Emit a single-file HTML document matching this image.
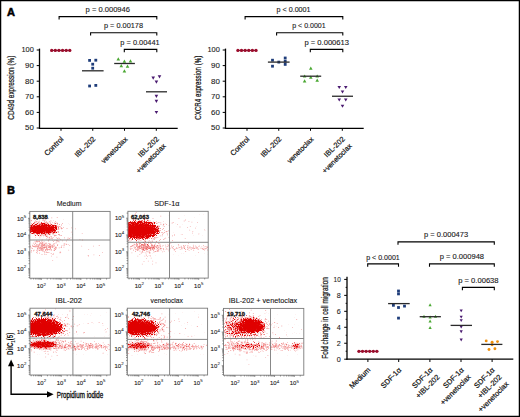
<!DOCTYPE html>
<html><head><meta charset="utf-8"><style>
html,body{margin:0;padding:0;background:#fff;}
body{width:520px;height:417px;overflow:hidden;}
svg{display:block;font-family:"Liberation Sans", sans-serif;}
</style></head><body>
<svg width="520" height="417" viewBox="0 0 520 417">
<rect width="520" height="417" fill="#fff"/>
<rect x="0.6" y="0.6" width="518.8" height="415.8" fill="none" stroke="#000" stroke-width="1.3"/>
<text x="6.90" y="15.80" font-size="11" text-anchor="start" fill="#000" stroke="#000" stroke-width="0.55" font-weight="bold" >A</text>
<text x="6.90" y="194.40" font-size="11" text-anchor="start" fill="#000" stroke="#000" stroke-width="0.55" font-weight="bold" >B</text>
<line x1="39.50" y1="48.60" x2="39.50" y2="128.80" stroke="#000" stroke-width="1.3"/>
<line x1="38.90" y1="128.30" x2="177.70" y2="128.30" stroke="#000" stroke-width="1.3"/>
<line x1="36.70" y1="50.00" x2="39.50" y2="50.00" stroke="#000" stroke-width="1.0"/>
<text x="33.80" y="52.40" font-size="7.2" text-anchor="end" fill="#1a1a1a" stroke="#1a1a1a" stroke-width="0.1" textLength="12.4" lengthAdjust="spacingAndGlyphs" >100</text>
<line x1="36.70" y1="65.60" x2="39.50" y2="65.60" stroke="#000" stroke-width="1.0"/>
<text x="33.80" y="68.00" font-size="7.2" text-anchor="end" fill="#1a1a1a" stroke="#1a1a1a" stroke-width="0.1" textLength="8.8" lengthAdjust="spacingAndGlyphs" >90</text>
<line x1="36.70" y1="81.20" x2="39.50" y2="81.20" stroke="#000" stroke-width="1.0"/>
<text x="33.80" y="83.60" font-size="7.2" text-anchor="end" fill="#1a1a1a" stroke="#1a1a1a" stroke-width="0.1" textLength="8.8" lengthAdjust="spacingAndGlyphs" >80</text>
<line x1="36.70" y1="96.80" x2="39.50" y2="96.80" stroke="#000" stroke-width="1.0"/>
<text x="33.80" y="99.20" font-size="7.2" text-anchor="end" fill="#1a1a1a" stroke="#1a1a1a" stroke-width="0.1" textLength="8.8" lengthAdjust="spacingAndGlyphs" >70</text>
<line x1="36.70" y1="112.40" x2="39.50" y2="112.40" stroke="#000" stroke-width="1.0"/>
<text x="33.80" y="114.80" font-size="7.2" text-anchor="end" fill="#1a1a1a" stroke="#1a1a1a" stroke-width="0.1" textLength="8.8" lengthAdjust="spacingAndGlyphs" >60</text>
<line x1="36.70" y1="128.00" x2="39.50" y2="128.00" stroke="#000" stroke-width="1.0"/>
<text x="33.80" y="130.40" font-size="7.2" text-anchor="end" fill="#1a1a1a" stroke="#1a1a1a" stroke-width="0.1" textLength="8.8" lengthAdjust="spacingAndGlyphs" >50</text>
<line x1="61.00" y1="128.00" x2="61.00" y2="130.80" stroke="#000" stroke-width="1.0"/>
<line x1="92.75" y1="128.00" x2="92.75" y2="130.80" stroke="#000" stroke-width="1.0"/>
<line x1="124.50" y1="128.00" x2="124.50" y2="130.80" stroke="#000" stroke-width="1.0"/>
<line x1="156.30" y1="128.00" x2="156.30" y2="130.80" stroke="#000" stroke-width="1.0"/>
<text x="0" y="0" font-size="8.8" text-anchor="middle" fill="#111" stroke="#111" stroke-width="0.22" transform="translate(14.2,87.7) rotate(-90)" textLength="64.0" lengthAdjust="spacingAndGlyphs">CD49d expression (%)</text>
<text x="0" y="0" font-size="7.4" text-anchor="end" fill="#111" stroke="#111" stroke-width="0.22" transform="translate(64.00,139.50) rotate(-45)">Control</text>
<text x="0" y="0" font-size="7.4" text-anchor="end" fill="#111" stroke="#111" stroke-width="0.22" transform="translate(95.95,139.50) rotate(-45)">IBL-202</text>
<text x="0" y="0" font-size="7.1" text-anchor="end" fill="#111" stroke="#111" stroke-width="0.22" transform="translate(127.90,139.80) rotate(-45)">venetoclax</text>
<text x="0" y="0" font-size="7.4" text-anchor="end" fill="#111" stroke="#111" stroke-width="0.22" transform="translate(159.30,139.50) rotate(-45)">IBL-202</text>
<text x="0" y="0" font-size="7.2" text-anchor="end" fill="#111" stroke="#111" stroke-width="0.22" transform="translate(166.30,146.50) rotate(-45)">+venetoclax</text>
<line x1="51.70" y1="50.40" x2="69.80" y2="50.40" stroke="#3a0a14" stroke-width="0.9"/>
<circle cx="51.70" cy="50.40" r="1.65" fill="#9c0c2c"/>
<circle cx="55.32" cy="50.40" r="1.65" fill="#9c0c2c"/>
<circle cx="58.94" cy="50.40" r="1.65" fill="#9c0c2c"/>
<circle cx="62.56" cy="50.40" r="1.65" fill="#9c0c2c"/>
<circle cx="66.18" cy="50.40" r="1.65" fill="#9c0c2c"/>
<circle cx="69.80" cy="50.40" r="1.65" fill="#9c0c2c"/>
<rect x="88.20" y="59.00" width="2.8" height="2.8" fill="#1f3d7a"/>
<rect x="94.40" y="58.80" width="2.8" height="2.8" fill="#1f3d7a"/>
<rect x="91.30" y="62.80" width="2.8" height="2.8" fill="#1f3d7a"/>
<rect x="91.30" y="66.80" width="2.8" height="2.8" fill="#1f3d7a"/>
<rect x="88.20" y="84.60" width="2.8" height="2.8" fill="#1f3d7a"/>
<rect x="94.40" y="84.00" width="2.8" height="2.8" fill="#1f3d7a"/>
<line x1="82.00" y1="70.80" x2="103.60" y2="70.80" stroke="#2a2a2a" stroke-width="1.3"/>
<path d="M116.50,60.52 L120.10,60.52 L118.30,57.28Z" fill="#4aa832"/>
<path d="M122.60,62.82 L126.20,62.82 L124.40,59.58Z" fill="#4aa832"/>
<path d="M128.70,62.42 L132.30,62.42 L130.50,59.18Z" fill="#4aa832"/>
<path d="M119.50,67.22 L123.10,67.22 L121.30,63.98Z" fill="#4aa832"/>
<path d="M125.70,67.82 L129.30,67.82 L127.50,64.58Z" fill="#4aa832"/>
<path d="M122.60,72.42 L126.20,72.42 L124.40,69.18Z" fill="#4aa832"/>
<line x1="114.20" y1="63.50" x2="134.90" y2="63.50" stroke="#2a2a2a" stroke-width="1.3"/>
<path d="M151.40,76.48 L155.00,76.48 L153.20,79.72Z" fill="#4a1a70"/>
<path d="M157.70,75.18 L161.30,75.18 L159.50,78.42Z" fill="#4a1a70"/>
<path d="M154.60,80.58 L158.20,80.58 L156.40,83.82Z" fill="#4a1a70"/>
<path d="M154.60,94.68 L158.20,94.68 L156.40,97.92Z" fill="#4a1a70"/>
<path d="M154.60,99.78 L158.20,99.78 L156.40,103.02Z" fill="#4a1a70"/>
<path d="M154.60,110.88 L158.20,110.88 L156.40,114.12Z" fill="#4a1a70"/>
<line x1="146.00" y1="91.80" x2="167.00" y2="91.80" stroke="#2a2a2a" stroke-width="1.3"/>
<path d="M59.10,19.40 L59.10,16.60 L156.80,16.60 L156.80,19.40" stroke="#000" stroke-width="1.1" fill="none"/>
<text x="85.60" y="12.00" font-size="7.2" text-anchor="start" fill="#1a1a1a" stroke="#1a1a1a" stroke-width="0.12" textLength="44.4" lengthAdjust="spacingAndGlyphs" >p = 0.000946</text>
<path d="M90.60,35.60 L90.60,32.80 L156.80,32.80 L156.80,35.60" stroke="#000" stroke-width="1.1" fill="none"/>
<text x="104.00" y="28.20" font-size="7.2" text-anchor="start" fill="#1a1a1a" stroke="#1a1a1a" stroke-width="0.12" textLength="39.0" lengthAdjust="spacingAndGlyphs" >p = 0.00178</text>
<path d="M124.30,52.20 L124.30,49.40 L156.80,49.40 L156.80,52.20" stroke="#000" stroke-width="1.1" fill="none"/>
<text x="120.30" y="44.80" font-size="7.2" text-anchor="start" fill="#1a1a1a" stroke="#1a1a1a" stroke-width="0.12" textLength="39.4" lengthAdjust="spacingAndGlyphs" >p = 0.00441</text>
<line x1="225.50" y1="48.60" x2="225.50" y2="128.80" stroke="#000" stroke-width="1.3"/>
<line x1="224.90" y1="128.30" x2="363.70" y2="128.30" stroke="#000" stroke-width="1.3"/>
<line x1="222.70" y1="50.00" x2="225.50" y2="50.00" stroke="#000" stroke-width="1.0"/>
<text x="219.80" y="52.40" font-size="7.2" text-anchor="end" fill="#1a1a1a" stroke="#1a1a1a" stroke-width="0.1" textLength="12.4" lengthAdjust="spacingAndGlyphs" >100</text>
<line x1="222.70" y1="65.60" x2="225.50" y2="65.60" stroke="#000" stroke-width="1.0"/>
<text x="219.80" y="68.00" font-size="7.2" text-anchor="end" fill="#1a1a1a" stroke="#1a1a1a" stroke-width="0.1" textLength="8.8" lengthAdjust="spacingAndGlyphs" >90</text>
<line x1="222.70" y1="81.20" x2="225.50" y2="81.20" stroke="#000" stroke-width="1.0"/>
<text x="219.80" y="83.60" font-size="7.2" text-anchor="end" fill="#1a1a1a" stroke="#1a1a1a" stroke-width="0.1" textLength="8.8" lengthAdjust="spacingAndGlyphs" >80</text>
<line x1="222.70" y1="96.80" x2="225.50" y2="96.80" stroke="#000" stroke-width="1.0"/>
<text x="219.80" y="99.20" font-size="7.2" text-anchor="end" fill="#1a1a1a" stroke="#1a1a1a" stroke-width="0.1" textLength="8.8" lengthAdjust="spacingAndGlyphs" >70</text>
<line x1="222.70" y1="112.40" x2="225.50" y2="112.40" stroke="#000" stroke-width="1.0"/>
<text x="219.80" y="114.80" font-size="7.2" text-anchor="end" fill="#1a1a1a" stroke="#1a1a1a" stroke-width="0.1" textLength="8.8" lengthAdjust="spacingAndGlyphs" >60</text>
<line x1="222.70" y1="128.00" x2="225.50" y2="128.00" stroke="#000" stroke-width="1.0"/>
<text x="219.80" y="130.40" font-size="7.2" text-anchor="end" fill="#1a1a1a" stroke="#1a1a1a" stroke-width="0.1" textLength="8.8" lengthAdjust="spacingAndGlyphs" >50</text>
<line x1="247.00" y1="128.00" x2="247.00" y2="130.80" stroke="#000" stroke-width="1.0"/>
<line x1="278.75" y1="128.00" x2="278.75" y2="130.80" stroke="#000" stroke-width="1.0"/>
<line x1="310.50" y1="128.00" x2="310.50" y2="130.80" stroke="#000" stroke-width="1.0"/>
<line x1="342.30" y1="128.00" x2="342.30" y2="130.80" stroke="#000" stroke-width="1.0"/>
<text x="0" y="0" font-size="8.8" text-anchor="middle" fill="#111" stroke="#111" stroke-width="0.22" transform="translate(200.79999999999998,87.7) rotate(-90)" textLength="64.0" lengthAdjust="spacingAndGlyphs">CXCR4 expression (%)</text>
<text x="0" y="0" font-size="7.4" text-anchor="end" fill="#111" stroke="#111" stroke-width="0.22" transform="translate(250.00,139.50) rotate(-45)">Control</text>
<text x="0" y="0" font-size="7.4" text-anchor="end" fill="#111" stroke="#111" stroke-width="0.22" transform="translate(281.95,139.50) rotate(-45)">IBL-202</text>
<text x="0" y="0" font-size="7.1" text-anchor="end" fill="#111" stroke="#111" stroke-width="0.22" transform="translate(313.90,139.80) rotate(-45)">venetoclax</text>
<text x="0" y="0" font-size="7.4" text-anchor="end" fill="#111" stroke="#111" stroke-width="0.22" transform="translate(345.30,139.50) rotate(-45)">IBL-202</text>
<text x="0" y="0" font-size="7.2" text-anchor="end" fill="#111" stroke="#111" stroke-width="0.22" transform="translate(352.30,146.50) rotate(-45)">+venetoclax</text>
<line x1="237.90" y1="50.40" x2="256.00" y2="50.40" stroke="#3a0a14" stroke-width="0.9"/>
<circle cx="237.90" cy="50.40" r="1.65" fill="#9c0c2c"/>
<circle cx="241.52" cy="50.40" r="1.65" fill="#9c0c2c"/>
<circle cx="245.14" cy="50.40" r="1.65" fill="#9c0c2c"/>
<circle cx="248.76" cy="50.40" r="1.65" fill="#9c0c2c"/>
<circle cx="252.38" cy="50.40" r="1.65" fill="#9c0c2c"/>
<circle cx="256.00" cy="50.40" r="1.65" fill="#9c0c2c"/>
<rect x="271.10" y="58.80" width="2.8" height="2.8" fill="#1f3d7a"/>
<rect x="271.10" y="64.80" width="2.8" height="2.8" fill="#1f3d7a"/>
<rect x="277.40" y="60.70" width="2.8" height="2.8" fill="#1f3d7a"/>
<rect x="283.80" y="56.60" width="2.8" height="2.8" fill="#1f3d7a"/>
<rect x="283.80" y="59.80" width="2.8" height="2.8" fill="#1f3d7a"/>
<rect x="283.80" y="63.00" width="2.8" height="2.8" fill="#1f3d7a"/>
<line x1="267.90" y1="62.10" x2="289.60" y2="62.10" stroke="#2a2a2a" stroke-width="1.3"/>
<path d="M309.00,69.82 L312.60,69.82 L310.80,66.58Z" fill="#4aa832"/>
<path d="M302.80,77.62 L306.40,77.62 L304.60,74.38Z" fill="#4aa832"/>
<path d="M309.00,78.72 L312.60,78.72 L310.80,75.48Z" fill="#4aa832"/>
<path d="M315.40,77.62 L319.00,77.62 L317.20,74.38Z" fill="#4aa832"/>
<path d="M302.80,82.52 L306.40,82.52 L304.60,79.28Z" fill="#4aa832"/>
<path d="M315.40,81.82 L319.00,81.82 L317.20,78.58Z" fill="#4aa832"/>
<line x1="300.20" y1="76.20" x2="321.20" y2="76.20" stroke="#2a2a2a" stroke-width="1.3"/>
<path d="M337.45,85.88 L341.05,85.88 L339.25,89.12Z" fill="#4a1a70"/>
<path d="M343.95,85.88 L347.55,85.88 L345.75,89.12Z" fill="#4a1a70"/>
<path d="M340.70,90.38 L344.30,90.38 L342.50,93.62Z" fill="#4a1a70"/>
<path d="M337.45,98.38 L341.05,98.38 L339.25,101.62Z" fill="#4a1a70"/>
<path d="M343.95,98.38 L347.55,98.38 L345.75,101.62Z" fill="#4a1a70"/>
<path d="M340.70,104.63 L344.30,104.63 L342.50,107.87Z" fill="#4a1a70"/>
<line x1="332.00" y1="96.25" x2="353.00" y2="96.25" stroke="#2a2a2a" stroke-width="1.3"/>
<path d="M245.10,19.40 L245.10,16.60 L342.80,16.60 L342.80,19.40" stroke="#000" stroke-width="1.1" fill="none"/>
<text x="276.50" y="12.00" font-size="7.2" text-anchor="start" fill="#1a1a1a" stroke="#1a1a1a" stroke-width="0.12" textLength="34.1" lengthAdjust="spacingAndGlyphs" >p &lt; 0.0001</text>
<path d="M276.60,35.60 L276.60,32.80 L342.80,32.80 L342.80,35.60" stroke="#000" stroke-width="1.1" fill="none"/>
<text x="292.25" y="28.20" font-size="7.2" text-anchor="start" fill="#1a1a1a" stroke="#1a1a1a" stroke-width="0.12" textLength="33.4" lengthAdjust="spacingAndGlyphs" >p &lt; 0.0001</text>
<path d="M310.30,52.20 L310.30,49.40 L342.80,49.40 L342.80,52.20" stroke="#000" stroke-width="1.1" fill="none"/>
<text x="304.50" y="44.80" font-size="7.2" text-anchor="start" fill="#1a1a1a" stroke="#1a1a1a" stroke-width="0.12" textLength="44.5" lengthAdjust="spacingAndGlyphs" >p = 0.000613</text>
<defs><filter id="bl" x="-50%" y="-50%" width="200%" height="200%"><feGaussianBlur stdDeviation="1.6"/></filter><filter id="bl2" x="-50%" y="-50%" width="200%" height="200%"><feGaussianBlur stdDeviation="3"/></filter><filter id="sm" x="-5%" y="-5%" width="110%" height="110%"><feGaussianBlur stdDeviation="0.45"/></filter><filter id="gr" x="-20%" y="-20%" width="140%" height="140%" color-interpolation-filters="sR0.05"><feTurbulence type="fractalNoise" baseFrequency="1.1" numOctaves="1" seed="5" result="n"/><feColorMatrix in="n" type="matrix" values="0 0 0 0 0  0 0 0 0 0  0 0 0 0 0  2.2 0 0 0 -0.6" result="na"/><feComposite in="SourceAlpha" in2="na" operator="arithmetic" k1="0" k2="3.5" k3="-3.5" k4="0.05" result="m"/><feFlood flood-color="#e00000"/><feComposite in2="m" operator="in"/></filter></defs>
<clipPath id="c1"><rect x="29.80" y="211.40" width="80.3" height="66.8"/></clipPath>
<g clip-path="url(#c1)"><g filter="url(#sm)">
<g filter="url(#gr)">
<ellipse cx="42" cy="229" rx="20.52" ry="7.28" fill="#000" fill-opacity="0.3" filter="url(#bl2)"/>
<ellipse cx="42" cy="229" rx="15.66" ry="4.93" fill="#000" fill-opacity="1.0" filter="url(#bl)"/>
</g>
<ellipse cx="42" cy="229" rx="12.32" ry="3.52" fill="#e00000" fill-opacity="1.0" filter="url(#bl)"/>
<path d="M45.0 230.3h.8v.8h-.8zM42.7 225.3h.8v.8h-.8zM41.1 224.8h.8v.8h-.8zM45.5 234.6h.8v.8h-.8zM40.8 226.4h.8v.8h-.8zM49.2 230.5h.8v.8h-.8zM45.9 225.1h.8v.8h-.8zM44.8 231.9h.8v.8h-.8zM33.6 227.1h.8v.8h-.8zM34.2 230.1h.8v.8h-.8zM46.3 228.2h.8v.8h-.8zM44.6 229.5h.8v.8h-.8zM32.0 227.0h.8v.8h-.8zM36.7 225.6h.8v.8h-.8zM54.0 225.6h.8v.8h-.8zM44.7 232.7h.8v.8h-.8zM40.0 228.5h.8v.8h-.8zM45.9 229.3h.8v.8h-.8zM34.6 229.3h.8v.8h-.8zM56.5 222.5h.8v.8h-.8zM52.3 229.5h.8v.8h-.8zM39.5 237.4h.8v.8h-.8zM51.5 224.0h.8v.8h-.8zM45.6 231.4h.8v.8h-.8zM43.4 231.9h.8v.8h-.8zM44.4 231.8h.8v.8h-.8zM57.2 226.2h.8v.8h-.8zM46.7 227.1h.8v.8h-.8zM46.1 224.0h.8v.8h-.8zM40.1 228.2h.8v.8h-.8zM52.6 233.8h.8v.8h-.8zM33.8 225.7h.8v.8h-.8zM50.5 220.6h.8v.8h-.8zM41.1 228.6h.8v.8h-.8zM55.7 231.9h.8v.8h-.8zM42.2 227.5h.8v.8h-.8zM42.9 235.4h.8v.8h-.8zM41.4 227.7h.8v.8h-.8zM48.0 228.5h.8v.8h-.8zM43.3 224.3h.8v.8h-.8zM44.9 227.1h.8v.8h-.8zM54.9 231.7h.8v.8h-.8zM44.8 231.8h.8v.8h-.8zM42.1 233.4h.8v.8h-.8zM45.0 231.5h.8v.8h-.8zM34.0 230.5h.8v.8h-.8zM30.7 220.5h.8v.8h-.8zM42.4 225.2h.8v.8h-.8zM46.4 238.4h.8v.8h-.8zM37.9 226.4h.8v.8h-.8zM46.7 231.1h.8v.8h-.8zM43.5 228.1h.8v.8h-.8zM51.0 231.2h.8v.8h-.8zM36.2 228.7h.8v.8h-.8zM45.3 224.6h.8v.8h-.8zM47.2 225.4h.8v.8h-.8zM53.3 229.8h.8v.8h-.8zM45.8 226.5h.8v.8h-.8zM44.0 220.6h.8v.8h-.8zM35.4 230.5h.8v.8h-.8zM30.2 232.2h.8v.8h-.8zM37.8 232.3h.8v.8h-.8zM46.1 222.5h.8v.8h-.8zM55.6 235.1h.8v.8h-.8zM44.4 227.8h.8v.8h-.8zM43.6 224.9h.8v.8h-.8zM54.3 226.7h.8v.8h-.8zM44.6 225.7h.8v.8h-.8zM39.7 223.6h.8v.8h-.8zM55.7 228.4h.8v.8h-.8zM53.2 229.1h.8v.8h-.8zM39.1 227.6h.8v.8h-.8zM40.2 229.0h.8v.8h-.8zM41.8 227.7h.8v.8h-.8zM33.3 225.6h.8v.8h-.8zM59.1 226.2h.8v.8h-.8zM36.0 230.4h.8v.8h-.8zM57.0 222.9h.8v.8h-.8zM43.2 226.3h.8v.8h-.8zM30.0 232.1h.8v.8h-.8zM44.8 229.3h.8v.8h-.8zM38.6 230.9h.8v.8h-.8zM40.4 228.4h.8v.8h-.8zM35.6 223.9h.8v.8h-.8zM56.4 226.9h.8v.8h-.8zM47.5 228.9h.8v.8h-.8zM41.3 226.9h.8v.8h-.8zM50.4 227.7h.8v.8h-.8zM43.7 229.1h.8v.8h-.8zM55.0 231.9h.8v.8h-.8zM48.3 226.6h.8v.8h-.8zM33.3 233.0h.8v.8h-.8zM53.2 228.4h.8v.8h-.8zM49.6 232.3h.8v.8h-.8zM52.1 232.9h.8v.8h-.8zM41.1 235.4h.8v.8h-.8zM34.4 232.6h.8v.8h-.8zM49.2 232.7h.8v.8h-.8zM61.0 235.2h.8v.8h-.8zM35.3 221.9h.8v.8h-.8zM51.9 224.7h.8v.8h-.8zM44.9 232.5h.8v.8h-.8zM31.0 220.1h.8v.8h-.8zM47.2 229.2h.8v.8h-.8zM42.9 229.2h.8v.8h-.8zM37.7 222.6h.8v.8h-.8zM43.6 224.9h.8v.8h-.8zM31.0 231.1h.8v.8h-.8zM44.5 230.7h.8v.8h-.8zM36.6 226.2h.8v.8h-.8zM36.5 225.3h.8v.8h-.8zM46.7 225.7h.8v.8h-.8zM48.0 230.4h.8v.8h-.8zM62.2 223.2h.8v.8h-.8zM52.5 228.6h.8v.8h-.8zM44.9 222.9h.8v.8h-.8zM41.1 232.1h.8v.8h-.8zM44.3 229.3h.8v.8h-.8zM42.5 233.8h.8v.8h-.8zM44.8 219.8h.8v.8h-.8zM39.1 220.7h.8v.8h-.8zM56.3 229.2h.8v.8h-.8zM35.0 225.0h.8v.8h-.8zM54.6 229.7h.8v.8h-.8zM45.4 228.8h.8v.8h-.8zM45.3 232.4h.8v.8h-.8zM49.7 229.9h.8v.8h-.8zM36.1 231.1h.8v.8h-.8zM39.2 233.6h.8v.8h-.8zM34.2 228.4h.8v.8h-.8zM44.9 223.4h.8v.8h-.8zM59.6 235.1h.8v.8h-.8zM41.1 232.2h.8v.8h-.8zM48.2 218.0h.8v.8h-.8zM47.1 228.7h.8v.8h-.8zM45.7 224.5h.8v.8h-.8zM42.7 228.3h.8v.8h-.8zM55.1 230.4h.8v.8h-.8zM45.0 235.4h.8v.8h-.8zM40.3 227.4h.8v.8h-.8zM53.2 232.9h.8v.8h-.8zM50.7 229.5h.8v.8h-.8zM46.8 227.9h.8v.8h-.8zM43.3 229.2h.8v.8h-.8zM57.9 231.3h.8v.8h-.8zM44.5 226.6h.8v.8h-.8zM39.6 235.7h.8v.8h-.8zM49.3 229.3h.8v.8h-.8zM42.1 224.3h.8v.8h-.8zM44.4 232.7h.8v.8h-.8zM41.7 228.0h.8v.8h-.8zM43.1 229.5h.8v.8h-.8zM31.5 228.0h.8v.8h-.8zM37.7 232.7h.8v.8h-.8zM38.4 231.4h.8v.8h-.8zM58.0 227.7h.8v.8h-.8zM39.9 229.8h.8v.8h-.8zM45.0 224.8h.8v.8h-.8zM48.9 237.5h.8v.8h-.8zM42.8 228.1h.8v.8h-.8zM36.1 230.3h.8v.8h-.8zM34.4 224.4h.8v.8h-.8zM55.9 225.2h.8v.8h-.8zM54.2 235.4h.8v.8h-.8zM47.2 231.3h.8v.8h-.8zM61.6 228.2h.8v.8h-.8zM40.0 223.3h.8v.8h-.8zM45.4 235.2h.8v.8h-.8zM53.2 225.0h.8v.8h-.8zM37.7 226.9h.8v.8h-.8zM47.5 228.1h.8v.8h-.8zM46.8 230.2h.8v.8h-.8zM42.5 228.8h.8v.8h-.8zM46.8 228.6h.8v.8h-.8zM49.3 236.9h.8v.8h-.8zM50.0 229.2h.8v.8h-.8zM30.7 230.6h.8v.8h-.8zM52.3 232.0h.8v.8h-.8zM43.7 221.8h.8v.8h-.8zM41.8 226.1h.8v.8h-.8zM50.4 238.5h.8v.8h-.8zM46.8 225.7h.8v.8h-.8zM35.1 228.8h.8v.8h-.8zM43.5 224.2h.8v.8h-.8zM46.0 224.2h.8v.8h-.8zM54.5 233.5h.8v.8h-.8zM54.2 227.0h.8v.8h-.8zM49.4 228.4h.8v.8h-.8zM41.7 227.6h.8v.8h-.8zM34.0 222.9h.8v.8h-.8zM51.8 228.2h.8v.8h-.8zM46.8 233.2h.8v.8h-.8zM30.3 225.7h.8v.8h-.8zM46.5 230.6h.8v.8h-.8zM41.8 233.3h.8v.8h-.8zM46.8 223.9h.8v.8h-.8zM37.1 232.4h.8v.8h-.8zM48.9 221.0h.8v.8h-.8zM56.5 231.5h.8v.8h-.8zM56.4 227.4h.8v.8h-.8zM42.5 224.3h.8v.8h-.8zM66.6 228.3h.8v.8h-.8zM58.5 226.3h.8v.8h-.8zM46.4 222.0h.8v.8h-.8zM41.7 233.1h.8v.8h-.8zM34.4 233.5h.8v.8h-.8zM47.9 224.6h.8v.8h-.8zM40.7 227.1h.8v.8h-.8zM44.6 226.7h.8v.8h-.8zM38.0 227.7h.8v.8h-.8zM36.3 223.6h.8v.8h-.8zM44.6 232.7h.8v.8h-.8zM32.0 229.0h.8v.8h-.8zM39.5 224.9h.8v.8h-.8zM52.3 226.8h.8v.8h-.8zM57.7 225.7h.8v.8h-.8zM48.3 228.0h.8v.8h-.8zM38.6 231.5h.8v.8h-.8zM43.7 231.5h.8v.8h-.8zM44.6 224.4h.8v.8h-.8zM44.1 229.2h.8v.8h-.8zM53.1 225.2h.8v.8h-.8zM44.7 221.8h.8v.8h-.8zM50.5 224.5h.8v.8h-.8zM54.4 222.6h.8v.8h-.8zM35.8 225.9h.8v.8h-.8zM35.4 230.6h.8v.8h-.8zM38.1 226.0h.8v.8h-.8zM50.0 225.8h.8v.8h-.8zM48.7 224.9h.8v.8h-.8zM34.7 221.3h.8v.8h-.8zM60.8 227.7h.8v.8h-.8zM47.1 228.9h.8v.8h-.8zM46.4 229.2h.8v.8h-.8zM61.2 224.6h.8v.8h-.8zM31.8 224.7h.8v.8h-.8zM33.7 232.1h.8v.8h-.8zM52.0 225.0h.8v.8h-.8zM33.2 227.5h.8v.8h-.8zM56.8 217.2h.8v.8h-.8zM49.5 224.5h.8v.8h-.8zM53.8 224.5h.8v.8h-.8zM42.6 222.7h.8v.8h-.8zM36.7 234.8h.8v.8h-.8zM52.0 227.3h.8v.8h-.8zM37.6 221.0h.8v.8h-.8zM41.7 228.9h.8v.8h-.8zM44.3 228.6h.8v.8h-.8zM35.5 228.7h.8v.8h-.8zM44.7 234.4h.8v.8h-.8zM60.9 228.4h.8v.8h-.8zM38.5 228.7h.8v.8h-.8zM39.8 225.9h.8v.8h-.8zM44.5 224.6h.8v.8h-.8zM50.2 228.6h.8v.8h-.8zM47.1 228.2h.8v.8h-.8zM38.8 225.0h.8v.8h-.8zM43.0 226.7h.8v.8h-.8zM47.0 229.0h.8v.8h-.8zM33.4 229.3h.8v.8h-.8zM33.6 226.4h.8v.8h-.8zM42.5 220.3h.8v.8h-.8zM45.8 229.6h.8v.8h-.8zM43.7 227.2h.8v.8h-.8zM41.8 224.9h.8v.8h-.8zM42.7 226.7h.8v.8h-.8zM45.8 223.9h.8v.8h-.8zM47.0 229.6h.8v.8h-.8zM43.8 227.2h.8v.8h-.8zM49.7 222.0h.8v.8h-.8zM48.9 230.0h.8v.8h-.8zM47.4 230.6h.8v.8h-.8zM39.4 227.9h.8v.8h-.8zM50.4 230.8h.8v.8h-.8zM46.8 222.6h.8v.8h-.8zM49.6 233.9h.8v.8h-.8zM53.6 230.0h.8v.8h-.8zM31.8 233.0h.8v.8h-.8zM43.7 218.4h.8v.8h-.8zM48.2 222.7h.8v.8h-.8zM34.0 226.3h.8v.8h-.8zM55.8 227.4h.8v.8h-.8zM47.3 236.3h.8v.8h-.8zM58.5 228.6h.8v.8h-.8zM42.9 223.7h.8v.8h-.8zM39.1 230.8h.8v.8h-.8zM48.4 229.5h.8v.8h-.8zM53.5 225.8h.8v.8h-.8zM44.5 232.1h.8v.8h-.8zM50.0 233.5h.8v.8h-.8zM48.4 227.7h.8v.8h-.8zM48.1 224.8h.8v.8h-.8zM31.1 231.4h.8v.8h-.8zM44.5 230.3h.8v.8h-.8zM30.6 227.5h.8v.8h-.8zM39.9 225.4h.8v.8h-.8zM52.6 230.6h.8v.8h-.8zM39.9 228.9h.8v.8h-.8zM51.4 217.4h.8v.8h-.8zM43.9 231.3h.8v.8h-.8zM50.8 236.1h.8v.8h-.8zM54.6 230.3h.8v.8h-.8zM47.6 232.3h.8v.8h-.8zM40.4 228.8h.8v.8h-.8zM52.7 237.2h.8v.8h-.8zM43.6 228.8h.8v.8h-.8zM46.7 234.6h.8v.8h-.8zM44.7 235.2h.8v.8h-.8zM36.8 228.2h.8v.8h-.8zM43.3 232.3h.8v.8h-.8zM53.9 222.7h.8v.8h-.8zM37.2 230.4h.8v.8h-.8zM39.4 222.6h.8v.8h-.8zM53.8 231.1h.8v.8h-.8zM49.2 227.0h.8v.8h-.8zM53.7 228.0h.8v.8h-.8zM54.3 225.2h.8v.8h-.8zM37.7 229.9h.8v.8h-.8zM39.0 231.8h.8v.8h-.8zM47.2 225.1h.8v.8h-.8zM45.6 227.5h.8v.8h-.8zM52.8 226.3h.8v.8h-.8zM41.3 234.1h.8v.8h-.8zM64.0 237.4h.8v.8h-.8zM45.5 229.9h.8v.8h-.8zM58.0 228.5h.8v.8h-.8zM36.7 229.5h.8v.8h-.8zM48.8 225.5h.8v.8h-.8zM31.0 223.0h.8v.8h-.8zM50.7 225.8h.8v.8h-.8zM43.8 229.9h.8v.8h-.8zM50.3 227.6h.8v.8h-.8zM49.2 225.3h.8v.8h-.8zM41.9 224.7h.8v.8h-.8zM54.6 228.9h.8v.8h-.8zM38.7 227.5h.8v.8h-.8zM43.1 231.9h.8v.8h-.8zM31.4 224.6h.8v.8h-.8zM41.8 239.6h.8v.8h-.8zM53.1 228.5h.8v.8h-.8zM51.1 237.6h.8v.8h-.8z" fill="#e00000" fill-opacity="0.45"/>
<path d="M40.9 246.0h.8v.8h-.8zM53.9 248.4h.8v.8h-.8zM49.0 245.6h.8v.8h-.8zM60.3 251.8h.8v.8h-.8zM48.1 248.9h.8v.8h-.8zM41.3 248.2h.8v.8h-.8zM49.1 246.0h.8v.8h-.8zM36.3 246.1h.8v.8h-.8zM37.6 246.0h.8v.8h-.8zM45.3 250.1h.8v.8h-.8zM60.8 247.1h.8v.8h-.8zM32.1 245.6h.8v.8h-.8zM43.7 241.4h.8v.8h-.8zM46.1 242.8h.8v.8h-.8zM45.7 246.7h.8v.8h-.8zM40.2 246.8h.8v.8h-.8zM38.1 245.3h.8v.8h-.8zM59.6 252.5h.8v.8h-.8zM54.9 249.0h.8v.8h-.8zM36.9 251.0h.8v.8h-.8zM42.5 246.8h.8v.8h-.8zM40.4 247.3h.8v.8h-.8zM39.1 246.8h.8v.8h-.8zM33.2 246.0h.8v.8h-.8zM63.5 246.8h.8v.8h-.8zM40.9 248.5h.8v.8h-.8zM49.4 243.9h.8v.8h-.8zM41.1 249.6h.8v.8h-.8zM45.4 247.3h.8v.8h-.8zM57.0 245.1h.8v.8h-.8zM43.7 245.5h.8v.8h-.8zM56.4 241.5h.8v.8h-.8zM37.0 245.5h.8v.8h-.8zM49.0 248.7h.8v.8h-.8zM55.6 242.6h.8v.8h-.8zM49.8 246.2h.8v.8h-.8zM37.0 248.5h.8v.8h-.8zM34.7 241.2h.8v.8h-.8zM39.7 242.8h.8v.8h-.8zM37.2 248.0h.8v.8h-.8zM45.8 251.4h.8v.8h-.8zM41.2 242.7h.8v.8h-.8zM36.2 244.4h.8v.8h-.8zM32.0 248.2h.8v.8h-.8zM37.2 241.5h.8v.8h-.8zM49.3 246.7h.8v.8h-.8zM46.2 247.3h.8v.8h-.8zM48.7 247.1h.8v.8h-.8zM54.1 248.2h.8v.8h-.8zM46.5 248.1h.8v.8h-.8zM29.9 246.5h.8v.8h-.8zM40.7 247.6h.8v.8h-.8zM30.8 251.6h.8v.8h-.8zM43.9 243.6h.8v.8h-.8zM42.2 245.0h.8v.8h-.8zM43.8 245.2h.8v.8h-.8zM48.0 245.0h.8v.8h-.8zM42.7 249.7h.8v.8h-.8zM66.1 244.2h.8v.8h-.8zM38.8 244.6h.8v.8h-.8zM50.1 243.8h.8v.8h-.8zM38.6 246.9h.8v.8h-.8zM34.2 244.3h.8v.8h-.8zM38.7 241.1h.8v.8h-.8zM30.0 245.8h.8v.8h-.8zM44.3 246.5h.8v.8h-.8zM50.2 248.6h.8v.8h-.8zM42.3 244.5h.8v.8h-.8zM48.7 245.4h.8v.8h-.8zM32.5 244.8h.8v.8h-.8zM56.0 247.6h.8v.8h-.8zM53.4 245.7h.8v.8h-.8zM51.4 245.3h.8v.8h-.8zM41.6 254.0h.8v.8h-.8zM49.9 245.6h.8v.8h-.8zM42.2 247.9h.8v.8h-.8zM53.9 245.6h.8v.8h-.8zM43.1 247.3h.8v.8h-.8zM54.9 247.9h.8v.8h-.8zM50.3 243.9h.8v.8h-.8zM50.8 252.9h.8v.8h-.8zM50.0 247.7h.8v.8h-.8zM44.4 252.0h.8v.8h-.8zM34.7 246.7h.8v.8h-.8zM47.1 249.1h.8v.8h-.8zM39.1 247.9h.8v.8h-.8zM40.5 247.3h.8v.8h-.8zM41.8 243.8h.8v.8h-.8zM42.8 249.5h.8v.8h-.8zM34.3 246.3h.8v.8h-.8zM49.0 244.0h.8v.8h-.8zM44.6 244.0h.8v.8h-.8zM53.2 253.5h.8v.8h-.8zM61.2 246.4h.8v.8h-.8zM49.7 247.3h.8v.8h-.8zM43.9 251.3h.8v.8h-.8zM31.1 250.0h.8v.8h-.8zM42.6 250.9h.8v.8h-.8zM44.7 245.1h.8v.8h-.8zM45.5 249.1h.8v.8h-.8zM43.3 248.4h.8v.8h-.8zM38.3 241.0h.8v.8h-.8zM51.1 249.0h.8v.8h-.8zM44.3 247.2h.8v.8h-.8zM52.3 245.7h.8v.8h-.8zM36.6 246.5h.8v.8h-.8zM53.7 243.1h.8v.8h-.8zM53.7 245.2h.8v.8h-.8zM33.1 250.5h.8v.8h-.8zM42.1 243.4h.8v.8h-.8zM39.8 249.6h.8v.8h-.8zM53.7 245.8h.8v.8h-.8zM46.7 249.0h.8v.8h-.8zM37.2 248.0h.8v.8h-.8zM42.7 245.5h.8v.8h-.8zM38.6 247.2h.8v.8h-.8zM43.3 245.4h.8v.8h-.8zM39.2 250.1h.8v.8h-.8zM44.9 249.5h.8v.8h-.8zM53.8 248.6h.8v.8h-.8zM63.4 244.7h.8v.8h-.8zM50.3 246.1h.8v.8h-.8zM59.7 251.8h.8v.8h-.8zM49.0 249.2h.8v.8h-.8zM49.6 246.8h.8v.8h-.8zM47.1 248.8h.8v.8h-.8zM42.3 249.9h.8v.8h-.8zM33.7 249.7h.8v.8h-.8zM40.9 244.5h.8v.8h-.8zM46.4 244.4h.8v.8h-.8zM34.8 242.6h.8v.8h-.8zM42.8 248.4h.8v.8h-.8zM52.2 246.6h.8v.8h-.8zM52.4 247.1h.8v.8h-.8zM42.2 248.6h.8v.8h-.8zM52.5 246.0h.8v.8h-.8zM40.8 246.5h.8v.8h-.8zM43.7 244.5h.8v.8h-.8zM52.3 245.9h.8v.8h-.8zM47.2 244.7h.8v.8h-.8zM46.2 248.1h.8v.8h-.8zM39.2 252.7h.8v.8h-.8zM46.3 252.0h.8v.8h-.8zM51.6 245.1h.8v.8h-.8zM39.6 248.2h.8v.8h-.8zM43.6 247.1h.8v.8h-.8zM40.4 241.9h.8v.8h-.8zM41.0 240.8h.8v.8h-.8zM46.3 245.0h.8v.8h-.8zM36.6 246.4h.8v.8h-.8zM45.5 243.0h.8v.8h-.8zM57.3 244.0h.8v.8h-.8zM48.9 243.2h.8v.8h-.8zM45.7 246.1h.8v.8h-.8zM42.5 248.6h.8v.8h-.8zM58.8 247.5h.8v.8h-.8zM44.1 244.3h.8v.8h-.8zM48.3 246.3h.8v.8h-.8zM50.5 246.9h.8v.8h-.8zM58.7 241.4h.8v.8h-.8zM40.3 249.5h.8v.8h-.8zM39.8 244.8h.8v.8h-.8zM40.6 243.1h.8v.8h-.8zM44.1 253.8h.8v.8h-.8zM53.3 243.9h.8v.8h-.8zM35.1 245.9h.8v.8h-.8zM52.0 244.7h.8v.8h-.8zM36.8 249.5h.8v.8h-.8zM50.8 246.0h.8v.8h-.8zM32.9 242.7h.8v.8h-.8zM36.7 240.8h.8v.8h-.8zM49.7 245.2h.8v.8h-.8zM47.3 252.2h.8v.8h-.8zM53.6 243.8h.8v.8h-.8zM50.8 250.2h.8v.8h-.8zM36.3 244.3h.8v.8h-.8zM42.0 242.5h.8v.8h-.8zM56.2 240.3h.8v.8h-.8zM33.0 246.2h.8v.8h-.8zM41.0 247.5h.8v.8h-.8zM45.4 246.4h.8v.8h-.8zM53.2 241.0h.8v.8h-.8zM43.0 245.0h.8v.8h-.8zM44.2 247.6h.8v.8h-.8zM34.8 245.2h.8v.8h-.8zM50.1 248.0h.8v.8h-.8zM36.9 252.7h.8v.8h-.8zM63.8 242.9h.8v.8h-.8zM45.7 254.0h.8v.8h-.8zM50.1 247.6h.8v.8h-.8zM41.1 245.5h.8v.8h-.8zM41.1 245.5h.8v.8h-.8zM49.7 245.9h.8v.8h-.8zM39.0 243.6h.8v.8h-.8zM42.6 244.5h.8v.8h-.8zM41.4 249.9h.8v.8h-.8zM46.3 248.4h.8v.8h-.8zM46.2 247.2h.8v.8h-.8zM41.9 246.1h.8v.8h-.8zM49.8 244.0h.8v.8h-.8zM55.1 247.1h.8v.8h-.8zM36.3 245.6h.8v.8h-.8zM36.9 247.4h.8v.8h-.8zM36.5 250.2h.8v.8h-.8zM36.0 240.6h.8v.8h-.8zM36.4 241.4h.8v.8h-.8zM42.6 250.0h.8v.8h-.8zM48.8 243.3h.8v.8h-.8zM36.1 252.0h.8v.8h-.8zM45.9 247.0h.8v.8h-.8zM52.5 253.9h.8v.8h-.8zM54.7 247.4h.8v.8h-.8zM46.2 248.7h.8v.8h-.8zM37.5 244.0h.8v.8h-.8zM43.5 244.3h.8v.8h-.8zM42.4 247.3h.8v.8h-.8zM64.1 244.6h.8v.8h-.8zM41.9 246.5h.8v.8h-.8zM46.9 249.9h.8v.8h-.8zM38.6 244.7h.8v.8h-.8zM47.8 247.1h.8v.8h-.8zM33.9 246.0h.8v.8h-.8zM43.3 248.4h.8v.8h-.8zM37.7 246.3h.8v.8h-.8zM57.6 240.9h.8v.8h-.8zM40.0 247.6h.8v.8h-.8zM39.6 244.7h.8v.8h-.8zM42.5 247.0h.8v.8h-.8zM42.3 241.7h.8v.8h-.8zM41.7 244.6h.8v.8h-.8zM38.1 247.6h.8v.8h-.8zM48.8 249.5h.8v.8h-.8zM38.5 249.6h.8v.8h-.8zM53.6 250.2h.8v.8h-.8zM55.5 246.6h.8v.8h-.8zM41.4 249.3h.8v.8h-.8zM30.7 247.6h.8v.8h-.8zM38.2 246.0h.8v.8h-.8zM42.8 249.5h.8v.8h-.8zM51.9 246.8h.8v.8h-.8zM41.3 244.7h.8v.8h-.8zM46.6 246.3h.8v.8h-.8zM48.5 251.9h.8v.8h-.8zM42.7 242.8h.8v.8h-.8zM35.3 242.9h.8v.8h-.8z" fill="#e00000" fill-opacity="0.45"/>
<path d="M51.1 255.8h.8v.8h-.8zM79.5 238.9h.8v.8h-.8zM88.1 255.6h.8v.8h-.8zM67.8 243.9h.8v.8h-.8zM68.3 249.7h.8v.8h-.8zM87.8 255.1h.8v.8h-.8zM99.2 255.1h.8v.8h-.8zM102.2 252.0h.8v.8h-.8zM44.4 247.2h.8v.8h-.8zM81.3 245.7h.8v.8h-.8zM93.2 245.8h.8v.8h-.8zM56.5 256.7h.8v.8h-.8zM88.3 249.3h.8v.8h-.8zM93.5 254.4h.8v.8h-.8zM81.8 233.3h.8v.8h-.8zM61.5 245.3h.8v.8h-.8zM55.3 249.2h.8v.8h-.8zM98.8 245.1h.8v.8h-.8zM52.3 260.2h.8v.8h-.8zM66.0 240.6h.8v.8h-.8z" fill="#e00000" fill-opacity="0.35"/>
<path d="M57.4 238.1h.8v.8h-.8zM47.9 240.0h.8v.8h-.8zM50.1 231.4h.8v.8h-.8zM56.8 239.9h.8v.8h-.8zM48.7 237.7h.8v.8h-.8zM54.1 250.1h.8v.8h-.8zM47.9 242.9h.8v.8h-.8zM54.5 235.4h.8v.8h-.8zM62.2 240.5h.8v.8h-.8zM67.7 237.6h.8v.8h-.8zM49.0 233.3h.8v.8h-.8zM60.1 238.9h.8v.8h-.8zM69.0 238.1h.8v.8h-.8zM65.6 243.6h.8v.8h-.8zM56.6 228.6h.8v.8h-.8zM43.2 228.8h.8v.8h-.8zM70.9 231.8h.8v.8h-.8zM67.3 238.9h.8v.8h-.8zM72.2 241.0h.8v.8h-.8zM54.0 235.0h.8v.8h-.8zM55.9 236.9h.8v.8h-.8zM49.7 235.8h.8v.8h-.8zM71.1 227.5h.8v.8h-.8zM57.6 231.5h.8v.8h-.8zM56.9 240.2h.8v.8h-.8zM54.4 239.9h.8v.8h-.8zM39.1 241.5h.8v.8h-.8zM49.0 239.1h.8v.8h-.8zM56.8 223.1h.8v.8h-.8zM47.4 237.1h.8v.8h-.8zM70.5 237.4h.8v.8h-.8zM57.6 228.9h.8v.8h-.8zM69.3 245.0h.8v.8h-.8zM55.3 234.9h.8v.8h-.8zM38.8 240.4h.8v.8h-.8zM82.0 239.6h.8v.8h-.8zM67.6 238.7h.8v.8h-.8zM45.1 242.7h.8v.8h-.8zM42.7 234.9h.8v.8h-.8zM57.8 240.4h.8v.8h-.8zM59.2 237.9h.8v.8h-.8zM47.4 229.6h.8v.8h-.8zM55.6 232.4h.8v.8h-.8zM41.9 229.7h.8v.8h-.8zM50.1 226.7h.8v.8h-.8zM41.5 227.8h.8v.8h-.8zM56.8 238.0h.8v.8h-.8zM75.1 228.5h.8v.8h-.8zM48.2 240.6h.8v.8h-.8zM52.8 234.4h.8v.8h-.8zM72.1 234.3h.8v.8h-.8zM43.4 229.4h.8v.8h-.8zM58.4 237.5h.8v.8h-.8zM41.3 231.1h.8v.8h-.8zM60.3 238.9h.8v.8h-.8zM48.6 239.1h.8v.8h-.8zM60.7 227.1h.8v.8h-.8zM51.9 238.1h.8v.8h-.8zM49.3 225.3h.8v.8h-.8zM52.2 239.8h.8v.8h-.8z" fill="#e00000" fill-opacity="0.35"/>
</g></g>
<rect x="29.80" y="211.40" width="80.3" height="66.8" fill="none" stroke="#7a7a7a" stroke-width="0.9"/>
<line x1="72.70" y1="211.40" x2="72.70" y2="278.20" stroke="#7a7a7a" stroke-width="0.9"/>
<line x1="29.80" y1="240.00" x2="110.10" y2="240.00" stroke="#7a7a7a" stroke-width="0.9"/>
<text x="69.15" y="206.20" font-size="7.6" text-anchor="middle" fill="#111" stroke="#111" stroke-width="0.1" textLength="24.7" lengthAdjust="spacingAndGlyphs" >Medium</text>
<text x="33.10" y="219.20" font-size="5.9" text-anchor="start" fill="#111" stroke="#111" stroke-width="0.3" font-weight="bold" >8,838</text>
<path d="M30.96 278.20v1.3M29.80 277.48h-1.3M33.43 278.20v1.3M29.80 275.39h-1.3M35.35 278.20v1.3M29.80 273.76h-1.3M36.91 278.20v1.3M29.80 272.43h-1.3M38.24 278.20v1.3M29.80 271.30h-1.3M39.38 278.20v1.3M29.80 270.33h-1.3M40.40 278.20v1.3M29.80 269.47h-1.3M41.30 278.20v1.8M29.80 268.70h-1.8M47.25 278.20v1.3M29.80 263.64h-1.3M50.73 278.20v1.3M29.80 260.68h-1.3M53.20 278.20v1.3M29.80 258.59h-1.3M55.12 278.20v1.3M29.80 256.96h-1.3M56.68 278.20v1.3M29.80 255.63h-1.3M58.01 278.20v1.3M29.80 254.50h-1.3M59.15 278.20v1.3M29.80 253.53h-1.3M60.17 278.20v1.3M29.80 252.67h-1.3M61.07 278.20v1.8M29.80 251.90h-1.8M67.02 278.20v1.3M29.80 246.84h-1.3M70.50 278.20v1.3M29.80 243.88h-1.3M72.97 278.20v1.3M29.80 241.79h-1.3M74.89 278.20v1.3M29.80 240.16h-1.3M76.45 278.20v1.3M29.80 238.83h-1.3M77.78 278.20v1.3M29.80 237.70h-1.3M78.92 278.20v1.3M29.80 236.73h-1.3M79.94 278.20v1.3M29.80 235.87h-1.3M80.84 278.20v1.8M29.80 235.10h-1.8M86.79 278.20v1.3M29.80 230.04h-1.3M90.27 278.20v1.3M29.80 227.08h-1.3M92.74 278.20v1.3M29.80 224.99h-1.3M94.66 278.20v1.3M29.80 223.36h-1.3M96.22 278.20v1.3M29.80 222.03h-1.3M97.55 278.20v1.3M29.80 220.90h-1.3M98.69 278.20v1.3M29.80 219.93h-1.3M99.71 278.20v1.3M29.80 219.07h-1.3M100.61 278.20v1.8M29.80 218.30h-1.8M106.56 278.20v1.3M29.80 213.24h-1.3" stroke="#666" stroke-width="0.7" fill="none"/>
<text x="23.50" y="220.50" font-size="6.2" text-anchor="end" fill="#222" stroke="#222" stroke-width="0.12" textLength="6.6" lengthAdjust="spacingAndGlyphs" >10</text>
<text x="23.70" y="217.70" font-size="4.4" text-anchor="start" fill="#222" stroke="#222" stroke-width="0.05" >5</text>
<text x="23.50" y="237.30" font-size="6.2" text-anchor="end" fill="#222" stroke="#222" stroke-width="0.12" textLength="6.6" lengthAdjust="spacingAndGlyphs" >10</text>
<text x="23.70" y="234.50" font-size="4.4" text-anchor="start" fill="#222" stroke="#222" stroke-width="0.05" >4</text>
<text x="23.50" y="254.10" font-size="6.2" text-anchor="end" fill="#222" stroke="#222" stroke-width="0.12" textLength="6.6" lengthAdjust="spacingAndGlyphs" >10</text>
<text x="23.70" y="251.30" font-size="4.4" text-anchor="start" fill="#222" stroke="#222" stroke-width="0.05" >3</text>
<text x="23.50" y="270.90" font-size="6.2" text-anchor="end" fill="#222" stroke="#222" stroke-width="0.12" textLength="6.6" lengthAdjust="spacingAndGlyphs" >10</text>
<text x="23.70" y="268.10" font-size="4.4" text-anchor="start" fill="#222" stroke="#222" stroke-width="0.05" >2</text>
<text x="43.30" y="288.30" font-size="6.2" text-anchor="end" fill="#222" stroke="#222" stroke-width="0.12" textLength="6.6" lengthAdjust="spacingAndGlyphs" >10</text>
<text x="43.50" y="285.50" font-size="4.4" text-anchor="start" fill="#222" stroke="#222" stroke-width="0.05" >2</text>
<text x="63.07" y="288.30" font-size="6.2" text-anchor="end" fill="#222" stroke="#222" stroke-width="0.12" textLength="6.6" lengthAdjust="spacingAndGlyphs" >10</text>
<text x="63.27" y="285.50" font-size="4.4" text-anchor="start" fill="#222" stroke="#222" stroke-width="0.05" >3</text>
<text x="82.84" y="288.30" font-size="6.2" text-anchor="end" fill="#222" stroke="#222" stroke-width="0.12" textLength="6.6" lengthAdjust="spacingAndGlyphs" >10</text>
<text x="83.04" y="285.50" font-size="4.4" text-anchor="start" fill="#222" stroke="#222" stroke-width="0.05" >4</text>
<text x="102.61" y="288.30" font-size="6.2" text-anchor="end" fill="#222" stroke="#222" stroke-width="0.12" textLength="6.6" lengthAdjust="spacingAndGlyphs" >10</text>
<text x="102.81" y="285.50" font-size="4.4" text-anchor="start" fill="#222" stroke="#222" stroke-width="0.05" >5</text>
<clipPath id="c2"><rect x="127.90" y="211.30" width="80.3" height="66.8"/></clipPath>
<g clip-path="url(#c2)"><g filter="url(#sm)">
<g filter="url(#gr)">
<ellipse cx="139" cy="230" rx="23.76" ry="11.76" fill="#000" fill-opacity="0.3" filter="url(#bl2)"/>
<ellipse cx="139" cy="230" rx="19.98" ry="9.18" fill="#000" fill-opacity="1.0" filter="url(#bl)"/>
<ellipse cx="145" cy="247" rx="10.80" ry="2.24" fill="#000" fill-opacity="0.4" filter="url(#bl2)"/>
<ellipse cx="180" cy="247.5" rx="32.40" ry="1.79" fill="#000" fill-opacity="0.22" filter="url(#bl2)"/>
</g>
<ellipse cx="139" cy="230" rx="15.72" ry="6.56" fill="#e00000" fill-opacity="1.0" filter="url(#bl)"/>
<path d="M160.4 215.8h.8v.8h-.8zM171.7 222.7h.8v.8h-.8zM153.5 238.0h.8v.8h-.8zM153.8 231.0h.8v.8h-.8zM130.2 234.1h.8v.8h-.8zM135.1 213.6h.8v.8h-.8zM174.1 234.6h.8v.8h-.8zM163.0 224.1h.8v.8h-.8zM159.1 240.3h.8v.8h-.8zM160.1 229.9h.8v.8h-.8zM129.8 228.8h.8v.8h-.8zM144.0 223.6h.8v.8h-.8zM141.2 229.3h.8v.8h-.8zM164.2 238.4h.8v.8h-.8zM142.5 237.9h.8v.8h-.8zM134.4 227.8h.8v.8h-.8zM153.0 221.9h.8v.8h-.8zM139.9 221.4h.8v.8h-.8zM144.3 240.6h.8v.8h-.8zM134.7 231.5h.8v.8h-.8zM133.1 222.5h.8v.8h-.8zM129.4 239.5h.8v.8h-.8zM169.0 233.1h.8v.8h-.8zM135.1 234.6h.8v.8h-.8zM139.3 235.2h.8v.8h-.8zM146.2 231.8h.8v.8h-.8zM149.7 226.2h.8v.8h-.8zM138.6 218.8h.8v.8h-.8zM138.1 220.8h.8v.8h-.8zM141.4 223.8h.8v.8h-.8zM144.1 232.9h.8v.8h-.8zM132.6 234.9h.8v.8h-.8zM161.8 235.5h.8v.8h-.8zM139.2 239.5h.8v.8h-.8zM135.8 211.9h.8v.8h-.8zM172.2 240.3h.8v.8h-.8zM131.6 231.1h.8v.8h-.8zM140.6 230.7h.8v.8h-.8zM148.1 231.4h.8v.8h-.8zM156.2 230.5h.8v.8h-.8zM168.8 225.3h.8v.8h-.8zM145.9 217.5h.8v.8h-.8zM129.2 238.6h.8v.8h-.8zM132.6 233.4h.8v.8h-.8zM142.3 223.2h.8v.8h-.8zM139.2 226.7h.8v.8h-.8zM137.6 234.9h.8v.8h-.8zM150.2 226.2h.8v.8h-.8zM133.0 231.8h.8v.8h-.8zM141.9 236.7h.8v.8h-.8zM172.2 235.5h.8v.8h-.8zM142.6 228.9h.8v.8h-.8zM133.6 224.1h.8v.8h-.8zM132.0 227.4h.8v.8h-.8zM138.3 234.8h.8v.8h-.8zM138.6 228.7h.8v.8h-.8zM129.6 240.7h.8v.8h-.8zM148.6 241.6h.8v.8h-.8zM151.8 239.7h.8v.8h-.8zM140.3 234.7h.8v.8h-.8zM172.8 222.0h.8v.8h-.8zM155.9 241.0h.8v.8h-.8zM147.6 235.0h.8v.8h-.8zM157.1 225.6h.8v.8h-.8zM147.6 224.2h.8v.8h-.8zM135.4 225.9h.8v.8h-.8zM141.4 231.0h.8v.8h-.8zM148.1 220.6h.8v.8h-.8zM165.3 237.7h.8v.8h-.8zM151.2 227.6h.8v.8h-.8zM142.0 233.6h.8v.8h-.8zM147.6 218.8h.8v.8h-.8zM151.4 249.4h.8v.8h-.8zM147.2 229.3h.8v.8h-.8zM158.5 222.1h.8v.8h-.8zM144.8 239.8h.8v.8h-.8zM140.8 227.2h.8v.8h-.8zM144.3 227.0h.8v.8h-.8zM160.5 223.9h.8v.8h-.8zM152.9 221.6h.8v.8h-.8zM150.6 229.3h.8v.8h-.8zM130.9 227.0h.8v.8h-.8zM160.4 222.5h.8v.8h-.8zM131.0 239.6h.8v.8h-.8zM144.3 240.3h.8v.8h-.8zM146.7 224.1h.8v.8h-.8zM142.3 238.2h.8v.8h-.8zM153.6 230.0h.8v.8h-.8zM143.6 229.2h.8v.8h-.8zM136.5 242.9h.8v.8h-.8zM143.1 222.4h.8v.8h-.8zM137.6 234.9h.8v.8h-.8zM150.3 229.1h.8v.8h-.8zM135.4 230.2h.8v.8h-.8zM152.0 226.8h.8v.8h-.8zM147.2 238.1h.8v.8h-.8zM150.3 230.1h.8v.8h-.8zM167.1 234.5h.8v.8h-.8zM139.0 234.9h.8v.8h-.8zM147.6 224.3h.8v.8h-.8zM143.8 228.9h.8v.8h-.8zM139.8 227.1h.8v.8h-.8zM142.6 230.7h.8v.8h-.8zM130.2 234.2h.8v.8h-.8zM129.3 228.5h.8v.8h-.8zM157.8 225.4h.8v.8h-.8zM137.2 237.2h.8v.8h-.8zM138.7 228.0h.8v.8h-.8zM145.5 237.0h.8v.8h-.8zM131.6 222.8h.8v.8h-.8zM133.3 224.4h.8v.8h-.8zM146.4 224.1h.8v.8h-.8zM144.4 232.7h.8v.8h-.8zM134.8 230.9h.8v.8h-.8zM161.5 232.1h.8v.8h-.8zM135.8 229.6h.8v.8h-.8zM132.7 231.8h.8v.8h-.8zM152.7 224.6h.8v.8h-.8zM140.6 237.4h.8v.8h-.8zM137.4 231.2h.8v.8h-.8zM131.5 224.6h.8v.8h-.8zM137.2 244.1h.8v.8h-.8zM138.5 226.6h.8v.8h-.8zM136.8 228.9h.8v.8h-.8zM150.2 231.2h.8v.8h-.8zM165.6 231.4h.8v.8h-.8zM158.9 231.8h.8v.8h-.8zM149.7 220.6h.8v.8h-.8zM141.6 229.6h.8v.8h-.8zM140.3 216.0h.8v.8h-.8zM152.7 227.5h.8v.8h-.8zM138.2 228.3h.8v.8h-.8zM140.5 232.6h.8v.8h-.8zM129.0 223.9h.8v.8h-.8zM146.2 230.9h.8v.8h-.8zM138.9 226.3h.8v.8h-.8zM133.8 229.6h.8v.8h-.8zM156.0 223.1h.8v.8h-.8zM159.8 235.5h.8v.8h-.8zM138.0 235.1h.8v.8h-.8zM128.8 227.3h.8v.8h-.8zM139.4 226.7h.8v.8h-.8zM144.1 216.1h.8v.8h-.8zM148.4 220.8h.8v.8h-.8zM135.7 227.3h.8v.8h-.8zM130.3 221.1h.8v.8h-.8zM131.9 229.9h.8v.8h-.8zM149.5 233.7h.8v.8h-.8zM132.1 224.9h.8v.8h-.8zM132.9 232.9h.8v.8h-.8zM137.7 224.9h.8v.8h-.8zM146.7 236.7h.8v.8h-.8zM146.8 236.8h.8v.8h-.8zM144.5 238.0h.8v.8h-.8zM156.7 229.4h.8v.8h-.8zM158.8 231.1h.8v.8h-.8zM144.0 224.0h.8v.8h-.8zM139.8 235.1h.8v.8h-.8zM128.6 234.2h.8v.8h-.8zM146.8 231.8h.8v.8h-.8zM150.1 225.0h.8v.8h-.8zM144.0 214.5h.8v.8h-.8zM150.4 225.7h.8v.8h-.8zM152.6 218.0h.8v.8h-.8zM150.6 228.5h.8v.8h-.8zM151.9 224.0h.8v.8h-.8zM136.2 244.6h.8v.8h-.8zM133.9 225.4h.8v.8h-.8zM140.0 223.4h.8v.8h-.8zM156.1 241.2h.8v.8h-.8zM135.3 218.8h.8v.8h-.8zM155.9 237.2h.8v.8h-.8zM152.0 237.5h.8v.8h-.8zM133.5 228.9h.8v.8h-.8zM153.8 225.6h.8v.8h-.8zM168.1 230.5h.8v.8h-.8zM136.0 235.2h.8v.8h-.8zM162.8 233.2h.8v.8h-.8zM129.6 232.4h.8v.8h-.8zM158.1 226.8h.8v.8h-.8zM134.5 236.6h.8v.8h-.8zM144.5 222.8h.8v.8h-.8zM138.8 225.1h.8v.8h-.8zM146.3 230.7h.8v.8h-.8zM155.7 234.6h.8v.8h-.8zM152.9 233.0h.8v.8h-.8zM154.3 226.4h.8v.8h-.8zM132.5 236.0h.8v.8h-.8zM131.3 216.0h.8v.8h-.8zM154.3 225.3h.8v.8h-.8zM139.6 220.9h.8v.8h-.8zM128.4 222.5h.8v.8h-.8zM139.0 232.4h.8v.8h-.8zM130.0 223.1h.8v.8h-.8zM150.5 229.5h.8v.8h-.8zM133.5 231.6h.8v.8h-.8zM145.2 239.2h.8v.8h-.8zM138.0 236.6h.8v.8h-.8zM134.8 237.3h.8v.8h-.8zM134.6 227.6h.8v.8h-.8zM163.9 232.1h.8v.8h-.8zM144.2 244.6h.8v.8h-.8zM147.0 224.7h.8v.8h-.8zM151.1 222.3h.8v.8h-.8zM155.4 237.8h.8v.8h-.8zM136.7 225.9h.8v.8h-.8zM144.9 230.1h.8v.8h-.8zM132.2 233.7h.8v.8h-.8zM138.6 228.2h.8v.8h-.8zM146.4 222.0h.8v.8h-.8zM149.5 228.8h.8v.8h-.8zM135.8 221.1h.8v.8h-.8zM130.0 232.3h.8v.8h-.8zM132.4 230.4h.8v.8h-.8zM154.7 236.7h.8v.8h-.8zM160.2 228.1h.8v.8h-.8zM131.1 236.6h.8v.8h-.8zM146.4 237.3h.8v.8h-.8zM143.1 237.8h.8v.8h-.8zM152.3 234.7h.8v.8h-.8zM148.5 232.6h.8v.8h-.8zM145.6 231.5h.8v.8h-.8zM153.9 226.7h.8v.8h-.8zM162.1 229.3h.8v.8h-.8zM153.8 229.4h.8v.8h-.8zM140.3 243.2h.8v.8h-.8zM139.6 221.7h.8v.8h-.8zM135.1 227.9h.8v.8h-.8zM166.7 231.3h.8v.8h-.8zM153.3 223.5h.8v.8h-.8zM146.9 234.4h.8v.8h-.8zM162.8 225.5h.8v.8h-.8zM149.6 232.0h.8v.8h-.8zM131.8 229.9h.8v.8h-.8zM140.1 214.9h.8v.8h-.8zM149.6 233.5h.8v.8h-.8zM138.2 221.3h.8v.8h-.8zM159.3 231.7h.8v.8h-.8zM154.2 239.2h.8v.8h-.8zM137.3 235.3h.8v.8h-.8zM140.3 229.6h.8v.8h-.8zM142.1 230.0h.8v.8h-.8zM155.3 230.8h.8v.8h-.8zM141.3 228.2h.8v.8h-.8zM146.8 224.2h.8v.8h-.8zM137.5 229.7h.8v.8h-.8zM136.8 229.2h.8v.8h-.8zM136.3 243.0h.8v.8h-.8zM157.6 232.9h.8v.8h-.8zM142.4 244.2h.8v.8h-.8zM146.6 229.4h.8v.8h-.8zM146.3 232.0h.8v.8h-.8zM158.5 229.9h.8v.8h-.8zM166.1 224.3h.8v.8h-.8zM150.6 223.5h.8v.8h-.8zM163.0 227.9h.8v.8h-.8zM142.4 236.0h.8v.8h-.8zM156.8 222.8h.8v.8h-.8zM139.2 220.9h.8v.8h-.8zM144.5 229.3h.8v.8h-.8zM139.2 225.6h.8v.8h-.8zM138.8 225.1h.8v.8h-.8zM148.8 239.9h.8v.8h-.8zM138.4 233.2h.8v.8h-.8zM132.5 229.0h.8v.8h-.8zM131.6 234.5h.8v.8h-.8zM144.1 229.0h.8v.8h-.8zM147.1 228.4h.8v.8h-.8zM146.2 229.0h.8v.8h-.8zM153.8 237.9h.8v.8h-.8zM131.0 224.9h.8v.8h-.8zM160.0 239.2h.8v.8h-.8zM134.9 222.3h.8v.8h-.8zM136.0 226.8h.8v.8h-.8zM128.9 222.1h.8v.8h-.8zM153.1 225.6h.8v.8h-.8zM142.2 234.1h.8v.8h-.8zM151.9 227.8h.8v.8h-.8zM143.5 224.6h.8v.8h-.8zM162.2 234.2h.8v.8h-.8zM130.9 230.0h.8v.8h-.8zM150.8 233.1h.8v.8h-.8zM163.1 238.9h.8v.8h-.8zM137.1 229.4h.8v.8h-.8zM128.9 231.6h.8v.8h-.8zM144.7 247.6h.8v.8h-.8zM144.1 216.4h.8v.8h-.8zM135.6 230.7h.8v.8h-.8zM129.2 224.4h.8v.8h-.8zM139.0 232.2h.8v.8h-.8zM141.2 224.2h.8v.8h-.8zM151.7 226.5h.8v.8h-.8zM137.5 221.0h.8v.8h-.8zM134.4 234.2h.8v.8h-.8zM150.9 227.5h.8v.8h-.8zM145.6 222.7h.8v.8h-.8zM157.4 237.2h.8v.8h-.8zM145.6 218.6h.8v.8h-.8zM131.5 236.3h.8v.8h-.8zM161.8 231.9h.8v.8h-.8zM156.7 226.0h.8v.8h-.8zM140.9 230.0h.8v.8h-.8zM147.7 220.1h.8v.8h-.8zM153.3 238.6h.8v.8h-.8zM130.4 221.2h.8v.8h-.8zM146.9 225.7h.8v.8h-.8zM144.7 226.9h.8v.8h-.8zM166.2 230.9h.8v.8h-.8zM134.7 230.7h.8v.8h-.8zM131.6 225.0h.8v.8h-.8zM147.2 226.4h.8v.8h-.8zM138.0 240.8h.8v.8h-.8zM152.5 235.2h.8v.8h-.8zM148.8 233.1h.8v.8h-.8zM159.0 229.9h.8v.8h-.8zM163.4 223.8h.8v.8h-.8zM140.2 221.0h.8v.8h-.8zM139.2 233.4h.8v.8h-.8zM159.0 225.7h.8v.8h-.8zM143.1 227.7h.8v.8h-.8zM134.9 222.3h.8v.8h-.8zM143.7 218.7h.8v.8h-.8zM144.2 230.1h.8v.8h-.8zM135.8 223.4h.8v.8h-.8zM128.2 240.1h.8v.8h-.8zM149.6 227.6h.8v.8h-.8z" fill="#e00000" fill-opacity="0.45"/>
<path d="M135.7 249.0h.8v.8h-.8zM158.8 245.2h.8v.8h-.8zM142.6 249.0h.8v.8h-.8zM147.7 250.8h.8v.8h-.8zM140.4 248.0h.8v.8h-.8zM135.0 251.0h.8v.8h-.8zM139.2 242.8h.8v.8h-.8zM144.0 246.7h.8v.8h-.8zM160.3 246.4h.8v.8h-.8zM144.9 248.1h.8v.8h-.8zM157.7 246.9h.8v.8h-.8zM153.3 248.0h.8v.8h-.8zM142.6 247.1h.8v.8h-.8zM145.2 245.3h.8v.8h-.8zM154.7 244.4h.8v.8h-.8zM154.4 248.8h.8v.8h-.8zM144.3 245.5h.8v.8h-.8zM143.2 247.9h.8v.8h-.8zM150.9 247.5h.8v.8h-.8zM152.9 245.9h.8v.8h-.8zM146.9 244.0h.8v.8h-.8zM151.1 247.3h.8v.8h-.8zM141.7 249.2h.8v.8h-.8zM150.5 241.6h.8v.8h-.8zM145.3 244.2h.8v.8h-.8zM153.5 251.7h.8v.8h-.8zM140.9 247.1h.8v.8h-.8zM143.0 247.7h.8v.8h-.8zM150.2 249.4h.8v.8h-.8zM137.1 250.0h.8v.8h-.8zM137.5 247.5h.8v.8h-.8zM154.3 248.4h.8v.8h-.8zM137.5 245.7h.8v.8h-.8zM141.3 246.9h.8v.8h-.8zM154.2 244.5h.8v.8h-.8zM148.7 248.2h.8v.8h-.8zM149.5 247.9h.8v.8h-.8zM157.1 247.9h.8v.8h-.8zM151.9 248.1h.8v.8h-.8zM159.3 243.4h.8v.8h-.8zM155.3 246.5h.8v.8h-.8zM142.8 245.2h.8v.8h-.8zM130.1 246.3h.8v.8h-.8zM139.5 247.9h.8v.8h-.8zM133.2 249.7h.8v.8h-.8zM147.2 246.5h.8v.8h-.8zM139.3 245.5h.8v.8h-.8zM136.0 246.0h.8v.8h-.8zM145.0 246.7h.8v.8h-.8zM133.7 246.5h.8v.8h-.8zM137.9 247.3h.8v.8h-.8zM159.9 248.2h.8v.8h-.8zM142.5 243.9h.8v.8h-.8zM133.7 243.8h.8v.8h-.8zM150.8 245.5h.8v.8h-.8zM145.5 245.8h.8v.8h-.8zM145.7 249.7h.8v.8h-.8zM139.5 246.4h.8v.8h-.8zM138.5 248.7h.8v.8h-.8zM136.8 244.8h.8v.8h-.8zM133.9 244.3h.8v.8h-.8zM148.8 251.9h.8v.8h-.8zM137.0 248.8h.8v.8h-.8zM147.0 244.9h.8v.8h-.8zM142.8 246.6h.8v.8h-.8zM139.5 250.7h.8v.8h-.8zM129.8 247.7h.8v.8h-.8zM147.7 245.9h.8v.8h-.8zM146.2 248.7h.8v.8h-.8zM146.2 247.8h.8v.8h-.8zM150.5 243.1h.8v.8h-.8zM156.8 251.3h.8v.8h-.8zM152.8 248.9h.8v.8h-.8zM133.7 246.8h.8v.8h-.8zM138.5 245.9h.8v.8h-.8zM152.7 245.5h.8v.8h-.8zM144.0 243.4h.8v.8h-.8zM143.7 247.2h.8v.8h-.8zM139.4 245.6h.8v.8h-.8zM160.1 244.7h.8v.8h-.8zM136.6 245.5h.8v.8h-.8zM154.6 251.0h.8v.8h-.8zM147.7 245.6h.8v.8h-.8zM141.6 249.0h.8v.8h-.8zM137.7 249.8h.8v.8h-.8zM156.3 247.1h.8v.8h-.8zM150.2 248.4h.8v.8h-.8zM157.4 245.0h.8v.8h-.8zM154.4 246.3h.8v.8h-.8zM138.9 247.2h.8v.8h-.8zM143.3 245.1h.8v.8h-.8zM132.2 245.2h.8v.8h-.8zM156.6 250.7h.8v.8h-.8zM150.2 249.3h.8v.8h-.8zM140.9 246.9h.8v.8h-.8zM147.3 244.9h.8v.8h-.8zM137.1 247.2h.8v.8h-.8zM142.4 245.0h.8v.8h-.8zM148.1 246.5h.8v.8h-.8zM153.2 247.0h.8v.8h-.8zM142.6 247.2h.8v.8h-.8zM143.6 245.7h.8v.8h-.8zM141.8 248.4h.8v.8h-.8zM150.2 249.4h.8v.8h-.8zM131.5 246.3h.8v.8h-.8zM141.7 247.3h.8v.8h-.8zM141.4 246.0h.8v.8h-.8zM151.3 247.3h.8v.8h-.8zM135.7 249.5h.8v.8h-.8zM153.0 245.9h.8v.8h-.8zM151.7 245.6h.8v.8h-.8zM154.0 246.6h.8v.8h-.8zM138.6 246.3h.8v.8h-.8zM138.9 247.4h.8v.8h-.8zM146.4 247.1h.8v.8h-.8zM140.5 240.0h.8v.8h-.8zM145.7 243.4h.8v.8h-.8zM147.0 249.1h.8v.8h-.8zM147.2 246.3h.8v.8h-.8zM143.6 246.7h.8v.8h-.8zM140.6 245.9h.8v.8h-.8zM137.6 249.3h.8v.8h-.8zM144.9 248.8h.8v.8h-.8zM143.0 247.1h.8v.8h-.8zM143.6 247.9h.8v.8h-.8zM151.6 247.5h.8v.8h-.8zM139.6 245.5h.8v.8h-.8zM158.3 246.5h.8v.8h-.8zM142.7 249.8h.8v.8h-.8zM153.7 248.0h.8v.8h-.8zM141.8 251.5h.8v.8h-.8zM148.1 248.0h.8v.8h-.8zM143.6 244.3h.8v.8h-.8zM134.3 247.8h.8v.8h-.8zM148.1 246.5h.8v.8h-.8zM135.6 244.3h.8v.8h-.8zM142.4 244.2h.8v.8h-.8zM152.2 249.2h.8v.8h-.8zM167.6 248.7h.8v.8h-.8zM140.3 245.3h.8v.8h-.8zM143.6 248.8h.8v.8h-.8zM149.9 248.1h.8v.8h-.8zM146.7 248.3h.8v.8h-.8zM156.6 245.0h.8v.8h-.8zM141.3 244.4h.8v.8h-.8zM157.9 249.5h.8v.8h-.8zM151.0 244.7h.8v.8h-.8zM146.4 246.6h.8v.8h-.8zM145.6 246.6h.8v.8h-.8zM149.2 246.2h.8v.8h-.8zM151.8 247.5h.8v.8h-.8zM142.7 246.8h.8v.8h-.8zM141.5 248.5h.8v.8h-.8zM142.8 247.6h.8v.8h-.8zM141.9 244.2h.8v.8h-.8zM152.2 245.0h.8v.8h-.8zM150.4 247.8h.8v.8h-.8zM131.8 245.2h.8v.8h-.8zM140.9 245.4h.8v.8h-.8zM135.5 248.4h.8v.8h-.8zM143.1 247.7h.8v.8h-.8zM141.6 247.6h.8v.8h-.8zM139.0 246.9h.8v.8h-.8zM149.7 247.1h.8v.8h-.8zM141.3 244.9h.8v.8h-.8zM146.3 247.7h.8v.8h-.8zM142.9 245.5h.8v.8h-.8zM149.3 251.7h.8v.8h-.8zM142.6 247.6h.8v.8h-.8zM148.0 242.1h.8v.8h-.8zM146.0 245.7h.8v.8h-.8zM156.1 246.5h.8v.8h-.8zM138.8 246.6h.8v.8h-.8zM146.3 245.9h.8v.8h-.8zM144.6 244.4h.8v.8h-.8zM143.2 248.5h.8v.8h-.8zM160.8 248.3h.8v.8h-.8zM147.2 249.2h.8v.8h-.8zM153.2 250.2h.8v.8h-.8zM153.7 246.8h.8v.8h-.8zM147.1 247.3h.8v.8h-.8zM147.4 247.4h.8v.8h-.8zM138.7 243.0h.8v.8h-.8zM139.6 243.2h.8v.8h-.8zM145.5 247.0h.8v.8h-.8zM131.6 248.3h.8v.8h-.8zM151.9 247.2h.8v.8h-.8zM158.3 250.6h.8v.8h-.8zM135.4 249.0h.8v.8h-.8zM148.5 247.8h.8v.8h-.8zM152.5 245.6h.8v.8h-.8zM140.3 245.4h.8v.8h-.8zM139.0 246.8h.8v.8h-.8zM133.4 245.0h.8v.8h-.8zM149.6 246.9h.8v.8h-.8zM148.1 243.4h.8v.8h-.8zM138.7 245.9h.8v.8h-.8zM145.3 245.9h.8v.8h-.8zM152.5 246.9h.8v.8h-.8z" fill="#e00000" fill-opacity="0.5"/>
<path d="M178.4 247.5h.8v.8h-.8zM195.7 246.8h.8v.8h-.8zM206.1 248.2h.8v.8h-.8zM181.9 247.6h.8v.8h-.8zM191.0 249.0h.8v.8h-.8zM201.6 248.1h.8v.8h-.8zM199.9 247.7h.8v.8h-.8zM180.7 245.7h.8v.8h-.8zM173.0 246.2h.8v.8h-.8zM138.8 248.3h.8v.8h-.8zM168.0 250.4h.8v.8h-.8zM151.7 244.1h.8v.8h-.8zM179.6 247.0h.8v.8h-.8zM167.6 244.3h.8v.8h-.8zM188.7 250.0h.8v.8h-.8zM130.3 249.3h.8v.8h-.8zM163.8 251.0h.8v.8h-.8zM188.9 247.2h.8v.8h-.8zM205.6 248.3h.8v.8h-.8zM163.2 248.6h.8v.8h-.8zM165.2 244.8h.8v.8h-.8zM162.8 248.0h.8v.8h-.8zM139.0 245.5h.8v.8h-.8zM165.5 246.7h.8v.8h-.8zM179.8 249.2h.8v.8h-.8zM166.1 248.2h.8v.8h-.8zM193.0 245.9h.8v.8h-.8zM183.7 246.1h.8v.8h-.8zM204.6 248.2h.8v.8h-.8zM178.4 245.5h.8v.8h-.8zM180.9 246.3h.8v.8h-.8zM195.6 247.3h.8v.8h-.8zM157.7 248.9h.8v.8h-.8zM196.0 246.6h.8v.8h-.8zM207.1 247.1h.8v.8h-.8zM170.3 247.7h.8v.8h-.8zM159.2 246.8h.8v.8h-.8zM174.0 249.8h.8v.8h-.8zM187.5 248.8h.8v.8h-.8zM185.3 251.1h.8v.8h-.8zM184.1 245.7h.8v.8h-.8zM170.4 243.0h.8v.8h-.8zM203.0 248.7h.8v.8h-.8zM198.0 249.0h.8v.8h-.8zM201.4 246.4h.8v.8h-.8zM169.2 249.1h.8v.8h-.8zM187.8 245.5h.8v.8h-.8zM187.0 247.2h.8v.8h-.8zM157.5 248.2h.8v.8h-.8zM167.9 245.1h.8v.8h-.8zM150.2 250.2h.8v.8h-.8zM140.1 247.8h.8v.8h-.8zM193.3 248.5h.8v.8h-.8zM147.4 247.0h.8v.8h-.8zM181.5 248.7h.8v.8h-.8zM161.9 245.8h.8v.8h-.8zM203.1 249.2h.8v.8h-.8zM187.3 246.6h.8v.8h-.8zM188.2 247.7h.8v.8h-.8zM198.9 245.6h.8v.8h-.8zM180.9 247.3h.8v.8h-.8zM150.3 247.8h.8v.8h-.8zM178.9 246.9h.8v.8h-.8zM187.9 245.4h.8v.8h-.8zM176.7 248.1h.8v.8h-.8zM185.1 249.1h.8v.8h-.8zM148.0 245.2h.8v.8h-.8zM184.0 248.2h.8v.8h-.8zM156.2 248.7h.8v.8h-.8zM156.9 245.3h.8v.8h-.8zM195.9 248.3h.8v.8h-.8zM143.2 249.6h.8v.8h-.8zM183.7 247.7h.8v.8h-.8zM160.8 249.8h.8v.8h-.8zM194.5 248.3h.8v.8h-.8zM187.4 249.1h.8v.8h-.8zM190.6 248.6h.8v.8h-.8zM148.8 248.3h.8v.8h-.8zM174.8 248.8h.8v.8h-.8zM201.9 248.4h.8v.8h-.8zM137.6 248.3h.8v.8h-.8zM148.4 246.3h.8v.8h-.8zM191.7 247.1h.8v.8h-.8zM198.2 252.2h.8v.8h-.8zM197.4 248.6h.8v.8h-.8zM155.6 246.5h.8v.8h-.8zM151.4 246.7h.8v.8h-.8zM150.7 246.5h.8v.8h-.8zM172.8 246.0h.8v.8h-.8zM142.5 245.5h.8v.8h-.8zM189.3 247.6h.8v.8h-.8zM203.6 249.1h.8v.8h-.8zM169.5 248.5h.8v.8h-.8zM142.0 250.9h.8v.8h-.8zM207.9 247.2h.8v.8h-.8zM148.9 248.1h.8v.8h-.8zM131.2 246.3h.8v.8h-.8zM196.7 247.6h.8v.8h-.8zM165.7 248.9h.8v.8h-.8zM152.0 247.9h.8v.8h-.8zM165.6 246.2h.8v.8h-.8zM189.6 246.0h.8v.8h-.8zM193.1 245.7h.8v.8h-.8zM144.5 247.7h.8v.8h-.8zM194.9 245.6h.8v.8h-.8zM207.6 246.3h.8v.8h-.8zM181.3 248.1h.8v.8h-.8zM192.9 244.8h.8v.8h-.8zM167.4 246.0h.8v.8h-.8zM135.6 245.5h.8v.8h-.8zM191.6 247.0h.8v.8h-.8zM149.7 246.7h.8v.8h-.8zM163.4 249.5h.8v.8h-.8zM189.5 247.6h.8v.8h-.8zM162.8 245.2h.8v.8h-.8zM148.7 246.8h.8v.8h-.8zM172.5 248.0h.8v.8h-.8zM191.8 247.8h.8v.8h-.8zM183.5 246.0h.8v.8h-.8zM154.1 246.5h.8v.8h-.8zM171.1 245.6h.8v.8h-.8zM150.2 247.3h.8v.8h-.8zM180.9 246.5h.8v.8h-.8zM190.5 247.2h.8v.8h-.8zM152.5 247.6h.8v.8h-.8zM207.2 249.6h.8v.8h-.8zM171.7 247.2h.8v.8h-.8zM193.0 247.6h.8v.8h-.8zM173.6 249.4h.8v.8h-.8zM159.9 245.9h.8v.8h-.8zM197.8 248.6h.8v.8h-.8zM205.3 245.9h.8v.8h-.8zM205.0 248.2h.8v.8h-.8zM183.5 247.1h.8v.8h-.8zM138.3 246.4h.8v.8h-.8zM206.2 246.8h.8v.8h-.8zM159.9 248.8h.8v.8h-.8zM202.7 249.0h.8v.8h-.8zM158.3 247.4h.8v.8h-.8zM203.8 246.5h.8v.8h-.8zM159.3 248.7h.8v.8h-.8zM152.7 247.3h.8v.8h-.8zM193.4 247.3h.8v.8h-.8zM160.5 247.7h.8v.8h-.8zM154.0 247.4h.8v.8h-.8zM162.0 251.5h.8v.8h-.8zM198.4 246.2h.8v.8h-.8zM153.1 246.8h.8v.8h-.8zM136.9 246.4h.8v.8h-.8zM159.5 248.8h.8v.8h-.8zM167.3 246.3h.8v.8h-.8zM144.5 245.7h.8v.8h-.8zM176.3 247.2h.8v.8h-.8zM206.4 246.6h.8v.8h-.8zM204.5 247.9h.8v.8h-.8zM177.9 244.5h.8v.8h-.8zM145.7 248.6h.8v.8h-.8zM197.1 246.9h.8v.8h-.8zM168.7 246.5h.8v.8h-.8zM202.4 248.0h.8v.8h-.8zM172.1 247.0h.8v.8h-.8zM191.9 248.0h.8v.8h-.8zM157.2 250.1h.8v.8h-.8zM184.4 247.5h.8v.8h-.8zM175.8 248.3h.8v.8h-.8zM151.3 246.5h.8v.8h-.8zM130.5 248.5h.8v.8h-.8zM157.2 246.0h.8v.8h-.8zM173.1 247.9h.8v.8h-.8zM193.3 250.2h.8v.8h-.8zM187.0 248.8h.8v.8h-.8zM163.0 248.6h.8v.8h-.8z" fill="#e00000" fill-opacity="0.35"/>
<path d="M145.8 253.7h.8v.8h-.8zM144.5 255.7h.8v.8h-.8zM146.0 258.0h.8v.8h-.8zM142.5 252.3h.8v.8h-.8zM148.7 247.5h.8v.8h-.8zM141.9 263.8h.8v.8h-.8zM131.5 252.5h.8v.8h-.8zM148.4 247.7h.8v.8h-.8zM158.0 243.1h.8v.8h-.8zM152.2 263.8h.8v.8h-.8zM149.6 254.9h.8v.8h-.8zM146.8 251.5h.8v.8h-.8zM149.0 250.4h.8v.8h-.8zM143.6 261.0h.8v.8h-.8zM139.4 254.2h.8v.8h-.8zM145.8 249.3h.8v.8h-.8zM150.8 257.7h.8v.8h-.8zM137.4 255.8h.8v.8h-.8zM141.1 252.7h.8v.8h-.8zM145.4 252.5h.8v.8h-.8zM149.8 252.5h.8v.8h-.8zM149.9 255.8h.8v.8h-.8zM149.3 253.3h.8v.8h-.8zM142.5 250.2h.8v.8h-.8zM147.9 260.7h.8v.8h-.8zM155.6 262.5h.8v.8h-.8zM146.2 254.9h.8v.8h-.8zM146.9 255.9h.8v.8h-.8zM152.3 260.7h.8v.8h-.8zM140.8 252.6h.8v.8h-.8z" fill="#e00000" fill-opacity="0.35"/>
<path d="M204.1 229.5h.8v.8h-.8zM181.8 233.9h.8v.8h-.8zM179.6 226.6h.8v.8h-.8zM178.5 218.2h.8v.8h-.8zM197.1 222.0h.8v.8h-.8zM177.0 224.3h.8v.8h-.8zM195.2 227.7h.8v.8h-.8zM185.2 219.6h.8v.8h-.8zM183.8 220.6h.8v.8h-.8zM189.3 229.8h.8v.8h-.8zM184.8 238.2h.8v.8h-.8zM192.4 231.0h.8v.8h-.8zM187.0 227.0h.8v.8h-.8zM198.5 233.5h.8v.8h-.8zM166.8 233.3h.8v.8h-.8zM192.2 232.8h.8v.8h-.8zM191.5 221.8h.8v.8h-.8zM168.6 237.1h.8v.8h-.8zM188.5 220.9h.8v.8h-.8zM189.9 226.2h.8v.8h-.8z" fill="#e00000" fill-opacity="0.35"/>
</g></g>
<rect x="127.90" y="211.30" width="80.3" height="66.8" fill="none" stroke="#7a7a7a" stroke-width="0.9"/>
<line x1="169.50" y1="211.30" x2="169.50" y2="278.10" stroke="#7a7a7a" stroke-width="0.9"/>
<line x1="127.90" y1="242.30" x2="208.20" y2="242.30" stroke="#7a7a7a" stroke-width="0.9"/>
<text x="166.80" y="206.10" font-size="7.6" text-anchor="middle" fill="#111" stroke="#111" stroke-width="0.1" textLength="25.2" lengthAdjust="spacingAndGlyphs" >SDF-1α</text>
<text x="130.90" y="219.10" font-size="5.9" text-anchor="start" fill="#111" stroke="#111" stroke-width="0.3" font-weight="bold" >62,063</text>
<path d="M129.06 278.10v1.3M127.90 277.38h-1.3M131.53 278.10v1.3M127.90 275.29h-1.3M133.45 278.10v1.3M127.90 273.66h-1.3M135.01 278.10v1.3M127.90 272.33h-1.3M136.34 278.10v1.3M127.90 271.20h-1.3M137.48 278.10v1.3M127.90 270.23h-1.3M138.50 278.10v1.3M127.90 269.37h-1.3M139.40 278.10v1.8M127.90 268.60h-1.8M145.35 278.10v1.3M127.90 263.54h-1.3M148.83 278.10v1.3M127.90 260.58h-1.3M151.30 278.10v1.3M127.90 258.49h-1.3M153.22 278.10v1.3M127.90 256.86h-1.3M154.78 278.10v1.3M127.90 255.53h-1.3M156.11 278.10v1.3M127.90 254.40h-1.3M157.25 278.10v1.3M127.90 253.43h-1.3M158.27 278.10v1.3M127.90 252.57h-1.3M159.17 278.10v1.8M127.90 251.80h-1.8M165.12 278.10v1.3M127.90 246.74h-1.3M168.60 278.10v1.3M127.90 243.78h-1.3M171.07 278.10v1.3M127.90 241.69h-1.3M172.99 278.10v1.3M127.90 240.06h-1.3M174.55 278.10v1.3M127.90 238.73h-1.3M175.88 278.10v1.3M127.90 237.60h-1.3M177.02 278.10v1.3M127.90 236.63h-1.3M178.04 278.10v1.3M127.90 235.77h-1.3M178.94 278.10v1.8M127.90 235.00h-1.8M184.89 278.10v1.3M127.90 229.94h-1.3M188.37 278.10v1.3M127.90 226.98h-1.3M190.84 278.10v1.3M127.90 224.89h-1.3M192.76 278.10v1.3M127.90 223.26h-1.3M194.32 278.10v1.3M127.90 221.93h-1.3M195.65 278.10v1.3M127.90 220.80h-1.3M196.79 278.10v1.3M127.90 219.83h-1.3M197.81 278.10v1.3M127.90 218.97h-1.3M198.71 278.10v1.8M127.90 218.20h-1.8M204.66 278.10v1.3M127.90 213.14h-1.3" stroke="#666" stroke-width="0.7" fill="none"/>
<text x="121.60" y="220.40" font-size="6.2" text-anchor="end" fill="#222" stroke="#222" stroke-width="0.12" textLength="6.6" lengthAdjust="spacingAndGlyphs" >10</text>
<text x="121.80" y="217.60" font-size="4.4" text-anchor="start" fill="#222" stroke="#222" stroke-width="0.05" >5</text>
<text x="121.60" y="237.20" font-size="6.2" text-anchor="end" fill="#222" stroke="#222" stroke-width="0.12" textLength="6.6" lengthAdjust="spacingAndGlyphs" >10</text>
<text x="121.80" y="234.40" font-size="4.4" text-anchor="start" fill="#222" stroke="#222" stroke-width="0.05" >4</text>
<text x="121.60" y="254.00" font-size="6.2" text-anchor="end" fill="#222" stroke="#222" stroke-width="0.12" textLength="6.6" lengthAdjust="spacingAndGlyphs" >10</text>
<text x="121.80" y="251.20" font-size="4.4" text-anchor="start" fill="#222" stroke="#222" stroke-width="0.05" >3</text>
<text x="121.60" y="270.80" font-size="6.2" text-anchor="end" fill="#222" stroke="#222" stroke-width="0.12" textLength="6.6" lengthAdjust="spacingAndGlyphs" >10</text>
<text x="121.80" y="268.00" font-size="4.4" text-anchor="start" fill="#222" stroke="#222" stroke-width="0.05" >2</text>
<text x="141.40" y="288.20" font-size="6.2" text-anchor="end" fill="#222" stroke="#222" stroke-width="0.12" textLength="6.6" lengthAdjust="spacingAndGlyphs" >10</text>
<text x="141.60" y="285.40" font-size="4.4" text-anchor="start" fill="#222" stroke="#222" stroke-width="0.05" >2</text>
<text x="161.17" y="288.20" font-size="6.2" text-anchor="end" fill="#222" stroke="#222" stroke-width="0.12" textLength="6.6" lengthAdjust="spacingAndGlyphs" >10</text>
<text x="161.37" y="285.40" font-size="4.4" text-anchor="start" fill="#222" stroke="#222" stroke-width="0.05" >3</text>
<text x="180.94" y="288.20" font-size="6.2" text-anchor="end" fill="#222" stroke="#222" stroke-width="0.12" textLength="6.6" lengthAdjust="spacingAndGlyphs" >10</text>
<text x="181.14" y="285.40" font-size="4.4" text-anchor="start" fill="#222" stroke="#222" stroke-width="0.05" >4</text>
<text x="200.71" y="288.20" font-size="6.2" text-anchor="end" fill="#222" stroke="#222" stroke-width="0.12" textLength="6.6" lengthAdjust="spacingAndGlyphs" >10</text>
<text x="200.91" y="285.40" font-size="4.4" text-anchor="start" fill="#222" stroke="#222" stroke-width="0.05" >5</text>
<clipPath id="c3"><rect x="30.00" y="308.20" width="80.3" height="66.8"/></clipPath>
<g clip-path="url(#c3)"><g filter="url(#sm)">
<g filter="url(#gr)">
<ellipse cx="42" cy="327.5" rx="24.84" ry="11.20" fill="#000" fill-opacity="0.3" filter="url(#bl2)"/>
<ellipse cx="42" cy="327.5" rx="21.06" ry="8.96" fill="#000" fill-opacity="1.0" filter="url(#bl)"/>
<ellipse cx="42" cy="344.5" rx="15.12" ry="3.36" fill="#000" fill-opacity="1.0" filter="url(#bl)"/>
<ellipse cx="85" cy="346.3" rx="28.08" ry="2.24" fill="#000" fill-opacity="0.3" filter="url(#bl2)"/>
</g>
<ellipse cx="42" cy="327.5" rx="16.57" ry="6.40" fill="#e00000" fill-opacity="1.0" filter="url(#bl)"/>
<ellipse cx="42" cy="344.5" rx="11.90" ry="2.40" fill="#e00000" fill-opacity="1.0" filter="url(#bl)"/>
<path d="M30.4 327.8h.8v.8h-.8zM47.5 324.4h.8v.8h-.8zM51.1 329.9h.8v.8h-.8zM38.9 318.0h.8v.8h-.8zM42.0 325.2h.8v.8h-.8zM45.1 316.5h.8v.8h-.8zM42.7 339.1h.8v.8h-.8zM36.4 315.0h.8v.8h-.8zM51.0 329.9h.8v.8h-.8zM53.1 318.7h.8v.8h-.8zM59.0 320.9h.8v.8h-.8zM35.5 322.0h.8v.8h-.8zM46.8 330.6h.8v.8h-.8zM54.9 325.9h.8v.8h-.8zM58.3 326.5h.8v.8h-.8zM57.9 316.9h.8v.8h-.8zM30.7 331.0h.8v.8h-.8zM32.7 324.0h.8v.8h-.8zM46.9 322.8h.8v.8h-.8zM43.0 335.1h.8v.8h-.8zM73.2 326.2h.8v.8h-.8zM47.8 330.7h.8v.8h-.8zM68.1 318.3h.8v.8h-.8zM49.0 324.8h.8v.8h-.8zM54.2 327.0h.8v.8h-.8zM55.3 323.3h.8v.8h-.8zM48.5 321.6h.8v.8h-.8zM40.7 325.1h.8v.8h-.8zM46.4 318.4h.8v.8h-.8zM65.3 325.1h.8v.8h-.8zM32.8 333.2h.8v.8h-.8zM39.8 329.3h.8v.8h-.8zM47.8 327.6h.8v.8h-.8zM49.9 322.3h.8v.8h-.8zM48.5 339.2h.8v.8h-.8zM52.8 319.2h.8v.8h-.8zM32.9 340.0h.8v.8h-.8zM43.9 339.5h.8v.8h-.8zM53.9 326.5h.8v.8h-.8zM53.2 330.1h.8v.8h-.8zM61.0 328.8h.8v.8h-.8zM49.6 327.1h.8v.8h-.8zM62.9 331.3h.8v.8h-.8zM37.0 321.9h.8v.8h-.8zM51.6 322.0h.8v.8h-.8zM43.9 319.8h.8v.8h-.8zM45.1 328.8h.8v.8h-.8zM58.9 326.1h.8v.8h-.8zM70.8 325.5h.8v.8h-.8zM83.1 332.5h.8v.8h-.8zM53.5 322.8h.8v.8h-.8zM50.0 338.5h.8v.8h-.8zM32.8 338.4h.8v.8h-.8zM45.2 330.7h.8v.8h-.8zM44.2 330.4h.8v.8h-.8zM49.0 318.6h.8v.8h-.8zM58.4 330.5h.8v.8h-.8zM54.6 332.6h.8v.8h-.8zM60.1 325.9h.8v.8h-.8zM33.1 317.0h.8v.8h-.8zM62.8 330.6h.8v.8h-.8zM49.1 323.2h.8v.8h-.8zM48.3 326.2h.8v.8h-.8zM44.3 321.5h.8v.8h-.8zM71.8 327.5h.8v.8h-.8zM41.3 317.5h.8v.8h-.8zM40.0 330.7h.8v.8h-.8zM56.3 324.6h.8v.8h-.8zM48.6 324.0h.8v.8h-.8zM35.8 334.5h.8v.8h-.8zM52.1 342.1h.8v.8h-.8zM39.7 325.1h.8v.8h-.8zM57.7 324.4h.8v.8h-.8zM32.7 319.8h.8v.8h-.8zM49.1 328.2h.8v.8h-.8zM47.0 332.5h.8v.8h-.8zM58.9 328.1h.8v.8h-.8zM48.3 324.4h.8v.8h-.8zM54.1 332.0h.8v.8h-.8zM48.7 328.9h.8v.8h-.8zM44.4 316.8h.8v.8h-.8zM37.0 331.0h.8v.8h-.8zM52.9 336.3h.8v.8h-.8zM48.6 331.6h.8v.8h-.8zM62.6 332.5h.8v.8h-.8zM41.3 324.8h.8v.8h-.8zM49.4 319.6h.8v.8h-.8zM53.2 332.7h.8v.8h-.8zM42.7 338.8h.8v.8h-.8zM44.8 324.7h.8v.8h-.8zM45.4 321.4h.8v.8h-.8zM52.6 326.1h.8v.8h-.8zM66.3 329.9h.8v.8h-.8zM53.9 324.6h.8v.8h-.8zM32.4 325.4h.8v.8h-.8zM38.6 332.2h.8v.8h-.8zM47.7 336.8h.8v.8h-.8zM56.1 331.4h.8v.8h-.8zM50.5 327.4h.8v.8h-.8zM55.2 332.0h.8v.8h-.8zM40.2 329.2h.8v.8h-.8zM76.8 325.4h.8v.8h-.8zM45.2 321.5h.8v.8h-.8zM32.1 333.7h.8v.8h-.8zM48.7 327.9h.8v.8h-.8zM68.3 342.3h.8v.8h-.8zM38.2 332.9h.8v.8h-.8zM54.9 328.6h.8v.8h-.8zM53.3 325.9h.8v.8h-.8zM65.5 330.0h.8v.8h-.8zM51.8 334.1h.8v.8h-.8zM57.9 329.0h.8v.8h-.8zM51.6 337.4h.8v.8h-.8zM53.6 325.4h.8v.8h-.8zM38.6 323.8h.8v.8h-.8zM36.5 326.7h.8v.8h-.8zM50.9 312.7h.8v.8h-.8zM48.2 330.2h.8v.8h-.8zM49.9 319.8h.8v.8h-.8zM62.0 321.5h.8v.8h-.8zM34.5 319.0h.8v.8h-.8zM47.9 332.4h.8v.8h-.8zM60.8 327.4h.8v.8h-.8zM34.9 321.7h.8v.8h-.8zM38.1 324.9h.8v.8h-.8zM55.1 325.0h.8v.8h-.8zM53.1 319.9h.8v.8h-.8zM32.0 321.9h.8v.8h-.8zM60.7 332.7h.8v.8h-.8zM43.0 333.8h.8v.8h-.8zM44.4 335.8h.8v.8h-.8zM53.3 323.1h.8v.8h-.8zM56.8 321.0h.8v.8h-.8zM37.7 316.6h.8v.8h-.8zM50.8 325.7h.8v.8h-.8zM47.2 323.3h.8v.8h-.8zM63.8 323.2h.8v.8h-.8zM40.0 334.1h.8v.8h-.8zM63.6 328.2h.8v.8h-.8zM54.7 326.1h.8v.8h-.8zM65.1 317.1h.8v.8h-.8zM55.5 321.9h.8v.8h-.8zM62.6 325.5h.8v.8h-.8zM59.3 321.8h.8v.8h-.8zM32.5 318.8h.8v.8h-.8zM41.3 319.3h.8v.8h-.8zM61.2 334.7h.8v.8h-.8zM51.0 319.3h.8v.8h-.8zM46.7 321.5h.8v.8h-.8zM64.0 328.1h.8v.8h-.8zM53.4 323.4h.8v.8h-.8zM35.7 328.4h.8v.8h-.8zM49.1 320.8h.8v.8h-.8zM43.7 336.2h.8v.8h-.8zM37.4 320.0h.8v.8h-.8zM45.5 321.5h.8v.8h-.8zM43.3 329.5h.8v.8h-.8zM67.1 314.4h.8v.8h-.8zM47.8 326.3h.8v.8h-.8zM47.1 324.8h.8v.8h-.8zM44.3 332.5h.8v.8h-.8zM42.9 325.2h.8v.8h-.8zM48.0 326.7h.8v.8h-.8zM46.1 332.5h.8v.8h-.8zM47.9 327.1h.8v.8h-.8zM47.4 319.5h.8v.8h-.8zM38.9 319.2h.8v.8h-.8zM50.1 321.4h.8v.8h-.8zM36.3 327.5h.8v.8h-.8zM53.8 314.6h.8v.8h-.8zM66.6 326.2h.8v.8h-.8zM46.8 332.9h.8v.8h-.8zM48.8 322.1h.8v.8h-.8zM72.1 319.0h.8v.8h-.8zM46.9 331.5h.8v.8h-.8zM36.2 325.3h.8v.8h-.8zM52.3 341.6h.8v.8h-.8zM38.2 325.7h.8v.8h-.8zM55.2 326.5h.8v.8h-.8zM34.8 328.7h.8v.8h-.8zM49.2 328.9h.8v.8h-.8zM60.4 332.6h.8v.8h-.8zM52.5 328.0h.8v.8h-.8zM35.9 325.1h.8v.8h-.8zM50.4 323.4h.8v.8h-.8zM49.1 320.6h.8v.8h-.8zM64.9 340.0h.8v.8h-.8zM43.7 328.6h.8v.8h-.8zM45.4 334.2h.8v.8h-.8zM52.8 326.5h.8v.8h-.8zM45.5 326.8h.8v.8h-.8zM37.0 330.4h.8v.8h-.8zM40.1 329.5h.8v.8h-.8zM49.4 333.1h.8v.8h-.8zM47.8 332.6h.8v.8h-.8zM37.9 330.0h.8v.8h-.8zM45.5 327.3h.8v.8h-.8zM48.8 332.1h.8v.8h-.8zM31.6 333.8h.8v.8h-.8zM33.8 326.7h.8v.8h-.8zM42.1 314.3h.8v.8h-.8zM44.3 330.3h.8v.8h-.8zM46.0 332.1h.8v.8h-.8zM44.0 326.0h.8v.8h-.8zM43.8 328.2h.8v.8h-.8zM68.9 328.4h.8v.8h-.8zM50.1 322.0h.8v.8h-.8zM39.7 335.5h.8v.8h-.8zM35.8 320.1h.8v.8h-.8zM46.9 323.2h.8v.8h-.8zM69.5 310.6h.8v.8h-.8zM52.0 330.6h.8v.8h-.8zM35.7 321.8h.8v.8h-.8zM52.8 336.6h.8v.8h-.8zM37.9 315.7h.8v.8h-.8zM58.7 335.9h.8v.8h-.8zM44.3 311.6h.8v.8h-.8zM64.0 324.7h.8v.8h-.8zM60.4 325.7h.8v.8h-.8zM43.9 323.1h.8v.8h-.8zM64.2 335.3h.8v.8h-.8zM67.5 323.6h.8v.8h-.8zM33.0 326.0h.8v.8h-.8zM46.8 325.4h.8v.8h-.8zM42.7 324.0h.8v.8h-.8zM43.0 328.2h.8v.8h-.8zM39.1 324.1h.8v.8h-.8zM46.4 334.5h.8v.8h-.8zM52.1 325.3h.8v.8h-.8zM53.9 328.6h.8v.8h-.8zM60.0 329.3h.8v.8h-.8zM67.7 334.7h.8v.8h-.8zM47.5 323.3h.8v.8h-.8zM57.7 329.4h.8v.8h-.8zM47.0 316.4h.8v.8h-.8zM56.5 331.2h.8v.8h-.8zM33.8 332.7h.8v.8h-.8zM42.1 328.5h.8v.8h-.8zM52.6 320.8h.8v.8h-.8zM41.5 312.5h.8v.8h-.8zM37.9 314.3h.8v.8h-.8zM52.8 326.4h.8v.8h-.8zM58.1 328.3h.8v.8h-.8zM41.0 328.3h.8v.8h-.8zM43.7 330.0h.8v.8h-.8zM51.5 319.6h.8v.8h-.8zM48.0 326.4h.8v.8h-.8zM44.6 331.8h.8v.8h-.8zM66.8 323.6h.8v.8h-.8zM44.1 311.4h.8v.8h-.8zM46.6 323.2h.8v.8h-.8zM54.5 321.2h.8v.8h-.8zM43.9 319.7h.8v.8h-.8zM56.4 316.1h.8v.8h-.8zM44.6 338.7h.8v.8h-.8zM48.6 329.0h.8v.8h-.8zM46.4 318.4h.8v.8h-.8zM47.6 328.6h.8v.8h-.8zM36.8 328.2h.8v.8h-.8zM61.7 333.0h.8v.8h-.8zM30.6 319.7h.8v.8h-.8zM30.2 333.0h.8v.8h-.8zM54.7 330.6h.8v.8h-.8zM38.3 318.4h.8v.8h-.8zM48.8 326.7h.8v.8h-.8zM38.6 326.9h.8v.8h-.8zM55.1 327.5h.8v.8h-.8zM36.6 312.3h.8v.8h-.8zM45.2 327.1h.8v.8h-.8zM45.1 323.2h.8v.8h-.8zM40.4 330.7h.8v.8h-.8zM47.4 326.8h.8v.8h-.8zM37.3 322.0h.8v.8h-.8zM49.8 319.5h.8v.8h-.8zM34.1 323.9h.8v.8h-.8zM61.2 327.2h.8v.8h-.8zM64.1 325.1h.8v.8h-.8zM44.6 317.0h.8v.8h-.8zM41.7 335.3h.8v.8h-.8zM51.6 330.8h.8v.8h-.8zM55.8 325.9h.8v.8h-.8zM45.7 326.8h.8v.8h-.8zM55.4 329.0h.8v.8h-.8zM53.4 327.0h.8v.8h-.8zM39.5 324.3h.8v.8h-.8zM37.6 332.5h.8v.8h-.8zM74.3 323.8h.8v.8h-.8zM35.5 325.9h.8v.8h-.8zM62.2 325.0h.8v.8h-.8zM54.7 326.6h.8v.8h-.8zM43.9 346.5h.8v.8h-.8zM48.8 322.5h.8v.8h-.8zM42.6 328.5h.8v.8h-.8zM52.5 331.0h.8v.8h-.8zM49.6 316.7h.8v.8h-.8zM53.9 324.0h.8v.8h-.8zM44.9 316.4h.8v.8h-.8zM41.7 321.3h.8v.8h-.8zM47.6 316.6h.8v.8h-.8zM48.6 326.8h.8v.8h-.8zM35.7 321.9h.8v.8h-.8zM38.6 331.9h.8v.8h-.8zM57.3 321.9h.8v.8h-.8zM49.5 320.5h.8v.8h-.8zM69.3 331.9h.8v.8h-.8zM60.4 317.4h.8v.8h-.8zM35.9 333.0h.8v.8h-.8zM45.9 324.3h.8v.8h-.8zM51.7 317.8h.8v.8h-.8zM56.5 326.1h.8v.8h-.8zM53.3 321.6h.8v.8h-.8zM53.6 321.4h.8v.8h-.8zM58.5 333.3h.8v.8h-.8zM58.0 329.4h.8v.8h-.8zM55.0 308.4h.8v.8h-.8zM57.2 324.2h.8v.8h-.8zM49.0 324.2h.8v.8h-.8zM32.7 322.5h.8v.8h-.8zM55.2 335.2h.8v.8h-.8zM41.1 320.1h.8v.8h-.8zM64.0 320.3h.8v.8h-.8zM70.8 326.3h.8v.8h-.8zM38.3 332.4h.8v.8h-.8zM66.6 316.7h.8v.8h-.8zM65.1 324.2h.8v.8h-.8zM64.3 323.5h.8v.8h-.8zM30.7 329.3h.8v.8h-.8zM58.2 339.6h.8v.8h-.8zM67.0 330.5h.8v.8h-.8zM45.4 322.6h.8v.8h-.8zM44.8 320.6h.8v.8h-.8zM45.0 309.5h.8v.8h-.8zM50.0 325.8h.8v.8h-.8zM76.2 330.9h.8v.8h-.8zM42.7 329.7h.8v.8h-.8zM34.5 322.1h.8v.8h-.8zM54.5 318.4h.8v.8h-.8zM47.3 332.2h.8v.8h-.8zM53.4 328.5h.8v.8h-.8zM38.6 321.9h.8v.8h-.8zM49.0 332.0h.8v.8h-.8zM38.9 318.7h.8v.8h-.8zM60.6 320.0h.8v.8h-.8zM59.8 327.6h.8v.8h-.8zM57.7 337.3h.8v.8h-.8zM55.6 331.0h.8v.8h-.8zM37.9 321.5h.8v.8h-.8zM55.1 336.0h.8v.8h-.8zM63.3 341.1h.8v.8h-.8zM51.4 327.3h.8v.8h-.8zM59.1 326.1h.8v.8h-.8zM47.3 319.2h.8v.8h-.8zM58.9 319.0h.8v.8h-.8zM53.6 316.8h.8v.8h-.8zM60.1 319.3h.8v.8h-.8zM57.3 315.7h.8v.8h-.8zM43.2 333.7h.8v.8h-.8zM39.1 326.4h.8v.8h-.8zM42.7 311.0h.8v.8h-.8zM51.4 328.8h.8v.8h-.8zM35.8 329.7h.8v.8h-.8zM39.2 319.5h.8v.8h-.8zM48.1 321.6h.8v.8h-.8zM73.2 315.9h.8v.8h-.8zM56.1 332.4h.8v.8h-.8zM54.2 322.9h.8v.8h-.8zM52.2 333.4h.8v.8h-.8zM43.9 319.1h.8v.8h-.8zM37.8 328.0h.8v.8h-.8zM50.5 317.0h.8v.8h-.8zM67.0 333.0h.8v.8h-.8zM57.3 318.3h.8v.8h-.8zM43.5 322.4h.8v.8h-.8zM43.4 318.7h.8v.8h-.8zM52.8 327.5h.8v.8h-.8zM52.0 322.7h.8v.8h-.8zM62.2 327.2h.8v.8h-.8zM47.4 332.3h.8v.8h-.8z" fill="#e00000" fill-opacity="0.45"/>
<path d="M41.7 343.8h.8v.8h-.8zM37.7 346.4h.8v.8h-.8zM40.1 342.8h.8v.8h-.8zM36.8 346.1h.8v.8h-.8zM39.1 339.8h.8v.8h-.8zM51.8 342.5h.8v.8h-.8zM48.9 345.5h.8v.8h-.8zM58.2 347.4h.8v.8h-.8zM38.7 344.0h.8v.8h-.8zM30.8 349.2h.8v.8h-.8zM49.9 348.4h.8v.8h-.8zM41.5 338.8h.8v.8h-.8zM61.8 344.8h.8v.8h-.8zM46.5 344.7h.8v.8h-.8zM52.1 346.0h.8v.8h-.8zM39.2 343.2h.8v.8h-.8zM64.0 347.1h.8v.8h-.8zM41.3 339.3h.8v.8h-.8zM46.8 346.0h.8v.8h-.8zM44.1 341.0h.8v.8h-.8zM36.3 341.0h.8v.8h-.8zM47.4 346.8h.8v.8h-.8zM56.3 342.4h.8v.8h-.8zM47.6 346.1h.8v.8h-.8zM39.4 344.1h.8v.8h-.8zM68.4 345.1h.8v.8h-.8zM54.7 343.3h.8v.8h-.8zM45.5 339.7h.8v.8h-.8zM44.7 347.8h.8v.8h-.8zM68.1 347.9h.8v.8h-.8zM52.6 344.6h.8v.8h-.8zM38.4 344.1h.8v.8h-.8zM51.7 342.3h.8v.8h-.8zM55.3 341.7h.8v.8h-.8zM57.5 343.9h.8v.8h-.8zM47.4 347.7h.8v.8h-.8zM58.9 343.1h.8v.8h-.8zM59.6 345.6h.8v.8h-.8zM45.0 345.7h.8v.8h-.8zM43.8 346.2h.8v.8h-.8zM40.9 344.1h.8v.8h-.8zM55.7 348.5h.8v.8h-.8zM53.4 348.1h.8v.8h-.8zM40.6 343.6h.8v.8h-.8zM48.5 343.7h.8v.8h-.8zM39.4 349.1h.8v.8h-.8zM42.8 341.8h.8v.8h-.8zM50.4 349.6h.8v.8h-.8zM45.9 347.9h.8v.8h-.8zM40.2 343.1h.8v.8h-.8zM37.4 344.1h.8v.8h-.8zM65.2 341.3h.8v.8h-.8zM63.0 341.7h.8v.8h-.8zM42.4 346.8h.8v.8h-.8zM51.9 345.3h.8v.8h-.8zM33.8 351.7h.8v.8h-.8zM42.7 345.0h.8v.8h-.8zM32.4 343.2h.8v.8h-.8zM30.8 347.2h.8v.8h-.8zM42.1 346.1h.8v.8h-.8zM37.5 343.1h.8v.8h-.8zM59.2 341.8h.8v.8h-.8zM32.4 343.3h.8v.8h-.8zM55.0 342.2h.8v.8h-.8zM54.7 342.6h.8v.8h-.8zM61.4 348.2h.8v.8h-.8zM39.8 343.9h.8v.8h-.8zM35.8 345.1h.8v.8h-.8zM57.6 340.4h.8v.8h-.8zM55.1 340.8h.8v.8h-.8zM35.5 339.5h.8v.8h-.8zM68.2 344.7h.8v.8h-.8zM47.7 342.6h.8v.8h-.8zM56.7 338.6h.8v.8h-.8zM45.3 350.7h.8v.8h-.8zM40.8 344.5h.8v.8h-.8zM52.4 342.2h.8v.8h-.8zM45.3 347.2h.8v.8h-.8zM47.1 345.5h.8v.8h-.8zM41.2 345.4h.8v.8h-.8zM45.6 348.6h.8v.8h-.8zM53.0 343.8h.8v.8h-.8zM53.3 341.9h.8v.8h-.8zM55.2 341.5h.8v.8h-.8zM39.9 345.1h.8v.8h-.8zM58.5 344.4h.8v.8h-.8zM43.9 343.0h.8v.8h-.8zM62.9 347.5h.8v.8h-.8zM44.0 340.6h.8v.8h-.8zM36.3 346.1h.8v.8h-.8zM37.1 347.0h.8v.8h-.8zM49.0 345.3h.8v.8h-.8zM52.2 345.9h.8v.8h-.8zM35.6 343.6h.8v.8h-.8zM70.7 341.1h.8v.8h-.8zM39.8 347.5h.8v.8h-.8zM43.2 342.2h.8v.8h-.8zM30.4 346.0h.8v.8h-.8zM56.2 348.4h.8v.8h-.8zM45.6 347.4h.8v.8h-.8zM33.6 345.0h.8v.8h-.8zM37.5 345.0h.8v.8h-.8zM53.3 347.5h.8v.8h-.8zM34.1 348.0h.8v.8h-.8zM39.8 341.6h.8v.8h-.8zM43.1 340.4h.8v.8h-.8zM45.1 345.3h.8v.8h-.8zM42.8 346.0h.8v.8h-.8zM41.5 344.5h.8v.8h-.8zM35.6 343.2h.8v.8h-.8zM44.0 345.0h.8v.8h-.8zM41.7 345.8h.8v.8h-.8zM49.0 347.0h.8v.8h-.8zM59.3 345.9h.8v.8h-.8zM44.8 341.6h.8v.8h-.8zM34.6 343.2h.8v.8h-.8zM47.9 345.1h.8v.8h-.8zM45.0 344.1h.8v.8h-.8zM51.9 345.1h.8v.8h-.8zM48.3 345.4h.8v.8h-.8zM39.0 341.6h.8v.8h-.8zM50.4 345.7h.8v.8h-.8zM42.6 343.3h.8v.8h-.8zM70.1 342.4h.8v.8h-.8zM42.6 345.2h.8v.8h-.8zM32.3 344.8h.8v.8h-.8zM64.8 347.1h.8v.8h-.8zM52.0 346.2h.8v.8h-.8zM46.2 347.2h.8v.8h-.8zM43.3 343.3h.8v.8h-.8zM46.1 347.0h.8v.8h-.8zM48.6 346.4h.8v.8h-.8zM70.7 348.2h.8v.8h-.8zM41.5 342.1h.8v.8h-.8zM48.1 341.7h.8v.8h-.8zM53.0 343.0h.8v.8h-.8zM55.6 348.3h.8v.8h-.8zM37.3 340.6h.8v.8h-.8zM38.2 343.9h.8v.8h-.8zM56.4 340.2h.8v.8h-.8zM56.6 350.2h.8v.8h-.8zM51.6 346.0h.8v.8h-.8zM44.9 341.2h.8v.8h-.8zM50.9 345.6h.8v.8h-.8zM53.0 351.7h.8v.8h-.8zM53.0 345.7h.8v.8h-.8zM62.2 340.7h.8v.8h-.8zM32.4 343.4h.8v.8h-.8zM37.8 346.4h.8v.8h-.8zM41.5 349.4h.8v.8h-.8zM61.7 346.7h.8v.8h-.8zM40.8 346.2h.8v.8h-.8zM53.9 341.5h.8v.8h-.8zM48.8 346.5h.8v.8h-.8zM47.4 348.9h.8v.8h-.8zM58.4 342.2h.8v.8h-.8zM46.4 342.2h.8v.8h-.8zM51.4 342.1h.8v.8h-.8zM55.2 345.6h.8v.8h-.8zM55.7 344.1h.8v.8h-.8zM43.1 348.4h.8v.8h-.8zM49.7 346.4h.8v.8h-.8zM65.1 345.5h.8v.8h-.8zM60.4 340.3h.8v.8h-.8zM54.6 343.8h.8v.8h-.8zM43.5 344.5h.8v.8h-.8zM48.8 349.1h.8v.8h-.8zM37.1 347.8h.8v.8h-.8zM40.3 345.8h.8v.8h-.8zM40.6 346.4h.8v.8h-.8zM56.2 343.4h.8v.8h-.8zM45.5 340.5h.8v.8h-.8zM48.4 346.9h.8v.8h-.8zM38.9 347.6h.8v.8h-.8zM45.2 344.3h.8v.8h-.8zM44.3 346.5h.8v.8h-.8zM39.8 341.0h.8v.8h-.8zM31.3 350.4h.8v.8h-.8zM61.0 345.9h.8v.8h-.8zM35.9 344.5h.8v.8h-.8zM54.5 347.9h.8v.8h-.8zM35.1 346.6h.8v.8h-.8zM47.8 347.6h.8v.8h-.8zM60.3 343.5h.8v.8h-.8zM64.5 346.4h.8v.8h-.8zM47.5 351.2h.8v.8h-.8zM33.6 347.0h.8v.8h-.8zM38.7 344.6h.8v.8h-.8zM46.0 348.7h.8v.8h-.8zM34.7 343.0h.8v.8h-.8zM40.0 345.7h.8v.8h-.8zM33.2 343.5h.8v.8h-.8zM56.4 344.0h.8v.8h-.8zM51.9 346.0h.8v.8h-.8zM41.1 340.1h.8v.8h-.8zM55.8 345.0h.8v.8h-.8zM55.8 338.9h.8v.8h-.8zM35.4 347.4h.8v.8h-.8zM51.2 344.4h.8v.8h-.8zM46.4 346.6h.8v.8h-.8z" fill="#e00000" fill-opacity="0.5"/>
<path d="M76.0 346.9h.8v.8h-.8zM84.8 342.8h.8v.8h-.8zM74.3 348.5h.8v.8h-.8zM74.1 346.1h.8v.8h-.8zM69.9 345.5h.8v.8h-.8zM104.5 345.9h.8v.8h-.8zM61.6 341.3h.8v.8h-.8zM70.5 343.2h.8v.8h-.8zM45.5 347.6h.8v.8h-.8zM96.2 343.2h.8v.8h-.8zM99.0 347.0h.8v.8h-.8zM66.3 347.5h.8v.8h-.8zM49.5 344.4h.8v.8h-.8zM53.2 344.5h.8v.8h-.8zM99.6 344.2h.8v.8h-.8zM59.0 344.8h.8v.8h-.8zM85.9 345.8h.8v.8h-.8zM99.2 345.2h.8v.8h-.8zM56.2 345.5h.8v.8h-.8zM82.7 344.8h.8v.8h-.8zM87.5 349.2h.8v.8h-.8zM70.2 346.4h.8v.8h-.8zM108.9 345.2h.8v.8h-.8zM64.8 344.5h.8v.8h-.8zM89.7 347.1h.8v.8h-.8zM78.7 346.3h.8v.8h-.8zM107.1 347.7h.8v.8h-.8zM53.6 346.3h.8v.8h-.8zM83.7 347.4h.8v.8h-.8zM77.1 345.2h.8v.8h-.8zM72.3 343.4h.8v.8h-.8zM81.0 345.3h.8v.8h-.8zM90.8 344.6h.8v.8h-.8zM72.7 344.7h.8v.8h-.8zM60.0 347.4h.8v.8h-.8zM72.0 347.0h.8v.8h-.8zM58.9 346.4h.8v.8h-.8zM47.5 345.5h.8v.8h-.8zM71.2 347.2h.8v.8h-.8zM84.8 346.0h.8v.8h-.8zM97.9 346.5h.8v.8h-.8zM91.9 347.5h.8v.8h-.8zM79.8 345.8h.8v.8h-.8zM87.7 345.6h.8v.8h-.8zM88.9 348.0h.8v.8h-.8zM98.2 345.6h.8v.8h-.8zM55.4 346.1h.8v.8h-.8zM78.6 348.0h.8v.8h-.8zM73.4 345.9h.8v.8h-.8zM95.8 345.5h.8v.8h-.8zM77.9 349.0h.8v.8h-.8zM86.4 344.7h.8v.8h-.8zM92.2 346.3h.8v.8h-.8zM85.5 345.4h.8v.8h-.8zM80.8 345.9h.8v.8h-.8zM87.4 348.5h.8v.8h-.8zM88.3 343.6h.8v.8h-.8zM61.7 343.7h.8v.8h-.8zM65.2 347.1h.8v.8h-.8zM89.1 345.3h.8v.8h-.8zM86.4 345.0h.8v.8h-.8zM52.7 344.0h.8v.8h-.8zM63.9 348.5h.8v.8h-.8zM54.3 348.2h.8v.8h-.8zM107.5 345.9h.8v.8h-.8zM80.0 345.2h.8v.8h-.8zM80.5 347.3h.8v.8h-.8zM81.2 347.8h.8v.8h-.8zM104.7 346.8h.8v.8h-.8zM87.5 346.1h.8v.8h-.8zM87.9 344.4h.8v.8h-.8zM89.1 346.5h.8v.8h-.8zM63.8 349.7h.8v.8h-.8zM61.6 344.8h.8v.8h-.8zM86.5 343.1h.8v.8h-.8zM65.2 343.8h.8v.8h-.8zM61.7 346.0h.8v.8h-.8zM87.3 348.0h.8v.8h-.8zM97.0 348.1h.8v.8h-.8zM92.7 345.5h.8v.8h-.8zM103.2 345.4h.8v.8h-.8zM68.7 348.7h.8v.8h-.8zM96.7 346.6h.8v.8h-.8zM95.9 347.6h.8v.8h-.8zM53.7 346.1h.8v.8h-.8zM57.4 346.4h.8v.8h-.8zM67.5 348.4h.8v.8h-.8zM91.3 344.9h.8v.8h-.8zM80.5 344.3h.8v.8h-.8zM81.7 347.1h.8v.8h-.8zM86.1 343.1h.8v.8h-.8zM74.2 347.0h.8v.8h-.8zM87.0 348.1h.8v.8h-.8zM55.2 347.0h.8v.8h-.8zM67.9 346.5h.8v.8h-.8zM89.0 347.3h.8v.8h-.8zM69.3 346.5h.8v.8h-.8zM57.5 344.0h.8v.8h-.8zM92.0 346.1h.8v.8h-.8zM48.5 344.8h.8v.8h-.8zM81.2 348.7h.8v.8h-.8zM101.7 347.5h.8v.8h-.8zM45.2 346.1h.8v.8h-.8zM90.4 346.8h.8v.8h-.8zM89.2 345.8h.8v.8h-.8zM79.0 344.6h.8v.8h-.8zM104.8 349.3h.8v.8h-.8zM62.0 346.7h.8v.8h-.8zM73.9 347.0h.8v.8h-.8zM87.2 349.3h.8v.8h-.8zM92.6 346.2h.8v.8h-.8zM103.3 345.8h.8v.8h-.8zM73.5 349.8h.8v.8h-.8zM64.4 345.4h.8v.8h-.8zM81.7 344.5h.8v.8h-.8zM38.7 347.9h.8v.8h-.8zM65.1 345.3h.8v.8h-.8zM73.4 344.6h.8v.8h-.8zM59.3 346.5h.8v.8h-.8zM95.8 343.8h.8v.8h-.8zM80.3 344.3h.8v.8h-.8zM96.3 345.8h.8v.8h-.8zM81.6 346.1h.8v.8h-.8zM69.2 343.8h.8v.8h-.8zM92.4 344.0h.8v.8h-.8zM57.2 345.7h.8v.8h-.8zM66.7 346.6h.8v.8h-.8zM101.0 346.6h.8v.8h-.8zM84.8 346.2h.8v.8h-.8zM98.0 343.3h.8v.8h-.8zM88.2 344.7h.8v.8h-.8zM56.2 346.2h.8v.8h-.8zM73.1 347.1h.8v.8h-.8zM102.8 342.5h.8v.8h-.8zM79.4 349.3h.8v.8h-.8zM98.2 348.5h.8v.8h-.8zM82.9 343.9h.8v.8h-.8zM58.3 347.3h.8v.8h-.8zM100.0 345.0h.8v.8h-.8zM75.5 346.6h.8v.8h-.8zM45.8 345.6h.8v.8h-.8zM78.7 349.1h.8v.8h-.8zM70.3 344.9h.8v.8h-.8zM36.1 347.7h.8v.8h-.8zM73.3 349.9h.8v.8h-.8zM87.5 346.5h.8v.8h-.8zM44.7 348.6h.8v.8h-.8zM73.6 345.9h.8v.8h-.8zM36.7 347.7h.8v.8h-.8zM100.6 345.2h.8v.8h-.8zM82.7 346.8h.8v.8h-.8zM100.1 346.4h.8v.8h-.8zM68.7 345.5h.8v.8h-.8zM30.1 344.9h.8v.8h-.8zM101.0 346.6h.8v.8h-.8zM64.5 346.8h.8v.8h-.8zM40.5 345.8h.8v.8h-.8zM91.4 347.3h.8v.8h-.8zM65.4 347.7h.8v.8h-.8zM95.7 343.7h.8v.8h-.8zM41.7 347.2h.8v.8h-.8zM81.8 346.5h.8v.8h-.8zM69.3 345.7h.8v.8h-.8zM97.2 349.0h.8v.8h-.8zM76.6 343.6h.8v.8h-.8zM106.4 347.2h.8v.8h-.8zM94.6 346.5h.8v.8h-.8zM91.3 343.3h.8v.8h-.8zM69.4 345.1h.8v.8h-.8zM80.4 346.8h.8v.8h-.8zM66.0 349.0h.8v.8h-.8zM59.7 345.5h.8v.8h-.8zM85.7 344.2h.8v.8h-.8zM92.4 347.2h.8v.8h-.8zM75.1 349.3h.8v.8h-.8zM82.6 346.7h.8v.8h-.8zM61.8 343.5h.8v.8h-.8zM68.3 345.7h.8v.8h-.8zM71.9 347.4h.8v.8h-.8zM33.2 344.4h.8v.8h-.8zM44.4 348.4h.8v.8h-.8zM69.7 345.4h.8v.8h-.8zM58.9 347.7h.8v.8h-.8zM72.7 346.6h.8v.8h-.8zM40.3 348.1h.8v.8h-.8zM88.9 347.1h.8v.8h-.8zM105.7 345.9h.8v.8h-.8zM77.7 347.4h.8v.8h-.8zM89.5 345.8h.8v.8h-.8zM81.9 345.4h.8v.8h-.8zM95.3 347.7h.8v.8h-.8zM81.1 349.2h.8v.8h-.8zM50.2 345.8h.8v.8h-.8zM49.0 348.5h.8v.8h-.8zM92.0 344.3h.8v.8h-.8zM96.6 344.6h.8v.8h-.8zM54.2 346.0h.8v.8h-.8zM71.4 344.5h.8v.8h-.8zM73.7 344.6h.8v.8h-.8zM82.2 346.2h.8v.8h-.8zM96.0 345.5h.8v.8h-.8zM54.4 344.1h.8v.8h-.8zM76.1 348.7h.8v.8h-.8zM98.1 345.2h.8v.8h-.8zM99.9 344.4h.8v.8h-.8zM101.4 345.6h.8v.8h-.8zM96.5 347.2h.8v.8h-.8zM75.5 346.8h.8v.8h-.8zM59.7 346.1h.8v.8h-.8zM102.8 352.8h.8v.8h-.8zM95.2 346.4h.8v.8h-.8zM60.8 347.9h.8v.8h-.8zM47.8 344.9h.8v.8h-.8zM88.3 344.3h.8v.8h-.8zM69.7 345.3h.8v.8h-.8zM54.6 344.0h.8v.8h-.8zM90.0 347.2h.8v.8h-.8zM88.1 346.7h.8v.8h-.8zM69.8 346.8h.8v.8h-.8zM51.5 346.2h.8v.8h-.8zM71.8 345.7h.8v.8h-.8zM108.7 349.1h.8v.8h-.8zM51.0 345.5h.8v.8h-.8zM85.8 348.2h.8v.8h-.8zM64.3 347.3h.8v.8h-.8zM75.1 350.0h.8v.8h-.8zM89.7 346.0h.8v.8h-.8zM74.4 347.9h.8v.8h-.8zM94.7 344.5h.8v.8h-.8zM85.5 344.1h.8v.8h-.8zM65.9 344.1h.8v.8h-.8zM54.5 345.1h.8v.8h-.8zM61.4 347.1h.8v.8h-.8zM97.1 345.8h.8v.8h-.8zM58.6 347.5h.8v.8h-.8zM40.5 343.1h.8v.8h-.8zM95.7 347.3h.8v.8h-.8zM100.7 345.9h.8v.8h-.8zM55.8 345.4h.8v.8h-.8zM92.5 345.0h.8v.8h-.8zM67.0 344.0h.8v.8h-.8zM57.7 347.6h.8v.8h-.8zM90.2 344.4h.8v.8h-.8zM59.4 345.3h.8v.8h-.8zM92.1 344.4h.8v.8h-.8zM77.7 342.8h.8v.8h-.8zM55.9 346.9h.8v.8h-.8zM99.1 344.4h.8v.8h-.8zM65.6 347.5h.8v.8h-.8zM73.3 345.4h.8v.8h-.8zM91.5 346.5h.8v.8h-.8zM103.4 347.5h.8v.8h-.8zM69.6 346.0h.8v.8h-.8zM79.9 344.1h.8v.8h-.8zM61.6 347.8h.8v.8h-.8zM49.3 347.8h.8v.8h-.8zM86.9 346.0h.8v.8h-.8zM91.9 347.0h.8v.8h-.8zM105.4 345.6h.8v.8h-.8zM76.6 345.8h.8v.8h-.8zM62.6 345.7h.8v.8h-.8zM67.0 346.3h.8v.8h-.8zM85.5 349.9h.8v.8h-.8zM44.5 347.9h.8v.8h-.8zM89.9 345.1h.8v.8h-.8zM78.2 345.4h.8v.8h-.8zM82.2 347.9h.8v.8h-.8zM50.7 348.3h.8v.8h-.8zM73.7 348.6h.8v.8h-.8zM89.5 348.2h.8v.8h-.8zM92.6 348.0h.8v.8h-.8zM82.4 344.9h.8v.8h-.8zM94.8 347.4h.8v.8h-.8zM77.3 347.9h.8v.8h-.8zM56.2 345.9h.8v.8h-.8zM63.7 348.5h.8v.8h-.8zM105.1 347.5h.8v.8h-.8zM89.0 346.6h.8v.8h-.8zM63.9 345.4h.8v.8h-.8zM96.1 346.5h.8v.8h-.8zM33.3 345.7h.8v.8h-.8zM87.0 346.9h.8v.8h-.8zM82.8 344.9h.8v.8h-.8zM95.7 345.8h.8v.8h-.8zM57.5 348.5h.8v.8h-.8zM31.2 344.9h.8v.8h-.8zM90.1 345.7h.8v.8h-.8zM96.5 346.1h.8v.8h-.8zM72.4 349.7h.8v.8h-.8zM77.1 346.0h.8v.8h-.8zM59.9 345.1h.8v.8h-.8zM94.5 347.2h.8v.8h-.8zM81.6 345.1h.8v.8h-.8zM95.3 343.5h.8v.8h-.8zM74.8 345.9h.8v.8h-.8zM64.7 346.5h.8v.8h-.8zM68.3 345.0h.8v.8h-.8zM105.7 346.4h.8v.8h-.8zM101.0 347.5h.8v.8h-.8zM106.0 350.1h.8v.8h-.8zM77.2 346.7h.8v.8h-.8zM80.7 340.7h.8v.8h-.8zM53.9 346.3h.8v.8h-.8z" fill="#e00000" fill-opacity="0.4"/>
<path d="M98.7 322.1h.8v.8h-.8zM105.8 331.4h.8v.8h-.8zM84.1 332.1h.8v.8h-.8zM76.2 332.3h.8v.8h-.8zM87.7 323.1h.8v.8h-.8zM91.6 322.3h.8v.8h-.8zM105.0 328.9h.8v.8h-.8zM107.1 327.9h.8v.8h-.8zM78.9 324.2h.8v.8h-.8zM102.3 323.0h.8v.8h-.8z" fill="#e00000" fill-opacity="0.35"/>
<path d="M45.3 356.6h.8v.8h-.8zM56.0 351.9h.8v.8h-.8zM48.2 353.7h.8v.8h-.8zM56.7 355.1h.8v.8h-.8zM47.6 353.7h.8v.8h-.8zM56.8 355.1h.8v.8h-.8zM43.8 351.1h.8v.8h-.8zM51.4 355.7h.8v.8h-.8zM54.9 351.5h.8v.8h-.8zM50.2 359.0h.8v.8h-.8zM45.1 353.2h.8v.8h-.8z" fill="#e00000" fill-opacity="0.3"/>
</g></g>
<rect x="30.00" y="308.20" width="80.3" height="66.8" fill="none" stroke="#7a7a7a" stroke-width="0.9"/>
<line x1="72.90" y1="308.20" x2="72.90" y2="375.00" stroke="#7a7a7a" stroke-width="0.9"/>
<line x1="30.00" y1="338.10" x2="110.30" y2="338.10" stroke="#7a7a7a" stroke-width="0.9"/>
<text x="68.80" y="303.00" font-size="7.6" text-anchor="middle" fill="#111" stroke="#111" stroke-width="0.1" textLength="26.4" lengthAdjust="spacingAndGlyphs" >IBL-202</text>
<text x="34.30" y="316.00" font-size="5.9" text-anchor="start" fill="#111" stroke="#111" stroke-width="0.3" font-weight="bold" >47,644</text>
<path d="M31.16 375.00v1.3M30.00 374.28h-1.3M33.63 375.00v1.3M30.00 372.19h-1.3M35.55 375.00v1.3M30.00 370.56h-1.3M37.11 375.00v1.3M30.00 369.23h-1.3M38.44 375.00v1.3M30.00 368.10h-1.3M39.58 375.00v1.3M30.00 367.13h-1.3M40.60 375.00v1.3M30.00 366.27h-1.3M41.50 375.00v1.8M30.00 365.50h-1.8M47.45 375.00v1.3M30.00 360.44h-1.3M50.93 375.00v1.3M30.00 357.48h-1.3M53.40 375.00v1.3M30.00 355.39h-1.3M55.32 375.00v1.3M30.00 353.76h-1.3M56.88 375.00v1.3M30.00 352.43h-1.3M58.21 375.00v1.3M30.00 351.30h-1.3M59.35 375.00v1.3M30.00 350.33h-1.3M60.37 375.00v1.3M30.00 349.47h-1.3M61.27 375.00v1.8M30.00 348.70h-1.8M67.22 375.00v1.3M30.00 343.64h-1.3M70.70 375.00v1.3M30.00 340.68h-1.3M73.17 375.00v1.3M30.00 338.59h-1.3M75.09 375.00v1.3M30.00 336.96h-1.3M76.65 375.00v1.3M30.00 335.63h-1.3M77.98 375.00v1.3M30.00 334.50h-1.3M79.12 375.00v1.3M30.00 333.53h-1.3M80.14 375.00v1.3M30.00 332.67h-1.3M81.04 375.00v1.8M30.00 331.90h-1.8M86.99 375.00v1.3M30.00 326.84h-1.3M90.47 375.00v1.3M30.00 323.88h-1.3M92.94 375.00v1.3M30.00 321.79h-1.3M94.86 375.00v1.3M30.00 320.16h-1.3M96.42 375.00v1.3M30.00 318.83h-1.3M97.75 375.00v1.3M30.00 317.70h-1.3M98.89 375.00v1.3M30.00 316.73h-1.3M99.91 375.00v1.3M30.00 315.87h-1.3M100.81 375.00v1.8M30.00 315.10h-1.8M106.76 375.00v1.3M30.00 310.04h-1.3" stroke="#666" stroke-width="0.7" fill="none"/>
<text x="23.70" y="317.30" font-size="6.2" text-anchor="end" fill="#222" stroke="#222" stroke-width="0.12" textLength="6.6" lengthAdjust="spacingAndGlyphs" >10</text>
<text x="23.90" y="314.50" font-size="4.4" text-anchor="start" fill="#222" stroke="#222" stroke-width="0.05" >5</text>
<text x="23.70" y="334.10" font-size="6.2" text-anchor="end" fill="#222" stroke="#222" stroke-width="0.12" textLength="6.6" lengthAdjust="spacingAndGlyphs" >10</text>
<text x="23.90" y="331.30" font-size="4.4" text-anchor="start" fill="#222" stroke="#222" stroke-width="0.05" >4</text>
<text x="23.70" y="350.90" font-size="6.2" text-anchor="end" fill="#222" stroke="#222" stroke-width="0.12" textLength="6.6" lengthAdjust="spacingAndGlyphs" >10</text>
<text x="23.90" y="348.10" font-size="4.4" text-anchor="start" fill="#222" stroke="#222" stroke-width="0.05" >3</text>
<text x="23.70" y="367.70" font-size="6.2" text-anchor="end" fill="#222" stroke="#222" stroke-width="0.12" textLength="6.6" lengthAdjust="spacingAndGlyphs" >10</text>
<text x="23.90" y="364.90" font-size="4.4" text-anchor="start" fill="#222" stroke="#222" stroke-width="0.05" >2</text>
<text x="43.50" y="385.10" font-size="6.2" text-anchor="end" fill="#222" stroke="#222" stroke-width="0.12" textLength="6.6" lengthAdjust="spacingAndGlyphs" >10</text>
<text x="43.70" y="382.30" font-size="4.4" text-anchor="start" fill="#222" stroke="#222" stroke-width="0.05" >2</text>
<text x="63.27" y="385.10" font-size="6.2" text-anchor="end" fill="#222" stroke="#222" stroke-width="0.12" textLength="6.6" lengthAdjust="spacingAndGlyphs" >10</text>
<text x="63.47" y="382.30" font-size="4.4" text-anchor="start" fill="#222" stroke="#222" stroke-width="0.05" >3</text>
<text x="83.04" y="385.10" font-size="6.2" text-anchor="end" fill="#222" stroke="#222" stroke-width="0.12" textLength="6.6" lengthAdjust="spacingAndGlyphs" >10</text>
<text x="83.24" y="382.30" font-size="4.4" text-anchor="start" fill="#222" stroke="#222" stroke-width="0.05" >4</text>
<text x="102.81" y="385.10" font-size="6.2" text-anchor="end" fill="#222" stroke="#222" stroke-width="0.12" textLength="6.6" lengthAdjust="spacingAndGlyphs" >10</text>
<text x="103.01" y="382.30" font-size="4.4" text-anchor="start" fill="#222" stroke="#222" stroke-width="0.05" >5</text>
<clipPath id="c4"><rect x="127.30" y="308.20" width="80.3" height="66.8"/></clipPath>
<g clip-path="url(#c4)"><g filter="url(#sm)">
<g filter="url(#gr)">
<ellipse cx="139" cy="327.4" rx="23.76" ry="10.64" fill="#000" fill-opacity="0.3" filter="url(#bl2)"/>
<ellipse cx="139" cy="327.4" rx="19.44" ry="8.18" fill="#000" fill-opacity="1.0" filter="url(#bl)"/>
<ellipse cx="138" cy="346.0" rx="12.42" ry="3.14" fill="#000" fill-opacity="0.65" filter="url(#bl)"/>
<ellipse cx="180" cy="346.5" rx="28.08" ry="2.24" fill="#000" fill-opacity="0.3" filter="url(#bl2)"/>
</g>
<ellipse cx="139" cy="327.4" rx="15.30" ry="5.84" fill="#e00000" fill-opacity="1.0" filter="url(#bl)"/>
<ellipse cx="138" cy="346.0" rx="9.78" ry="2.24" fill="#e00000" fill-opacity="0.65" filter="url(#bl)"/>
<path d="M162.2 329.5h.8v.8h-.8zM140.7 326.7h.8v.8h-.8zM156.6 330.2h.8v.8h-.8zM142.1 332.8h.8v.8h-.8zM149.8 328.0h.8v.8h-.8zM148.3 328.9h.8v.8h-.8zM141.3 324.6h.8v.8h-.8zM145.3 321.7h.8v.8h-.8zM131.2 335.2h.8v.8h-.8zM142.4 327.3h.8v.8h-.8zM143.5 327.5h.8v.8h-.8zM145.2 327.8h.8v.8h-.8zM136.1 333.0h.8v.8h-.8zM137.4 333.6h.8v.8h-.8zM155.9 326.5h.8v.8h-.8zM137.6 329.7h.8v.8h-.8zM133.5 327.9h.8v.8h-.8zM137.9 330.6h.8v.8h-.8zM154.6 322.3h.8v.8h-.8zM162.7 323.8h.8v.8h-.8zM161.9 326.9h.8v.8h-.8zM137.9 322.9h.8v.8h-.8zM133.0 335.5h.8v.8h-.8zM144.1 338.1h.8v.8h-.8zM142.8 313.3h.8v.8h-.8zM154.3 325.2h.8v.8h-.8zM142.4 336.8h.8v.8h-.8zM142.1 334.4h.8v.8h-.8zM144.9 322.9h.8v.8h-.8zM150.6 323.8h.8v.8h-.8zM158.5 333.2h.8v.8h-.8zM145.7 331.1h.8v.8h-.8zM151.2 325.7h.8v.8h-.8zM154.8 326.0h.8v.8h-.8zM151.8 321.7h.8v.8h-.8zM146.1 329.9h.8v.8h-.8zM136.3 324.9h.8v.8h-.8zM139.2 331.8h.8v.8h-.8zM137.1 330.1h.8v.8h-.8zM161.8 329.6h.8v.8h-.8zM127.3 328.2h.8v.8h-.8zM156.5 325.7h.8v.8h-.8zM157.3 331.1h.8v.8h-.8zM149.7 325.9h.8v.8h-.8zM139.4 325.9h.8v.8h-.8zM145.8 330.6h.8v.8h-.8zM149.7 325.7h.8v.8h-.8zM145.8 329.8h.8v.8h-.8zM136.3 326.2h.8v.8h-.8zM142.1 325.9h.8v.8h-.8zM135.5 331.5h.8v.8h-.8zM148.2 317.6h.8v.8h-.8zM145.3 320.7h.8v.8h-.8zM163.9 324.8h.8v.8h-.8zM140.8 328.0h.8v.8h-.8zM143.0 327.1h.8v.8h-.8zM162.2 328.9h.8v.8h-.8zM154.4 334.3h.8v.8h-.8zM134.5 337.6h.8v.8h-.8zM152.8 333.2h.8v.8h-.8zM135.7 332.4h.8v.8h-.8zM149.7 324.3h.8v.8h-.8zM170.3 330.9h.8v.8h-.8zM142.6 328.7h.8v.8h-.8zM155.2 334.3h.8v.8h-.8zM151.6 334.8h.8v.8h-.8zM161.4 320.1h.8v.8h-.8zM139.9 321.9h.8v.8h-.8zM146.3 336.2h.8v.8h-.8zM152.4 321.2h.8v.8h-.8zM142.0 333.7h.8v.8h-.8zM139.4 326.9h.8v.8h-.8zM148.6 316.6h.8v.8h-.8zM153.8 329.6h.8v.8h-.8zM151.5 321.6h.8v.8h-.8zM136.8 323.9h.8v.8h-.8zM148.0 327.9h.8v.8h-.8zM146.6 338.3h.8v.8h-.8zM159.6 323.2h.8v.8h-.8zM138.0 337.8h.8v.8h-.8zM141.7 335.8h.8v.8h-.8zM162.8 324.3h.8v.8h-.8zM142.3 328.0h.8v.8h-.8zM135.7 321.7h.8v.8h-.8zM140.8 332.6h.8v.8h-.8zM140.3 326.3h.8v.8h-.8zM140.1 319.3h.8v.8h-.8zM161.5 313.5h.8v.8h-.8zM138.0 330.9h.8v.8h-.8zM129.9 331.1h.8v.8h-.8zM159.0 322.4h.8v.8h-.8zM147.5 320.9h.8v.8h-.8zM150.8 328.0h.8v.8h-.8zM147.6 335.7h.8v.8h-.8zM150.4 335.6h.8v.8h-.8zM152.2 320.3h.8v.8h-.8zM148.1 330.5h.8v.8h-.8zM129.3 335.5h.8v.8h-.8zM146.0 329.7h.8v.8h-.8zM135.4 328.0h.8v.8h-.8zM148.5 325.6h.8v.8h-.8zM146.1 314.8h.8v.8h-.8zM160.2 320.8h.8v.8h-.8zM136.0 330.8h.8v.8h-.8zM135.2 329.2h.8v.8h-.8zM134.7 340.8h.8v.8h-.8zM151.2 339.2h.8v.8h-.8zM134.0 331.5h.8v.8h-.8zM134.7 331.0h.8v.8h-.8zM152.7 317.9h.8v.8h-.8zM132.7 320.5h.8v.8h-.8zM128.6 323.1h.8v.8h-.8zM134.6 318.8h.8v.8h-.8zM146.2 330.8h.8v.8h-.8zM130.7 324.1h.8v.8h-.8zM145.2 326.1h.8v.8h-.8zM137.4 332.3h.8v.8h-.8zM154.5 331.6h.8v.8h-.8zM142.8 339.4h.8v.8h-.8zM164.3 325.1h.8v.8h-.8zM143.8 334.6h.8v.8h-.8zM136.3 329.9h.8v.8h-.8zM145.6 323.2h.8v.8h-.8zM142.6 318.0h.8v.8h-.8zM139.1 315.5h.8v.8h-.8zM170.2 336.5h.8v.8h-.8zM158.6 329.3h.8v.8h-.8zM156.1 335.1h.8v.8h-.8zM156.3 333.0h.8v.8h-.8zM135.0 330.0h.8v.8h-.8zM139.2 320.4h.8v.8h-.8zM132.5 330.0h.8v.8h-.8zM156.6 319.2h.8v.8h-.8zM164.3 336.2h.8v.8h-.8zM140.9 324.6h.8v.8h-.8zM144.2 333.3h.8v.8h-.8zM140.8 320.8h.8v.8h-.8zM148.8 315.0h.8v.8h-.8zM146.6 334.4h.8v.8h-.8zM148.4 332.1h.8v.8h-.8zM150.4 331.8h.8v.8h-.8zM146.6 322.4h.8v.8h-.8zM142.5 327.0h.8v.8h-.8zM158.8 337.2h.8v.8h-.8zM149.6 322.9h.8v.8h-.8zM137.0 326.3h.8v.8h-.8zM160.3 329.4h.8v.8h-.8zM144.4 322.8h.8v.8h-.8zM154.7 329.1h.8v.8h-.8zM144.4 328.0h.8v.8h-.8zM163.6 326.4h.8v.8h-.8zM163.6 334.9h.8v.8h-.8zM145.6 332.7h.8v.8h-.8zM143.6 322.4h.8v.8h-.8zM142.1 322.0h.8v.8h-.8zM150.6 327.5h.8v.8h-.8zM151.2 332.4h.8v.8h-.8zM135.3 328.0h.8v.8h-.8zM160.0 317.2h.8v.8h-.8zM147.1 326.9h.8v.8h-.8zM145.4 324.3h.8v.8h-.8zM137.1 346.7h.8v.8h-.8zM140.7 316.6h.8v.8h-.8zM134.8 325.2h.8v.8h-.8zM140.8 326.9h.8v.8h-.8zM133.5 330.6h.8v.8h-.8zM139.7 319.2h.8v.8h-.8zM136.0 325.1h.8v.8h-.8zM154.3 330.3h.8v.8h-.8zM141.3 327.5h.8v.8h-.8zM147.4 339.6h.8v.8h-.8zM138.2 330.2h.8v.8h-.8zM153.0 321.7h.8v.8h-.8zM147.1 328.4h.8v.8h-.8zM139.8 330.8h.8v.8h-.8zM156.3 334.2h.8v.8h-.8zM142.9 328.5h.8v.8h-.8zM170.9 320.8h.8v.8h-.8zM147.4 332.7h.8v.8h-.8zM146.7 331.3h.8v.8h-.8zM146.9 331.9h.8v.8h-.8zM159.1 326.1h.8v.8h-.8zM147.2 327.1h.8v.8h-.8zM140.6 327.3h.8v.8h-.8zM132.6 331.9h.8v.8h-.8zM163.7 337.6h.8v.8h-.8zM159.0 321.6h.8v.8h-.8zM161.7 323.1h.8v.8h-.8zM144.4 338.5h.8v.8h-.8zM133.2 332.4h.8v.8h-.8zM148.1 326.5h.8v.8h-.8zM135.4 329.9h.8v.8h-.8zM139.9 333.7h.8v.8h-.8zM158.5 319.1h.8v.8h-.8zM139.4 325.5h.8v.8h-.8zM132.0 320.7h.8v.8h-.8zM146.0 326.2h.8v.8h-.8zM150.7 320.2h.8v.8h-.8zM134.8 336.9h.8v.8h-.8zM159.5 317.7h.8v.8h-.8zM130.1 329.7h.8v.8h-.8zM131.9 325.9h.8v.8h-.8zM140.0 330.8h.8v.8h-.8zM131.5 333.5h.8v.8h-.8zM143.3 317.2h.8v.8h-.8zM150.4 331.6h.8v.8h-.8zM142.3 325.4h.8v.8h-.8zM149.8 334.7h.8v.8h-.8zM146.7 330.6h.8v.8h-.8zM144.5 325.1h.8v.8h-.8zM134.9 328.9h.8v.8h-.8zM141.7 325.9h.8v.8h-.8zM155.2 330.3h.8v.8h-.8zM154.6 317.9h.8v.8h-.8zM151.1 323.9h.8v.8h-.8zM136.1 322.3h.8v.8h-.8zM158.3 332.4h.8v.8h-.8zM137.1 320.6h.8v.8h-.8zM145.2 324.6h.8v.8h-.8zM163.3 318.6h.8v.8h-.8zM145.1 328.2h.8v.8h-.8zM153.3 339.8h.8v.8h-.8zM141.2 324.1h.8v.8h-.8zM154.4 325.8h.8v.8h-.8zM158.0 327.6h.8v.8h-.8zM161.7 329.4h.8v.8h-.8zM133.4 323.6h.8v.8h-.8zM128.1 317.0h.8v.8h-.8zM147.9 332.6h.8v.8h-.8zM166.5 327.1h.8v.8h-.8zM142.4 320.7h.8v.8h-.8zM155.9 329.7h.8v.8h-.8zM138.5 331.5h.8v.8h-.8zM151.2 316.2h.8v.8h-.8zM153.2 328.2h.8v.8h-.8zM140.7 324.9h.8v.8h-.8zM164.2 336.6h.8v.8h-.8zM165.1 320.5h.8v.8h-.8zM137.8 332.8h.8v.8h-.8zM131.7 323.1h.8v.8h-.8zM156.7 330.2h.8v.8h-.8zM147.4 324.9h.8v.8h-.8zM140.6 331.1h.8v.8h-.8zM137.2 334.8h.8v.8h-.8zM139.6 322.2h.8v.8h-.8zM159.3 326.5h.8v.8h-.8zM151.1 324.9h.8v.8h-.8zM130.2 333.9h.8v.8h-.8zM127.9 316.2h.8v.8h-.8zM148.4 330.0h.8v.8h-.8zM146.2 320.1h.8v.8h-.8zM154.8 318.6h.8v.8h-.8zM139.9 322.7h.8v.8h-.8zM140.8 332.5h.8v.8h-.8zM138.0 330.8h.8v.8h-.8zM152.6 317.1h.8v.8h-.8zM132.2 325.1h.8v.8h-.8zM138.5 329.2h.8v.8h-.8zM153.2 326.4h.8v.8h-.8zM129.8 327.4h.8v.8h-.8zM139.1 330.8h.8v.8h-.8zM144.1 331.8h.8v.8h-.8zM140.2 336.1h.8v.8h-.8zM150.4 318.3h.8v.8h-.8zM153.1 320.1h.8v.8h-.8zM146.0 321.9h.8v.8h-.8zM140.1 328.4h.8v.8h-.8zM143.8 325.1h.8v.8h-.8zM168.7 327.5h.8v.8h-.8zM134.3 333.0h.8v.8h-.8zM154.0 334.7h.8v.8h-.8zM164.7 321.8h.8v.8h-.8zM156.7 334.2h.8v.8h-.8zM145.0 328.9h.8v.8h-.8zM164.7 316.7h.8v.8h-.8zM139.1 329.1h.8v.8h-.8zM151.3 337.2h.8v.8h-.8zM154.5 319.5h.8v.8h-.8zM144.6 338.7h.8v.8h-.8zM159.5 330.6h.8v.8h-.8zM149.3 325.5h.8v.8h-.8zM144.3 345.9h.8v.8h-.8zM142.6 321.6h.8v.8h-.8zM147.7 325.5h.8v.8h-.8zM141.6 326.9h.8v.8h-.8zM153.5 328.8h.8v.8h-.8zM131.8 326.6h.8v.8h-.8zM150.2 324.6h.8v.8h-.8zM157.6 332.1h.8v.8h-.8zM134.1 329.3h.8v.8h-.8zM166.8 336.8h.8v.8h-.8zM144.4 332.8h.8v.8h-.8zM137.6 318.7h.8v.8h-.8zM151.1 328.9h.8v.8h-.8zM150.7 327.3h.8v.8h-.8zM148.6 324.3h.8v.8h-.8zM150.2 332.4h.8v.8h-.8zM144.4 332.3h.8v.8h-.8zM160.9 338.0h.8v.8h-.8zM147.8 326.8h.8v.8h-.8zM131.1 329.6h.8v.8h-.8zM153.6 318.5h.8v.8h-.8zM151.1 330.3h.8v.8h-.8zM149.8 320.6h.8v.8h-.8zM151.0 318.4h.8v.8h-.8zM161.4 328.2h.8v.8h-.8zM132.2 335.5h.8v.8h-.8zM157.7 323.5h.8v.8h-.8zM169.2 321.4h.8v.8h-.8zM148.4 334.5h.8v.8h-.8zM144.3 327.3h.8v.8h-.8zM133.2 329.4h.8v.8h-.8zM132.8 321.6h.8v.8h-.8zM140.1 320.0h.8v.8h-.8zM162.3 319.4h.8v.8h-.8zM136.7 325.5h.8v.8h-.8zM145.0 332.2h.8v.8h-.8zM154.0 325.6h.8v.8h-.8zM140.8 327.6h.8v.8h-.8zM154.0 331.6h.8v.8h-.8zM139.3 315.0h.8v.8h-.8zM168.6 333.1h.8v.8h-.8zM147.9 329.4h.8v.8h-.8zM139.3 321.4h.8v.8h-.8zM141.3 326.1h.8v.8h-.8zM138.1 318.7h.8v.8h-.8zM141.6 330.9h.8v.8h-.8zM139.6 327.5h.8v.8h-.8zM143.7 320.0h.8v.8h-.8zM136.1 330.3h.8v.8h-.8zM140.4 331.1h.8v.8h-.8zM141.3 318.4h.8v.8h-.8zM144.0 325.4h.8v.8h-.8zM152.2 324.7h.8v.8h-.8zM140.7 332.6h.8v.8h-.8zM157.8 332.0h.8v.8h-.8zM156.4 330.1h.8v.8h-.8zM153.5 332.7h.8v.8h-.8zM149.4 327.8h.8v.8h-.8zM146.6 341.8h.8v.8h-.8zM145.2 326.0h.8v.8h-.8zM141.0 327.2h.8v.8h-.8zM147.7 320.6h.8v.8h-.8zM127.3 329.0h.8v.8h-.8zM146.5 334.3h.8v.8h-.8zM163.4 329.6h.8v.8h-.8zM138.9 320.4h.8v.8h-.8zM136.3 327.6h.8v.8h-.8zM144.9 331.3h.8v.8h-.8zM141.3 328.0h.8v.8h-.8zM136.9 324.6h.8v.8h-.8zM162.0 328.4h.8v.8h-.8zM149.0 321.5h.8v.8h-.8zM160.7 322.8h.8v.8h-.8zM153.8 328.0h.8v.8h-.8zM134.4 333.6h.8v.8h-.8zM145.2 328.5h.8v.8h-.8zM150.0 327.3h.8v.8h-.8zM140.8 330.2h.8v.8h-.8zM140.5 327.8h.8v.8h-.8zM137.7 318.5h.8v.8h-.8zM137.6 324.4h.8v.8h-.8zM145.2 334.5h.8v.8h-.8zM139.4 313.9h.8v.8h-.8zM145.9 326.7h.8v.8h-.8zM136.2 340.3h.8v.8h-.8zM143.2 322.2h.8v.8h-.8zM163.5 331.1h.8v.8h-.8zM140.9 334.6h.8v.8h-.8zM146.7 331.3h.8v.8h-.8z" fill="#e00000" fill-opacity="0.45"/>
<path d="M143.3 342.9h.8v.8h-.8zM150.7 346.5h.8v.8h-.8zM130.9 343.7h.8v.8h-.8zM150.6 344.9h.8v.8h-.8zM141.5 348.0h.8v.8h-.8zM142.3 341.4h.8v.8h-.8zM147.4 348.8h.8v.8h-.8zM149.7 350.9h.8v.8h-.8zM144.6 348.3h.8v.8h-.8zM156.9 345.1h.8v.8h-.8zM158.4 351.2h.8v.8h-.8zM148.8 351.5h.8v.8h-.8zM149.5 343.4h.8v.8h-.8zM152.4 347.0h.8v.8h-.8zM145.1 346.5h.8v.8h-.8zM154.6 347.7h.8v.8h-.8zM134.0 347.5h.8v.8h-.8zM148.3 343.8h.8v.8h-.8zM136.7 344.9h.8v.8h-.8zM134.9 347.0h.8v.8h-.8zM151.2 351.7h.8v.8h-.8zM152.9 349.1h.8v.8h-.8zM152.4 350.0h.8v.8h-.8zM137.2 348.1h.8v.8h-.8zM144.2 345.6h.8v.8h-.8zM136.5 344.5h.8v.8h-.8zM138.3 342.3h.8v.8h-.8zM146.2 345.9h.8v.8h-.8zM142.1 347.0h.8v.8h-.8zM148.2 344.2h.8v.8h-.8zM139.9 341.2h.8v.8h-.8zM156.4 340.5h.8v.8h-.8zM145.7 350.4h.8v.8h-.8zM136.4 350.9h.8v.8h-.8zM159.5 348.8h.8v.8h-.8zM164.7 347.9h.8v.8h-.8zM133.7 347.6h.8v.8h-.8zM136.6 342.1h.8v.8h-.8zM128.3 352.9h.8v.8h-.8zM135.6 345.9h.8v.8h-.8zM134.4 346.4h.8v.8h-.8zM138.7 344.8h.8v.8h-.8zM129.0 341.8h.8v.8h-.8zM133.7 346.9h.8v.8h-.8zM161.9 349.2h.8v.8h-.8zM159.4 347.5h.8v.8h-.8zM140.3 342.1h.8v.8h-.8zM141.2 339.6h.8v.8h-.8zM138.2 350.9h.8v.8h-.8zM144.5 349.4h.8v.8h-.8zM137.4 341.9h.8v.8h-.8zM136.4 344.9h.8v.8h-.8zM153.3 352.0h.8v.8h-.8zM133.8 345.0h.8v.8h-.8zM139.8 345.0h.8v.8h-.8zM128.8 346.4h.8v.8h-.8zM144.9 347.2h.8v.8h-.8zM129.2 345.7h.8v.8h-.8zM131.1 345.3h.8v.8h-.8zM136.8 344.3h.8v.8h-.8zM130.7 340.8h.8v.8h-.8zM158.6 346.9h.8v.8h-.8zM143.9 352.4h.8v.8h-.8zM140.3 347.7h.8v.8h-.8zM141.5 349.7h.8v.8h-.8zM146.3 347.0h.8v.8h-.8zM138.8 346.9h.8v.8h-.8zM153.0 339.9h.8v.8h-.8zM140.0 344.8h.8v.8h-.8zM138.3 340.2h.8v.8h-.8zM148.6 343.6h.8v.8h-.8zM139.1 344.6h.8v.8h-.8zM138.2 346.1h.8v.8h-.8zM141.9 345.7h.8v.8h-.8zM162.7 347.4h.8v.8h-.8zM129.1 344.3h.8v.8h-.8zM134.8 345.6h.8v.8h-.8zM135.3 343.5h.8v.8h-.8zM157.8 346.2h.8v.8h-.8zM138.0 345.3h.8v.8h-.8zM139.2 350.3h.8v.8h-.8zM146.1 349.5h.8v.8h-.8zM151.9 352.0h.8v.8h-.8zM141.6 341.0h.8v.8h-.8zM147.2 344.3h.8v.8h-.8zM151.9 349.7h.8v.8h-.8zM148.6 343.0h.8v.8h-.8zM166.5 342.6h.8v.8h-.8zM140.6 341.8h.8v.8h-.8zM154.5 347.4h.8v.8h-.8zM150.3 346.4h.8v.8h-.8zM140.7 346.6h.8v.8h-.8zM150.5 344.9h.8v.8h-.8zM141.3 347.0h.8v.8h-.8zM157.1 347.4h.8v.8h-.8zM141.8 344.6h.8v.8h-.8zM142.1 345.4h.8v.8h-.8zM142.2 348.4h.8v.8h-.8zM145.8 347.0h.8v.8h-.8zM148.0 346.7h.8v.8h-.8zM141.1 347.5h.8v.8h-.8zM128.6 348.7h.8v.8h-.8zM141.6 349.5h.8v.8h-.8zM141.8 343.3h.8v.8h-.8zM152.2 346.7h.8v.8h-.8zM142.7 346.4h.8v.8h-.8zM151.5 348.6h.8v.8h-.8zM143.8 341.5h.8v.8h-.8zM137.5 346.5h.8v.8h-.8zM159.5 347.3h.8v.8h-.8zM140.6 349.7h.8v.8h-.8zM140.4 346.1h.8v.8h-.8zM143.1 341.7h.8v.8h-.8zM151.1 347.4h.8v.8h-.8zM138.7 342.7h.8v.8h-.8zM143.7 350.4h.8v.8h-.8zM135.1 343.0h.8v.8h-.8zM145.8 341.4h.8v.8h-.8zM134.7 345.3h.8v.8h-.8zM136.0 347.2h.8v.8h-.8zM139.4 344.4h.8v.8h-.8zM137.0 348.1h.8v.8h-.8zM151.2 348.9h.8v.8h-.8zM148.5 336.3h.8v.8h-.8zM131.6 345.2h.8v.8h-.8zM143.6 341.3h.8v.8h-.8zM155.8 347.1h.8v.8h-.8zM135.4 346.7h.8v.8h-.8zM138.1 343.9h.8v.8h-.8zM146.7 344.8h.8v.8h-.8zM127.5 344.3h.8v.8h-.8zM140.5 342.9h.8v.8h-.8zM154.2 342.9h.8v.8h-.8zM159.2 348.9h.8v.8h-.8zM132.2 346.6h.8v.8h-.8zM153.4 345.6h.8v.8h-.8zM129.7 346.5h.8v.8h-.8zM161.5 341.7h.8v.8h-.8zM147.2 346.2h.8v.8h-.8zM140.5 345.0h.8v.8h-.8zM138.5 349.3h.8v.8h-.8zM147.6 343.2h.8v.8h-.8zM157.3 342.3h.8v.8h-.8zM148.3 346.8h.8v.8h-.8zM153.7 347.3h.8v.8h-.8zM152.3 346.1h.8v.8h-.8zM151.4 347.2h.8v.8h-.8zM163.2 344.1h.8v.8h-.8zM153.7 347.6h.8v.8h-.8zM143.5 344.5h.8v.8h-.8zM146.2 341.8h.8v.8h-.8zM128.0 348.4h.8v.8h-.8zM139.0 347.0h.8v.8h-.8zM142.5 347.5h.8v.8h-.8zM139.0 345.1h.8v.8h-.8zM140.5 349.4h.8v.8h-.8zM153.1 350.0h.8v.8h-.8zM145.4 345.6h.8v.8h-.8zM150.2 345.0h.8v.8h-.8zM149.8 350.1h.8v.8h-.8zM142.7 349.4h.8v.8h-.8zM144.8 341.0h.8v.8h-.8zM137.0 345.0h.8v.8h-.8zM147.1 343.6h.8v.8h-.8zM137.4 343.3h.8v.8h-.8zM141.4 346.4h.8v.8h-.8zM151.5 348.6h.8v.8h-.8zM143.4 347.0h.8v.8h-.8zM142.9 346.6h.8v.8h-.8zM157.2 338.8h.8v.8h-.8zM140.0 347.2h.8v.8h-.8zM153.1 342.9h.8v.8h-.8zM145.2 348.8h.8v.8h-.8zM137.3 340.5h.8v.8h-.8zM138.2 342.6h.8v.8h-.8zM148.3 343.7h.8v.8h-.8zM159.6 346.7h.8v.8h-.8zM133.7 344.7h.8v.8h-.8zM130.8 347.4h.8v.8h-.8zM156.7 345.6h.8v.8h-.8zM151.0 343.4h.8v.8h-.8zM144.9 353.1h.8v.8h-.8zM127.7 349.9h.8v.8h-.8zM153.5 340.6h.8v.8h-.8zM127.4 343.3h.8v.8h-.8zM151.5 344.9h.8v.8h-.8zM140.1 348.4h.8v.8h-.8zM142.9 346.9h.8v.8h-.8zM138.6 349.6h.8v.8h-.8zM134.0 351.3h.8v.8h-.8zM138.4 343.8h.8v.8h-.8zM148.2 347.6h.8v.8h-.8zM128.3 343.7h.8v.8h-.8zM149.6 343.6h.8v.8h-.8zM145.3 345.1h.8v.8h-.8zM161.1 345.9h.8v.8h-.8zM130.0 342.9h.8v.8h-.8zM132.7 346.6h.8v.8h-.8zM141.7 349.1h.8v.8h-.8zM143.4 346.6h.8v.8h-.8zM144.9 345.8h.8v.8h-.8zM144.6 348.6h.8v.8h-.8zM149.5 344.6h.8v.8h-.8zM144.5 338.7h.8v.8h-.8zM136.9 347.5h.8v.8h-.8zM136.0 342.8h.8v.8h-.8zM159.2 350.3h.8v.8h-.8zM139.0 350.2h.8v.8h-.8zM154.6 342.8h.8v.8h-.8zM168.4 343.4h.8v.8h-.8zM139.0 342.9h.8v.8h-.8zM142.4 342.2h.8v.8h-.8zM141.5 349.4h.8v.8h-.8zM143.7 345.4h.8v.8h-.8zM157.0 343.5h.8v.8h-.8zM151.2 345.3h.8v.8h-.8zM143.7 346.3h.8v.8h-.8zM142.8 346.0h.8v.8h-.8zM133.7 344.4h.8v.8h-.8zM145.9 345.8h.8v.8h-.8zM129.9 344.0h.8v.8h-.8zM134.5 346.0h.8v.8h-.8zM143.2 346.4h.8v.8h-.8zM134.9 346.2h.8v.8h-.8zM127.7 337.5h.8v.8h-.8zM140.9 341.2h.8v.8h-.8zM131.9 342.5h.8v.8h-.8zM147.7 342.5h.8v.8h-.8zM144.1 344.6h.8v.8h-.8zM129.0 341.4h.8v.8h-.8zM145.9 347.2h.8v.8h-.8zM149.0 351.6h.8v.8h-.8zM144.0 346.9h.8v.8h-.8zM140.0 346.4h.8v.8h-.8zM137.7 343.4h.8v.8h-.8zM161.1 340.5h.8v.8h-.8zM143.7 347.4h.8v.8h-.8zM142.7 343.2h.8v.8h-.8zM139.2 344.7h.8v.8h-.8zM130.4 345.9h.8v.8h-.8zM137.0 344.4h.8v.8h-.8zM147.9 342.8h.8v.8h-.8zM145.5 344.2h.8v.8h-.8zM145.3 346.2h.8v.8h-.8zM143.4 343.1h.8v.8h-.8zM133.3 343.4h.8v.8h-.8z" fill="#e00000" fill-opacity="0.5"/>
<path d="M183.4 347.7h.8v.8h-.8zM201.5 345.7h.8v.8h-.8zM181.6 343.9h.8v.8h-.8zM135.6 345.1h.8v.8h-.8zM166.6 344.0h.8v.8h-.8zM144.3 347.3h.8v.8h-.8zM163.8 343.8h.8v.8h-.8zM173.4 347.6h.8v.8h-.8zM164.5 349.0h.8v.8h-.8zM148.9 344.4h.8v.8h-.8zM176.9 345.2h.8v.8h-.8zM165.0 346.8h.8v.8h-.8zM190.7 348.1h.8v.8h-.8zM186.3 350.0h.8v.8h-.8zM170.0 346.7h.8v.8h-.8zM196.5 345.9h.8v.8h-.8zM173.5 345.7h.8v.8h-.8zM166.5 344.6h.8v.8h-.8zM168.2 344.0h.8v.8h-.8zM186.8 343.9h.8v.8h-.8zM201.2 346.1h.8v.8h-.8zM167.5 348.4h.8v.8h-.8zM182.8 347.3h.8v.8h-.8zM164.8 348.1h.8v.8h-.8zM163.2 346.6h.8v.8h-.8zM144.6 345.4h.8v.8h-.8zM189.0 345.7h.8v.8h-.8zM170.1 347.7h.8v.8h-.8zM177.6 348.4h.8v.8h-.8zM130.9 347.3h.8v.8h-.8zM189.1 344.0h.8v.8h-.8zM153.1 347.8h.8v.8h-.8zM157.7 345.4h.8v.8h-.8zM190.9 345.9h.8v.8h-.8zM188.5 345.0h.8v.8h-.8zM184.9 348.1h.8v.8h-.8zM185.4 342.9h.8v.8h-.8zM191.9 346.5h.8v.8h-.8zM160.9 348.6h.8v.8h-.8zM144.2 349.4h.8v.8h-.8zM166.3 348.9h.8v.8h-.8zM178.0 344.3h.8v.8h-.8zM180.8 346.9h.8v.8h-.8zM189.7 348.1h.8v.8h-.8zM161.1 347.2h.8v.8h-.8zM193.6 346.0h.8v.8h-.8zM160.3 344.9h.8v.8h-.8zM193.8 347.7h.8v.8h-.8zM162.4 344.3h.8v.8h-.8zM203.6 343.9h.8v.8h-.8zM182.1 345.1h.8v.8h-.8zM143.9 346.6h.8v.8h-.8zM175.1 348.7h.8v.8h-.8zM199.3 348.1h.8v.8h-.8zM168.5 345.0h.8v.8h-.8zM178.4 345.9h.8v.8h-.8zM176.2 345.4h.8v.8h-.8zM193.8 348.4h.8v.8h-.8zM171.5 344.2h.8v.8h-.8zM179.9 344.0h.8v.8h-.8zM166.1 348.4h.8v.8h-.8zM157.7 347.7h.8v.8h-.8zM134.2 345.3h.8v.8h-.8zM151.4 343.8h.8v.8h-.8zM195.9 346.3h.8v.8h-.8zM167.1 347.1h.8v.8h-.8zM167.5 343.4h.8v.8h-.8zM195.0 345.4h.8v.8h-.8zM158.9 344.3h.8v.8h-.8zM183.9 345.1h.8v.8h-.8zM191.3 346.0h.8v.8h-.8zM200.4 345.8h.8v.8h-.8zM165.9 343.3h.8v.8h-.8zM157.0 347.6h.8v.8h-.8zM158.2 346.9h.8v.8h-.8zM188.4 345.3h.8v.8h-.8zM180.5 343.9h.8v.8h-.8zM173.0 347.8h.8v.8h-.8zM173.7 347.1h.8v.8h-.8zM200.9 347.2h.8v.8h-.8zM164.0 347.0h.8v.8h-.8zM198.2 345.3h.8v.8h-.8zM152.3 347.2h.8v.8h-.8zM186.2 348.0h.8v.8h-.8zM180.7 345.4h.8v.8h-.8zM170.2 344.8h.8v.8h-.8zM160.1 345.5h.8v.8h-.8zM169.3 348.2h.8v.8h-.8zM154.5 346.3h.8v.8h-.8zM167.2 348.8h.8v.8h-.8zM184.2 345.8h.8v.8h-.8zM195.2 346.5h.8v.8h-.8zM169.5 348.9h.8v.8h-.8zM193.2 349.2h.8v.8h-.8zM202.0 347.7h.8v.8h-.8zM181.7 344.7h.8v.8h-.8zM193.2 346.5h.8v.8h-.8zM192.5 346.4h.8v.8h-.8zM165.4 344.8h.8v.8h-.8zM193.0 348.5h.8v.8h-.8zM173.4 347.2h.8v.8h-.8zM206.6 345.1h.8v.8h-.8zM172.4 344.7h.8v.8h-.8zM202.6 346.8h.8v.8h-.8zM170.0 343.8h.8v.8h-.8zM175.6 348.0h.8v.8h-.8zM173.3 345.8h.8v.8h-.8zM191.9 344.5h.8v.8h-.8zM180.2 347.4h.8v.8h-.8zM163.7 345.1h.8v.8h-.8zM184.1 346.3h.8v.8h-.8zM174.5 346.8h.8v.8h-.8zM183.6 345.0h.8v.8h-.8zM166.0 347.2h.8v.8h-.8zM201.5 348.6h.8v.8h-.8zM162.4 348.2h.8v.8h-.8zM194.3 346.4h.8v.8h-.8zM189.0 347.8h.8v.8h-.8zM191.2 346.2h.8v.8h-.8zM175.2 348.3h.8v.8h-.8zM195.6 344.8h.8v.8h-.8zM173.7 346.8h.8v.8h-.8zM151.3 347.8h.8v.8h-.8zM177.9 346.7h.8v.8h-.8zM186.0 349.3h.8v.8h-.8zM180.1 345.9h.8v.8h-.8zM169.0 344.3h.8v.8h-.8zM200.8 346.9h.8v.8h-.8zM188.7 346.7h.8v.8h-.8zM176.7 345.2h.8v.8h-.8zM163.9 347.1h.8v.8h-.8zM181.9 349.0h.8v.8h-.8zM164.4 345.7h.8v.8h-.8zM159.2 348.6h.8v.8h-.8zM155.0 347.7h.8v.8h-.8zM193.8 343.1h.8v.8h-.8zM171.8 343.8h.8v.8h-.8zM182.8 346.5h.8v.8h-.8zM164.2 348.0h.8v.8h-.8zM186.5 345.6h.8v.8h-.8zM169.3 344.1h.8v.8h-.8zM175.8 349.8h.8v.8h-.8zM165.4 347.1h.8v.8h-.8zM168.6 347.7h.8v.8h-.8zM188.2 346.1h.8v.8h-.8zM144.2 345.6h.8v.8h-.8zM203.2 346.1h.8v.8h-.8zM191.9 345.7h.8v.8h-.8zM142.6 347.1h.8v.8h-.8zM185.8 345.5h.8v.8h-.8zM172.2 346.9h.8v.8h-.8zM167.8 347.0h.8v.8h-.8zM175.5 342.7h.8v.8h-.8zM176.7 345.5h.8v.8h-.8zM163.0 347.1h.8v.8h-.8zM169.9 347.3h.8v.8h-.8zM201.1 346.7h.8v.8h-.8zM148.9 345.3h.8v.8h-.8zM197.6 346.1h.8v.8h-.8zM163.6 346.3h.8v.8h-.8zM189.5 346.9h.8v.8h-.8zM192.3 345.2h.8v.8h-.8zM174.1 346.1h.8v.8h-.8zM179.1 343.2h.8v.8h-.8zM174.9 344.3h.8v.8h-.8zM207.1 348.9h.8v.8h-.8zM170.0 348.0h.8v.8h-.8zM175.6 347.4h.8v.8h-.8zM161.8 345.5h.8v.8h-.8zM188.8 349.3h.8v.8h-.8zM179.1 350.0h.8v.8h-.8zM179.1 345.0h.8v.8h-.8zM176.9 345.6h.8v.8h-.8zM178.3 348.0h.8v.8h-.8zM198.2 346.9h.8v.8h-.8zM179.7 346.7h.8v.8h-.8zM182.2 347.4h.8v.8h-.8zM179.8 347.3h.8v.8h-.8zM153.8 347.7h.8v.8h-.8zM151.7 348.6h.8v.8h-.8zM173.2 341.7h.8v.8h-.8zM175.4 347.4h.8v.8h-.8zM187.3 348.4h.8v.8h-.8zM192.0 346.7h.8v.8h-.8zM140.6 344.7h.8v.8h-.8zM183.3 347.6h.8v.8h-.8zM159.4 345.5h.8v.8h-.8zM189.0 343.5h.8v.8h-.8zM141.2 346.1h.8v.8h-.8zM184.7 345.7h.8v.8h-.8zM134.4 346.5h.8v.8h-.8zM153.5 347.5h.8v.8h-.8zM177.7 346.9h.8v.8h-.8zM192.4 345.6h.8v.8h-.8zM196.1 348.4h.8v.8h-.8zM187.6 348.6h.8v.8h-.8zM167.4 347.9h.8v.8h-.8zM185.1 344.9h.8v.8h-.8zM178.2 345.6h.8v.8h-.8zM168.8 346.6h.8v.8h-.8zM200.8 346.0h.8v.8h-.8zM182.2 344.2h.8v.8h-.8zM181.9 348.3h.8v.8h-.8zM195.8 347.2h.8v.8h-.8zM169.3 344.9h.8v.8h-.8zM177.9 344.4h.8v.8h-.8zM155.3 348.0h.8v.8h-.8zM161.6 349.3h.8v.8h-.8zM151.5 347.2h.8v.8h-.8zM156.6 346.8h.8v.8h-.8zM159.2 346.5h.8v.8h-.8zM176.7 345.8h.8v.8h-.8zM189.9 348.9h.8v.8h-.8zM168.1 347.9h.8v.8h-.8zM181.4 346.4h.8v.8h-.8zM166.3 343.6h.8v.8h-.8zM173.6 346.1h.8v.8h-.8zM171.0 347.2h.8v.8h-.8zM183.9 347.3h.8v.8h-.8zM150.0 345.2h.8v.8h-.8zM186.4 347.3h.8v.8h-.8zM161.6 346.0h.8v.8h-.8zM177.3 346.2h.8v.8h-.8zM193.5 346.6h.8v.8h-.8zM183.0 344.2h.8v.8h-.8zM158.9 347.0h.8v.8h-.8zM148.1 346.9h.8v.8h-.8zM166.6 345.2h.8v.8h-.8zM192.6 345.4h.8v.8h-.8zM162.7 345.4h.8v.8h-.8zM180.8 350.8h.8v.8h-.8zM137.6 346.4h.8v.8h-.8zM174.9 348.0h.8v.8h-.8zM172.3 342.5h.8v.8h-.8zM205.9 344.7h.8v.8h-.8zM178.4 344.3h.8v.8h-.8zM157.8 345.7h.8v.8h-.8zM196.6 347.8h.8v.8h-.8zM167.7 347.3h.8v.8h-.8zM172.1 346.6h.8v.8h-.8zM182.6 347.4h.8v.8h-.8zM167.3 346.3h.8v.8h-.8zM183.8 346.6h.8v.8h-.8zM163.6 349.2h.8v.8h-.8zM170.3 347.7h.8v.8h-.8zM183.5 348.4h.8v.8h-.8zM136.1 349.7h.8v.8h-.8zM175.2 344.5h.8v.8h-.8zM182.0 350.0h.8v.8h-.8zM189.5 344.5h.8v.8h-.8zM170.2 348.6h.8v.8h-.8zM151.5 346.2h.8v.8h-.8zM173.6 349.9h.8v.8h-.8zM173.6 348.5h.8v.8h-.8zM165.9 345.2h.8v.8h-.8zM199.4 347.4h.8v.8h-.8zM145.1 347.5h.8v.8h-.8zM192.2 345.5h.8v.8h-.8zM183.8 346.9h.8v.8h-.8zM169.7 345.5h.8v.8h-.8zM166.0 346.0h.8v.8h-.8z" fill="#e00000" fill-opacity="0.4"/>
<path d="M161.1 324.6h.8v.8h-.8zM158.8 325.3h.8v.8h-.8zM178.4 318.6h.8v.8h-.8zM191.4 336.3h.8v.8h-.8zM198.0 316.7h.8v.8h-.8zM197.2 326.1h.8v.8h-.8zM178.8 321.3h.8v.8h-.8zM179.4 333.1h.8v.8h-.8zM187.1 322.3h.8v.8h-.8zM170.2 322.3h.8v.8h-.8zM187.7 335.9h.8v.8h-.8zM164.8 324.8h.8v.8h-.8zM174.2 320.3h.8v.8h-.8zM185.1 328.1h.8v.8h-.8zM159.8 318.6h.8v.8h-.8z" fill="#e00000" fill-opacity="0.35"/>
</g></g>
<rect x="127.30" y="308.20" width="80.3" height="66.8" fill="none" stroke="#7a7a7a" stroke-width="0.9"/>
<line x1="169.60" y1="308.20" x2="169.60" y2="375.00" stroke="#7a7a7a" stroke-width="0.9"/>
<line x1="127.30" y1="339.40" x2="207.60" y2="339.40" stroke="#7a7a7a" stroke-width="0.9"/>
<text x="166.80" y="303.00" font-size="7.6" text-anchor="middle" fill="#111" stroke="#111" stroke-width="0.1" textLength="32.4" lengthAdjust="spacingAndGlyphs" >venetoclax</text>
<text x="131.90" y="316.00" font-size="5.9" text-anchor="start" fill="#111" stroke="#111" stroke-width="0.3" font-weight="bold" >42,746</text>
<path d="M128.46 375.00v1.3M127.30 374.28h-1.3M130.93 375.00v1.3M127.30 372.19h-1.3M132.85 375.00v1.3M127.30 370.56h-1.3M134.41 375.00v1.3M127.30 369.23h-1.3M135.74 375.00v1.3M127.30 368.10h-1.3M136.88 375.00v1.3M127.30 367.13h-1.3M137.90 375.00v1.3M127.30 366.27h-1.3M138.80 375.00v1.8M127.30 365.50h-1.8M144.75 375.00v1.3M127.30 360.44h-1.3M148.23 375.00v1.3M127.30 357.48h-1.3M150.70 375.00v1.3M127.30 355.39h-1.3M152.62 375.00v1.3M127.30 353.76h-1.3M154.18 375.00v1.3M127.30 352.43h-1.3M155.51 375.00v1.3M127.30 351.30h-1.3M156.65 375.00v1.3M127.30 350.33h-1.3M157.67 375.00v1.3M127.30 349.47h-1.3M158.57 375.00v1.8M127.30 348.70h-1.8M164.52 375.00v1.3M127.30 343.64h-1.3M168.00 375.00v1.3M127.30 340.68h-1.3M170.47 375.00v1.3M127.30 338.59h-1.3M172.39 375.00v1.3M127.30 336.96h-1.3M173.95 375.00v1.3M127.30 335.63h-1.3M175.28 375.00v1.3M127.30 334.50h-1.3M176.42 375.00v1.3M127.30 333.53h-1.3M177.44 375.00v1.3M127.30 332.67h-1.3M178.34 375.00v1.8M127.30 331.90h-1.8M184.29 375.00v1.3M127.30 326.84h-1.3M187.77 375.00v1.3M127.30 323.88h-1.3M190.24 375.00v1.3M127.30 321.79h-1.3M192.16 375.00v1.3M127.30 320.16h-1.3M193.72 375.00v1.3M127.30 318.83h-1.3M195.05 375.00v1.3M127.30 317.70h-1.3M196.19 375.00v1.3M127.30 316.73h-1.3M197.21 375.00v1.3M127.30 315.87h-1.3M198.11 375.00v1.8M127.30 315.10h-1.8M204.06 375.00v1.3M127.30 310.04h-1.3" stroke="#666" stroke-width="0.7" fill="none"/>
<text x="121.00" y="317.30" font-size="6.2" text-anchor="end" fill="#222" stroke="#222" stroke-width="0.12" textLength="6.6" lengthAdjust="spacingAndGlyphs" >10</text>
<text x="121.20" y="314.50" font-size="4.4" text-anchor="start" fill="#222" stroke="#222" stroke-width="0.05" >5</text>
<text x="121.00" y="334.10" font-size="6.2" text-anchor="end" fill="#222" stroke="#222" stroke-width="0.12" textLength="6.6" lengthAdjust="spacingAndGlyphs" >10</text>
<text x="121.20" y="331.30" font-size="4.4" text-anchor="start" fill="#222" stroke="#222" stroke-width="0.05" >4</text>
<text x="121.00" y="350.90" font-size="6.2" text-anchor="end" fill="#222" stroke="#222" stroke-width="0.12" textLength="6.6" lengthAdjust="spacingAndGlyphs" >10</text>
<text x="121.20" y="348.10" font-size="4.4" text-anchor="start" fill="#222" stroke="#222" stroke-width="0.05" >3</text>
<text x="121.00" y="367.70" font-size="6.2" text-anchor="end" fill="#222" stroke="#222" stroke-width="0.12" textLength="6.6" lengthAdjust="spacingAndGlyphs" >10</text>
<text x="121.20" y="364.90" font-size="4.4" text-anchor="start" fill="#222" stroke="#222" stroke-width="0.05" >2</text>
<text x="140.80" y="385.10" font-size="6.2" text-anchor="end" fill="#222" stroke="#222" stroke-width="0.12" textLength="6.6" lengthAdjust="spacingAndGlyphs" >10</text>
<text x="141.00" y="382.30" font-size="4.4" text-anchor="start" fill="#222" stroke="#222" stroke-width="0.05" >2</text>
<text x="160.57" y="385.10" font-size="6.2" text-anchor="end" fill="#222" stroke="#222" stroke-width="0.12" textLength="6.6" lengthAdjust="spacingAndGlyphs" >10</text>
<text x="160.77" y="382.30" font-size="4.4" text-anchor="start" fill="#222" stroke="#222" stroke-width="0.05" >3</text>
<text x="180.34" y="385.10" font-size="6.2" text-anchor="end" fill="#222" stroke="#222" stroke-width="0.12" textLength="6.6" lengthAdjust="spacingAndGlyphs" >10</text>
<text x="180.54" y="382.30" font-size="4.4" text-anchor="start" fill="#222" stroke="#222" stroke-width="0.05" >4</text>
<text x="200.11" y="385.10" font-size="6.2" text-anchor="end" fill="#222" stroke="#222" stroke-width="0.12" textLength="6.6" lengthAdjust="spacingAndGlyphs" >10</text>
<text x="200.31" y="382.30" font-size="4.4" text-anchor="start" fill="#222" stroke="#222" stroke-width="0.05" >5</text>
<clipPath id="c5"><rect x="223.50" y="308.40" width="80.3" height="66.8"/></clipPath>
<g clip-path="url(#c5)"><g filter="url(#sm)">
<g filter="url(#gr)">
<ellipse cx="247" cy="327" rx="21.60" ry="11.20" fill="#000" fill-opacity="0.3" filter="url(#bl2)"/>
<ellipse cx="236" cy="327.5" rx="12.96" ry="8.96" fill="#000" fill-opacity="0.4" filter="url(#bl2)"/>
<ellipse cx="251" cy="325.8" rx="13.50" ry="7.62" fill="#000" fill-opacity="1.0" filter="url(#bl)"/>
<ellipse cx="250" cy="346" rx="14.04" ry="2.91" fill="#000" fill-opacity="0.5" filter="url(#bl)"/>
<ellipse cx="296.5" cy="346" rx="3.78" ry="2.24" fill="#000" fill-opacity="0.7" filter="url(#bl)"/>
<ellipse cx="280" cy="346.3" rx="28.08" ry="2.46" fill="#000" fill-opacity="0.18" filter="url(#bl2)"/>
</g>
<ellipse cx="251" cy="325.8" rx="10.62" ry="5.44" fill="#e00000" fill-opacity="1.0" filter="url(#bl)"/>
<ellipse cx="296.5" cy="346" rx="2.98" ry="1.60" fill="#e00000" fill-opacity="0.7" filter="url(#bl)"/>
<path d="M262.0 328.8h.8v.8h-.8zM253.3 323.5h.8v.8h-.8zM241.7 329.7h.8v.8h-.8zM240.1 319.6h.8v.8h-.8zM246.6 332.6h.8v.8h-.8zM233.3 333.6h.8v.8h-.8zM255.6 321.2h.8v.8h-.8zM246.6 326.5h.8v.8h-.8zM254.7 331.1h.8v.8h-.8zM229.8 318.1h.8v.8h-.8zM259.8 327.5h.8v.8h-.8zM251.9 328.9h.8v.8h-.8zM266.3 319.0h.8v.8h-.8zM260.6 321.5h.8v.8h-.8zM255.9 335.4h.8v.8h-.8zM228.8 329.4h.8v.8h-.8zM243.0 324.9h.8v.8h-.8zM247.1 320.0h.8v.8h-.8zM234.2 331.0h.8v.8h-.8zM257.4 323.1h.8v.8h-.8zM227.8 341.7h.8v.8h-.8zM260.7 329.1h.8v.8h-.8zM233.3 323.0h.8v.8h-.8zM249.7 320.6h.8v.8h-.8zM267.1 327.7h.8v.8h-.8zM251.6 320.2h.8v.8h-.8zM234.9 321.7h.8v.8h-.8zM250.1 325.1h.8v.8h-.8zM242.8 328.8h.8v.8h-.8zM249.4 336.3h.8v.8h-.8zM244.0 320.3h.8v.8h-.8zM246.4 336.2h.8v.8h-.8zM239.5 327.1h.8v.8h-.8zM242.0 329.4h.8v.8h-.8zM249.8 321.6h.8v.8h-.8zM243.6 332.8h.8v.8h-.8zM260.6 332.7h.8v.8h-.8zM257.6 324.7h.8v.8h-.8zM241.9 332.7h.8v.8h-.8zM231.6 326.4h.8v.8h-.8zM237.5 319.1h.8v.8h-.8zM254.0 322.1h.8v.8h-.8zM241.9 325.1h.8v.8h-.8zM237.2 335.9h.8v.8h-.8zM240.3 328.0h.8v.8h-.8zM229.9 323.8h.8v.8h-.8zM242.4 324.8h.8v.8h-.8zM239.1 327.7h.8v.8h-.8zM266.5 325.9h.8v.8h-.8zM244.8 324.3h.8v.8h-.8zM279.0 337.1h.8v.8h-.8zM253.7 331.3h.8v.8h-.8zM237.5 325.8h.8v.8h-.8zM249.3 327.6h.8v.8h-.8zM235.7 321.8h.8v.8h-.8zM253.2 328.8h.8v.8h-.8zM262.8 322.7h.8v.8h-.8zM249.7 317.5h.8v.8h-.8zM257.2 319.7h.8v.8h-.8zM230.6 324.8h.8v.8h-.8zM276.8 322.9h.8v.8h-.8zM230.5 329.7h.8v.8h-.8zM249.5 337.4h.8v.8h-.8zM230.4 316.6h.8v.8h-.8zM242.6 329.2h.8v.8h-.8zM251.2 333.7h.8v.8h-.8zM227.6 321.5h.8v.8h-.8zM244.9 332.2h.8v.8h-.8zM252.7 324.1h.8v.8h-.8zM233.6 332.4h.8v.8h-.8zM258.7 344.1h.8v.8h-.8zM244.3 337.2h.8v.8h-.8zM231.2 323.3h.8v.8h-.8zM238.0 323.9h.8v.8h-.8zM235.4 323.3h.8v.8h-.8zM245.9 323.9h.8v.8h-.8zM255.0 326.3h.8v.8h-.8zM246.6 336.2h.8v.8h-.8zM250.6 327.8h.8v.8h-.8zM246.4 327.2h.8v.8h-.8zM253.9 321.7h.8v.8h-.8zM261.2 336.8h.8v.8h-.8zM261.3 323.7h.8v.8h-.8zM226.3 324.0h.8v.8h-.8zM248.6 332.1h.8v.8h-.8zM244.3 324.9h.8v.8h-.8zM266.0 322.5h.8v.8h-.8zM260.2 332.6h.8v.8h-.8zM229.7 328.6h.8v.8h-.8zM239.5 320.8h.8v.8h-.8zM251.9 324.3h.8v.8h-.8zM250.1 320.0h.8v.8h-.8zM242.5 325.1h.8v.8h-.8zM226.9 316.2h.8v.8h-.8zM252.2 327.7h.8v.8h-.8zM234.7 326.2h.8v.8h-.8zM255.1 338.5h.8v.8h-.8zM235.3 330.7h.8v.8h-.8zM273.6 327.2h.8v.8h-.8zM265.3 310.3h.8v.8h-.8zM265.1 326.7h.8v.8h-.8zM260.0 334.5h.8v.8h-.8zM261.9 326.6h.8v.8h-.8zM237.1 323.9h.8v.8h-.8zM246.2 329.4h.8v.8h-.8zM240.5 327.1h.8v.8h-.8zM257.8 328.9h.8v.8h-.8zM275.9 340.6h.8v.8h-.8zM232.0 323.2h.8v.8h-.8zM229.9 319.4h.8v.8h-.8zM253.6 320.5h.8v.8h-.8zM233.3 325.1h.8v.8h-.8zM256.8 324.5h.8v.8h-.8zM242.1 332.7h.8v.8h-.8zM252.6 329.7h.8v.8h-.8zM258.7 320.4h.8v.8h-.8zM249.4 322.8h.8v.8h-.8zM259.7 332.0h.8v.8h-.8zM233.3 335.4h.8v.8h-.8zM231.7 334.3h.8v.8h-.8zM249.2 321.2h.8v.8h-.8zM232.3 324.9h.8v.8h-.8zM246.3 322.3h.8v.8h-.8zM253.8 317.9h.8v.8h-.8zM246.5 326.8h.8v.8h-.8zM230.5 310.8h.8v.8h-.8zM238.8 325.3h.8v.8h-.8zM258.2 323.7h.8v.8h-.8zM265.5 336.0h.8v.8h-.8zM260.6 335.3h.8v.8h-.8zM251.1 323.2h.8v.8h-.8zM254.9 333.0h.8v.8h-.8zM249.7 325.2h.8v.8h-.8zM226.5 331.1h.8v.8h-.8zM251.1 318.5h.8v.8h-.8zM247.9 331.4h.8v.8h-.8zM245.2 331.8h.8v.8h-.8zM256.3 317.3h.8v.8h-.8zM242.7 329.9h.8v.8h-.8zM258.4 335.8h.8v.8h-.8zM255.8 334.7h.8v.8h-.8zM268.3 320.8h.8v.8h-.8zM241.8 320.0h.8v.8h-.8zM257.1 318.3h.8v.8h-.8zM261.8 332.8h.8v.8h-.8zM252.9 312.9h.8v.8h-.8zM237.9 331.6h.8v.8h-.8zM228.4 325.3h.8v.8h-.8zM245.3 332.5h.8v.8h-.8zM250.2 328.6h.8v.8h-.8zM240.9 326.8h.8v.8h-.8zM244.9 331.5h.8v.8h-.8zM244.3 333.4h.8v.8h-.8zM224.8 334.5h.8v.8h-.8zM244.4 334.0h.8v.8h-.8zM247.7 332.3h.8v.8h-.8zM265.8 323.2h.8v.8h-.8zM247.6 325.7h.8v.8h-.8zM249.3 316.4h.8v.8h-.8zM244.4 325.2h.8v.8h-.8zM236.5 325.5h.8v.8h-.8zM226.8 335.8h.8v.8h-.8zM252.3 338.9h.8v.8h-.8zM235.4 319.3h.8v.8h-.8zM250.2 316.1h.8v.8h-.8zM249.5 322.3h.8v.8h-.8zM242.3 328.4h.8v.8h-.8zM247.2 338.7h.8v.8h-.8zM254.7 318.5h.8v.8h-.8zM259.1 318.2h.8v.8h-.8zM247.7 318.8h.8v.8h-.8zM235.9 335.2h.8v.8h-.8zM239.4 322.6h.8v.8h-.8zM239.3 324.8h.8v.8h-.8zM265.0 319.2h.8v.8h-.8zM230.6 330.5h.8v.8h-.8zM226.0 324.4h.8v.8h-.8zM261.0 326.8h.8v.8h-.8zM240.3 322.2h.8v.8h-.8zM234.7 322.9h.8v.8h-.8zM248.2 334.7h.8v.8h-.8zM258.9 323.1h.8v.8h-.8zM237.1 331.2h.8v.8h-.8zM242.2 319.6h.8v.8h-.8zM233.6 328.9h.8v.8h-.8zM225.1 320.8h.8v.8h-.8zM238.0 327.2h.8v.8h-.8zM228.7 333.6h.8v.8h-.8zM242.3 325.0h.8v.8h-.8zM241.6 322.3h.8v.8h-.8zM233.7 334.0h.8v.8h-.8zM248.8 325.9h.8v.8h-.8zM259.0 322.0h.8v.8h-.8zM254.3 326.7h.8v.8h-.8zM234.8 331.5h.8v.8h-.8zM227.0 330.7h.8v.8h-.8zM234.8 329.2h.8v.8h-.8zM263.8 330.2h.8v.8h-.8zM238.4 326.4h.8v.8h-.8zM241.4 319.0h.8v.8h-.8zM231.9 326.8h.8v.8h-.8zM252.9 315.2h.8v.8h-.8zM245.1 329.7h.8v.8h-.8zM247.4 320.1h.8v.8h-.8zM259.2 318.7h.8v.8h-.8zM254.2 336.7h.8v.8h-.8zM249.9 327.9h.8v.8h-.8zM236.1 324.4h.8v.8h-.8zM228.0 327.3h.8v.8h-.8zM252.7 322.2h.8v.8h-.8zM234.0 323.4h.8v.8h-.8zM245.7 326.8h.8v.8h-.8zM244.5 326.8h.8v.8h-.8zM229.1 309.0h.8v.8h-.8zM253.7 335.5h.8v.8h-.8zM227.7 322.1h.8v.8h-.8zM249.6 332.5h.8v.8h-.8zM254.0 334.5h.8v.8h-.8zM245.1 329.0h.8v.8h-.8zM251.0 323.6h.8v.8h-.8zM261.1 330.3h.8v.8h-.8zM258.2 323.9h.8v.8h-.8zM258.9 319.7h.8v.8h-.8zM250.8 309.7h.8v.8h-.8zM232.9 331.1h.8v.8h-.8zM240.0 327.5h.8v.8h-.8zM225.1 336.2h.8v.8h-.8zM253.3 326.2h.8v.8h-.8zM251.0 328.4h.8v.8h-.8zM263.7 327.7h.8v.8h-.8zM227.0 324.7h.8v.8h-.8zM262.0 330.0h.8v.8h-.8zM240.4 330.2h.8v.8h-.8zM247.2 330.2h.8v.8h-.8zM225.5 320.6h.8v.8h-.8zM254.2 324.9h.8v.8h-.8zM250.2 338.8h.8v.8h-.8zM241.7 327.9h.8v.8h-.8zM238.6 322.4h.8v.8h-.8zM244.8 317.1h.8v.8h-.8zM244.4 333.5h.8v.8h-.8zM247.3 327.3h.8v.8h-.8zM254.2 330.9h.8v.8h-.8zM230.4 334.0h.8v.8h-.8zM233.4 327.6h.8v.8h-.8zM278.2 326.9h.8v.8h-.8zM266.9 324.1h.8v.8h-.8zM253.5 326.7h.8v.8h-.8zM251.0 320.9h.8v.8h-.8zM234.1 328.5h.8v.8h-.8zM225.9 321.0h.8v.8h-.8zM253.9 322.5h.8v.8h-.8zM234.4 319.3h.8v.8h-.8zM247.6 324.0h.8v.8h-.8zM247.6 325.2h.8v.8h-.8zM269.2 323.6h.8v.8h-.8zM245.8 327.4h.8v.8h-.8zM225.4 333.5h.8v.8h-.8zM245.3 326.1h.8v.8h-.8zM225.7 329.4h.8v.8h-.8zM244.9 334.9h.8v.8h-.8zM240.5 318.5h.8v.8h-.8zM247.4 320.6h.8v.8h-.8zM251.0 319.5h.8v.8h-.8zM244.1 324.9h.8v.8h-.8zM245.3 323.1h.8v.8h-.8zM235.5 326.0h.8v.8h-.8zM238.4 327.3h.8v.8h-.8zM242.3 312.2h.8v.8h-.8zM244.9 335.1h.8v.8h-.8zM249.6 330.1h.8v.8h-.8zM251.5 323.4h.8v.8h-.8zM228.9 331.5h.8v.8h-.8zM259.0 329.9h.8v.8h-.8zM251.1 328.9h.8v.8h-.8zM245.4 328.1h.8v.8h-.8zM245.9 328.4h.8v.8h-.8zM233.8 322.4h.8v.8h-.8zM252.9 324.2h.8v.8h-.8zM254.8 330.6h.8v.8h-.8zM237.4 319.3h.8v.8h-.8zM243.1 326.5h.8v.8h-.8zM236.1 327.4h.8v.8h-.8zM254.4 330.1h.8v.8h-.8zM232.8 312.9h.8v.8h-.8zM245.8 322.3h.8v.8h-.8zM251.4 336.7h.8v.8h-.8zM266.3 328.2h.8v.8h-.8zM259.7 336.7h.8v.8h-.8zM246.4 328.1h.8v.8h-.8zM256.5 326.2h.8v.8h-.8zM239.6 321.8h.8v.8h-.8zM246.0 322.6h.8v.8h-.8zM255.8 324.4h.8v.8h-.8zM264.1 334.0h.8v.8h-.8zM230.5 333.2h.8v.8h-.8zM240.9 335.0h.8v.8h-.8zM252.3 326.2h.8v.8h-.8zM254.3 323.0h.8v.8h-.8zM250.1 328.9h.8v.8h-.8zM244.2 328.9h.8v.8h-.8zM233.6 330.0h.8v.8h-.8zM231.0 330.4h.8v.8h-.8zM251.9 330.9h.8v.8h-.8zM239.2 345.3h.8v.8h-.8zM243.3 327.5h.8v.8h-.8zM236.8 335.4h.8v.8h-.8zM240.3 332.7h.8v.8h-.8zM234.5 328.5h.8v.8h-.8zM241.6 332.4h.8v.8h-.8zM242.6 321.3h.8v.8h-.8zM251.8 319.3h.8v.8h-.8zM234.4 331.4h.8v.8h-.8zM241.4 321.0h.8v.8h-.8zM249.3 330.6h.8v.8h-.8zM239.1 325.6h.8v.8h-.8zM256.2 331.3h.8v.8h-.8zM245.8 322.0h.8v.8h-.8zM234.8 323.0h.8v.8h-.8zM254.8 330.3h.8v.8h-.8zM250.2 335.3h.8v.8h-.8zM242.8 324.4h.8v.8h-.8zM241.8 338.5h.8v.8h-.8zM252.0 327.2h.8v.8h-.8zM275.2 334.0h.8v.8h-.8zM256.0 321.3h.8v.8h-.8zM252.7 324.5h.8v.8h-.8zM247.2 328.0h.8v.8h-.8zM240.7 330.7h.8v.8h-.8zM266.6 333.2h.8v.8h-.8zM249.3 315.0h.8v.8h-.8zM260.0 333.5h.8v.8h-.8zM244.4 323.9h.8v.8h-.8zM254.8 321.9h.8v.8h-.8zM256.5 320.3h.8v.8h-.8zM235.5 327.0h.8v.8h-.8zM229.0 326.9h.8v.8h-.8zM253.3 318.9h.8v.8h-.8zM258.1 323.5h.8v.8h-.8zM253.5 328.2h.8v.8h-.8zM241.3 323.7h.8v.8h-.8zM226.0 322.7h.8v.8h-.8zM237.5 337.0h.8v.8h-.8zM259.3 318.6h.8v.8h-.8zM256.7 328.3h.8v.8h-.8zM242.3 329.8h.8v.8h-.8zM256.6 323.5h.8v.8h-.8zM243.6 328.0h.8v.8h-.8zM234.9 328.1h.8v.8h-.8zM245.9 322.8h.8v.8h-.8zM236.7 328.8h.8v.8h-.8zM257.6 329.0h.8v.8h-.8zM236.5 331.5h.8v.8h-.8zM249.0 330.6h.8v.8h-.8zM261.1 321.5h.8v.8h-.8zM245.3 323.3h.8v.8h-.8zM236.3 339.2h.8v.8h-.8zM258.4 316.2h.8v.8h-.8zM252.2 323.6h.8v.8h-.8zM260.9 327.5h.8v.8h-.8zM244.9 327.9h.8v.8h-.8zM251.6 327.2h.8v.8h-.8zM244.3 326.1h.8v.8h-.8zM253.2 320.1h.8v.8h-.8zM247.0 326.3h.8v.8h-.8zM241.1 331.5h.8v.8h-.8zM231.3 324.8h.8v.8h-.8zM236.6 330.3h.8v.8h-.8zM241.3 327.3h.8v.8h-.8zM251.7 317.3h.8v.8h-.8zM252.5 322.5h.8v.8h-.8zM243.9 326.3h.8v.8h-.8zM256.8 331.5h.8v.8h-.8zM268.4 328.1h.8v.8h-.8zM241.2 323.9h.8v.8h-.8zM254.9 336.7h.8v.8h-.8zM251.1 323.5h.8v.8h-.8zM250.3 328.6h.8v.8h-.8zM247.4 322.5h.8v.8h-.8zM259.8 328.3h.8v.8h-.8zM224.6 339.1h.8v.8h-.8zM249.3 319.7h.8v.8h-.8zM256.7 322.3h.8v.8h-.8zM253.8 327.1h.8v.8h-.8zM232.7 331.0h.8v.8h-.8zM230.7 335.1h.8v.8h-.8zM247.7 320.8h.8v.8h-.8zM225.0 336.8h.8v.8h-.8zM264.6 319.4h.8v.8h-.8zM267.0 328.0h.8v.8h-.8zM244.3 326.5h.8v.8h-.8zM243.7 335.7h.8v.8h-.8zM248.8 315.8h.8v.8h-.8zM272.4 332.4h.8v.8h-.8zM233.8 324.8h.8v.8h-.8zM236.0 327.3h.8v.8h-.8zM251.8 328.4h.8v.8h-.8zM239.7 322.1h.8v.8h-.8zM257.3 326.4h.8v.8h-.8zM274.3 322.1h.8v.8h-.8zM256.6 327.3h.8v.8h-.8zM237.8 335.3h.8v.8h-.8zM248.5 321.6h.8v.8h-.8zM243.1 333.2h.8v.8h-.8zM232.1 335.4h.8v.8h-.8zM255.3 325.3h.8v.8h-.8zM263.5 337.6h.8v.8h-.8zM254.3 328.0h.8v.8h-.8zM269.4 336.1h.8v.8h-.8zM235.7 325.7h.8v.8h-.8zM244.4 324.5h.8v.8h-.8zM228.8 332.5h.8v.8h-.8zM248.0 327.6h.8v.8h-.8zM264.1 323.6h.8v.8h-.8zM246.3 328.7h.8v.8h-.8zM241.7 326.3h.8v.8h-.8zM256.3 326.9h.8v.8h-.8zM263.2 322.4h.8v.8h-.8zM249.5 318.3h.8v.8h-.8zM245.6 322.7h.8v.8h-.8zM263.6 331.5h.8v.8h-.8zM253.2 338.3h.8v.8h-.8zM264.6 331.4h.8v.8h-.8zM238.6 318.2h.8v.8h-.8zM246.6 324.8h.8v.8h-.8zM239.1 325.2h.8v.8h-.8zM226.8 336.1h.8v.8h-.8zM233.0 322.9h.8v.8h-.8zM254.0 317.0h.8v.8h-.8zM258.3 332.7h.8v.8h-.8zM243.2 320.4h.8v.8h-.8zM241.2 315.7h.8v.8h-.8zM264.0 327.3h.8v.8h-.8zM238.0 321.4h.8v.8h-.8z" fill="#e00000" fill-opacity="0.45"/>
<path d="M257.0 349.7h.8v.8h-.8zM234.4 344.6h.8v.8h-.8zM228.4 347.7h.8v.8h-.8zM251.9 351.6h.8v.8h-.8zM248.5 344.9h.8v.8h-.8zM241.3 348.1h.8v.8h-.8zM230.0 347.8h.8v.8h-.8zM253.0 344.8h.8v.8h-.8zM238.9 348.6h.8v.8h-.8zM272.9 344.9h.8v.8h-.8zM256.5 350.3h.8v.8h-.8zM242.4 345.4h.8v.8h-.8zM235.0 345.6h.8v.8h-.8zM249.0 345.0h.8v.8h-.8zM240.9 342.1h.8v.8h-.8zM233.4 343.6h.8v.8h-.8zM257.9 344.7h.8v.8h-.8zM239.5 347.6h.8v.8h-.8zM256.9 344.1h.8v.8h-.8zM242.3 347.6h.8v.8h-.8zM254.5 343.9h.8v.8h-.8zM253.0 345.9h.8v.8h-.8zM263.8 343.9h.8v.8h-.8zM260.9 347.1h.8v.8h-.8zM237.5 348.6h.8v.8h-.8zM261.3 342.7h.8v.8h-.8zM274.6 343.2h.8v.8h-.8zM238.6 345.2h.8v.8h-.8zM259.6 347.4h.8v.8h-.8zM248.8 349.4h.8v.8h-.8zM255.0 349.5h.8v.8h-.8zM285.0 346.5h.8v.8h-.8zM236.6 346.2h.8v.8h-.8zM251.2 342.9h.8v.8h-.8zM235.6 345.3h.8v.8h-.8zM247.5 339.5h.8v.8h-.8zM262.2 346.1h.8v.8h-.8zM249.9 346.7h.8v.8h-.8zM237.2 345.9h.8v.8h-.8zM263.0 348.7h.8v.8h-.8zM255.8 345.3h.8v.8h-.8zM239.7 349.3h.8v.8h-.8zM256.6 344.9h.8v.8h-.8zM225.7 349.1h.8v.8h-.8zM252.4 344.1h.8v.8h-.8zM246.5 352.6h.8v.8h-.8zM265.4 342.6h.8v.8h-.8zM248.3 342.9h.8v.8h-.8zM228.1 346.4h.8v.8h-.8zM280.7 350.0h.8v.8h-.8zM250.6 345.0h.8v.8h-.8zM252.6 348.6h.8v.8h-.8zM231.4 341.2h.8v.8h-.8zM274.0 346.7h.8v.8h-.8zM270.5 346.6h.8v.8h-.8zM268.9 344.4h.8v.8h-.8zM256.4 350.0h.8v.8h-.8zM263.1 344.8h.8v.8h-.8zM261.5 344.3h.8v.8h-.8zM231.7 347.3h.8v.8h-.8zM268.0 348.2h.8v.8h-.8zM233.8 348.2h.8v.8h-.8zM258.7 344.8h.8v.8h-.8zM261.4 347.3h.8v.8h-.8zM227.7 342.2h.8v.8h-.8zM263.0 348.1h.8v.8h-.8zM256.4 345.4h.8v.8h-.8zM255.1 344.6h.8v.8h-.8zM246.0 343.8h.8v.8h-.8zM253.3 344.9h.8v.8h-.8zM262.3 347.9h.8v.8h-.8zM239.5 350.7h.8v.8h-.8zM235.5 347.2h.8v.8h-.8zM264.0 349.3h.8v.8h-.8zM265.8 349.7h.8v.8h-.8zM248.7 344.8h.8v.8h-.8zM267.4 344.2h.8v.8h-.8zM265.9 347.5h.8v.8h-.8zM231.1 343.4h.8v.8h-.8zM243.9 346.3h.8v.8h-.8zM262.9 345.5h.8v.8h-.8zM261.8 341.9h.8v.8h-.8zM256.0 345.1h.8v.8h-.8zM236.9 347.1h.8v.8h-.8zM275.1 345.7h.8v.8h-.8zM240.6 343.8h.8v.8h-.8zM275.6 345.9h.8v.8h-.8zM258.0 349.2h.8v.8h-.8zM264.0 343.6h.8v.8h-.8zM262.4 348.2h.8v.8h-.8zM256.4 348.6h.8v.8h-.8zM242.7 345.8h.8v.8h-.8zM243.2 348.0h.8v.8h-.8zM241.5 347.0h.8v.8h-.8zM235.8 345.7h.8v.8h-.8zM245.3 345.7h.8v.8h-.8zM251.7 345.5h.8v.8h-.8zM247.1 340.6h.8v.8h-.8zM264.4 344.4h.8v.8h-.8zM246.8 343.8h.8v.8h-.8zM263.0 343.6h.8v.8h-.8zM256.6 349.1h.8v.8h-.8zM271.4 349.1h.8v.8h-.8zM258.1 342.9h.8v.8h-.8zM266.8 349.1h.8v.8h-.8zM260.9 348.1h.8v.8h-.8zM251.0 344.7h.8v.8h-.8zM264.1 349.3h.8v.8h-.8zM236.6 348.4h.8v.8h-.8zM253.3 348.3h.8v.8h-.8zM253.7 348.9h.8v.8h-.8zM263.4 348.3h.8v.8h-.8zM232.3 348.2h.8v.8h-.8zM250.8 343.1h.8v.8h-.8zM259.3 342.5h.8v.8h-.8zM261.8 350.4h.8v.8h-.8zM243.7 348.4h.8v.8h-.8zM256.1 347.7h.8v.8h-.8zM232.8 347.6h.8v.8h-.8zM252.0 348.0h.8v.8h-.8zM250.4 348.9h.8v.8h-.8zM253.8 347.8h.8v.8h-.8zM268.0 346.5h.8v.8h-.8zM263.1 346.7h.8v.8h-.8zM257.1 344.7h.8v.8h-.8zM260.3 349.2h.8v.8h-.8zM249.3 348.1h.8v.8h-.8zM255.9 343.2h.8v.8h-.8zM254.9 349.5h.8v.8h-.8zM244.2 341.5h.8v.8h-.8zM253.0 344.4h.8v.8h-.8zM274.8 346.0h.8v.8h-.8zM250.4 344.5h.8v.8h-.8zM253.6 344.6h.8v.8h-.8zM238.9 345.9h.8v.8h-.8zM240.1 349.5h.8v.8h-.8zM235.5 345.9h.8v.8h-.8zM241.6 342.6h.8v.8h-.8zM271.7 340.7h.8v.8h-.8zM269.0 342.5h.8v.8h-.8zM251.6 351.9h.8v.8h-.8zM267.2 346.5h.8v.8h-.8zM243.5 346.0h.8v.8h-.8zM238.2 346.4h.8v.8h-.8zM269.5 345.1h.8v.8h-.8zM252.2 349.2h.8v.8h-.8zM275.8 344.6h.8v.8h-.8zM254.3 344.7h.8v.8h-.8zM242.2 345.1h.8v.8h-.8zM242.4 341.7h.8v.8h-.8zM225.1 344.2h.8v.8h-.8zM252.1 349.2h.8v.8h-.8zM243.7 345.7h.8v.8h-.8zM258.9 348.0h.8v.8h-.8zM249.0 346.0h.8v.8h-.8zM274.3 345.2h.8v.8h-.8zM244.2 342.0h.8v.8h-.8zM256.0 345.4h.8v.8h-.8zM274.8 345.2h.8v.8h-.8zM260.8 348.5h.8v.8h-.8zM271.4 342.8h.8v.8h-.8zM270.4 346.1h.8v.8h-.8zM249.1 345.3h.8v.8h-.8zM245.4 345.2h.8v.8h-.8zM251.3 343.7h.8v.8h-.8zM249.6 351.9h.8v.8h-.8zM255.3 345.1h.8v.8h-.8zM272.2 344.1h.8v.8h-.8zM248.5 344.7h.8v.8h-.8zM247.4 347.9h.8v.8h-.8zM257.8 344.2h.8v.8h-.8zM248.8 346.3h.8v.8h-.8zM245.3 346.0h.8v.8h-.8zM241.3 344.2h.8v.8h-.8zM251.0 343.5h.8v.8h-.8zM255.7 345.6h.8v.8h-.8zM238.7 344.5h.8v.8h-.8zM244.4 345.7h.8v.8h-.8zM251.9 345.6h.8v.8h-.8zM239.4 349.7h.8v.8h-.8zM261.9 346.4h.8v.8h-.8zM262.4 346.9h.8v.8h-.8zM247.1 346.3h.8v.8h-.8zM284.1 348.6h.8v.8h-.8zM263.6 345.1h.8v.8h-.8zM258.0 351.8h.8v.8h-.8zM255.8 348.8h.8v.8h-.8zM266.3 347.7h.8v.8h-.8zM270.3 346.7h.8v.8h-.8zM256.7 344.5h.8v.8h-.8zM283.7 346.8h.8v.8h-.8zM251.8 349.6h.8v.8h-.8zM244.2 346.1h.8v.8h-.8zM240.5 346.1h.8v.8h-.8zM245.5 347.4h.8v.8h-.8zM248.8 344.6h.8v.8h-.8zM246.7 345.8h.8v.8h-.8zM243.9 348.4h.8v.8h-.8zM258.8 346.4h.8v.8h-.8zM235.4 347.4h.8v.8h-.8zM234.3 346.5h.8v.8h-.8zM251.0 344.6h.8v.8h-.8zM239.9 344.3h.8v.8h-.8zM276.2 345.4h.8v.8h-.8zM247.8 348.5h.8v.8h-.8zM255.6 348.7h.8v.8h-.8zM234.9 343.3h.8v.8h-.8zM292.2 346.0h.8v.8h-.8zM246.7 346.5h.8v.8h-.8zM262.8 343.1h.8v.8h-.8zM253.9 346.0h.8v.8h-.8zM258.8 346.5h.8v.8h-.8z" fill="#e00000" fill-opacity="0.45"/>
<path d="M278.2 344.8h.8v.8h-.8zM252.5 348.0h.8v.8h-.8zM265.5 345.6h.8v.8h-.8zM293.6 346.0h.8v.8h-.8zM294.8 346.4h.8v.8h-.8zM278.5 348.7h.8v.8h-.8zM281.8 344.0h.8v.8h-.8zM280.9 347.3h.8v.8h-.8zM270.4 347.7h.8v.8h-.8zM295.7 350.0h.8v.8h-.8zM276.7 347.5h.8v.8h-.8zM262.9 345.6h.8v.8h-.8zM286.8 347.1h.8v.8h-.8zM284.6 346.2h.8v.8h-.8zM277.1 345.6h.8v.8h-.8zM289.5 347.3h.8v.8h-.8zM294.0 348.1h.8v.8h-.8zM301.3 343.2h.8v.8h-.8zM278.3 346.1h.8v.8h-.8zM276.7 348.2h.8v.8h-.8zM295.4 346.2h.8v.8h-.8zM287.0 348.5h.8v.8h-.8zM280.7 345.8h.8v.8h-.8zM297.5 347.2h.8v.8h-.8zM295.4 345.4h.8v.8h-.8zM272.7 346.3h.8v.8h-.8zM249.7 347.1h.8v.8h-.8zM298.4 346.5h.8v.8h-.8zM282.4 348.2h.8v.8h-.8zM284.8 348.0h.8v.8h-.8zM297.9 347.2h.8v.8h-.8zM288.7 346.8h.8v.8h-.8zM286.3 348.2h.8v.8h-.8zM263.7 345.9h.8v.8h-.8zM294.2 344.9h.8v.8h-.8zM284.0 345.2h.8v.8h-.8zM291.3 347.8h.8v.8h-.8zM275.7 346.8h.8v.8h-.8zM293.0 348.8h.8v.8h-.8zM256.7 347.0h.8v.8h-.8zM260.9 347.6h.8v.8h-.8zM291.3 347.2h.8v.8h-.8zM297.2 347.0h.8v.8h-.8zM276.7 347.0h.8v.8h-.8zM301.4 346.1h.8v.8h-.8zM285.7 344.3h.8v.8h-.8zM300.9 345.5h.8v.8h-.8zM275.4 345.6h.8v.8h-.8zM273.9 345.9h.8v.8h-.8zM302.4 347.7h.8v.8h-.8zM273.4 347.2h.8v.8h-.8zM266.5 343.9h.8v.8h-.8zM291.6 345.8h.8v.8h-.8zM272.1 347.0h.8v.8h-.8zM274.8 342.4h.8v.8h-.8zM285.0 346.6h.8v.8h-.8zM293.9 348.0h.8v.8h-.8zM287.8 345.9h.8v.8h-.8zM276.4 343.5h.8v.8h-.8zM279.5 348.1h.8v.8h-.8zM294.0 349.9h.8v.8h-.8zM283.3 343.3h.8v.8h-.8zM296.4 348.1h.8v.8h-.8zM269.7 343.6h.8v.8h-.8zM287.3 347.6h.8v.8h-.8zM270.3 345.8h.8v.8h-.8zM274.9 344.3h.8v.8h-.8zM267.7 346.6h.8v.8h-.8zM280.3 345.2h.8v.8h-.8zM250.4 349.3h.8v.8h-.8zM272.6 346.1h.8v.8h-.8zM270.0 347.0h.8v.8h-.8zM265.1 346.5h.8v.8h-.8zM282.7 347.9h.8v.8h-.8zM270.6 345.2h.8v.8h-.8zM282.1 349.9h.8v.8h-.8zM265.5 346.8h.8v.8h-.8zM276.4 346.9h.8v.8h-.8zM293.9 346.6h.8v.8h-.8zM288.7 346.8h.8v.8h-.8zM277.3 345.9h.8v.8h-.8zM263.0 345.7h.8v.8h-.8zM274.9 345.9h.8v.8h-.8zM295.0 347.0h.8v.8h-.8zM291.4 348.2h.8v.8h-.8zM253.3 347.1h.8v.8h-.8zM284.8 346.1h.8v.8h-.8zM267.7 347.3h.8v.8h-.8zM300.4 348.1h.8v.8h-.8zM284.0 347.4h.8v.8h-.8zM297.4 349.4h.8v.8h-.8zM301.5 346.6h.8v.8h-.8zM286.3 346.6h.8v.8h-.8zM288.1 345.5h.8v.8h-.8zM295.4 345.1h.8v.8h-.8zM274.4 346.9h.8v.8h-.8zM277.4 345.9h.8v.8h-.8zM257.3 347.7h.8v.8h-.8zM285.0 346.1h.8v.8h-.8zM291.2 346.7h.8v.8h-.8zM275.7 349.8h.8v.8h-.8zM279.0 348.0h.8v.8h-.8zM286.3 344.9h.8v.8h-.8zM299.1 345.7h.8v.8h-.8zM270.3 348.6h.8v.8h-.8zM297.3 344.8h.8v.8h-.8zM300.8 346.6h.8v.8h-.8zM277.6 345.8h.8v.8h-.8zM273.3 346.5h.8v.8h-.8zM285.7 347.6h.8v.8h-.8zM286.2 343.8h.8v.8h-.8zM274.2 348.7h.8v.8h-.8zM300.4 346.0h.8v.8h-.8zM283.2 346.0h.8v.8h-.8zM285.3 343.4h.8v.8h-.8zM297.0 345.2h.8v.8h-.8zM287.0 342.0h.8v.8h-.8zM288.1 348.6h.8v.8h-.8zM255.1 348.9h.8v.8h-.8zM291.3 345.0h.8v.8h-.8zM263.8 348.3h.8v.8h-.8zM288.5 347.3h.8v.8h-.8zM281.4 344.9h.8v.8h-.8zM296.6 344.7h.8v.8h-.8zM297.1 343.4h.8v.8h-.8zM272.6 343.8h.8v.8h-.8zM302.5 343.3h.8v.8h-.8zM269.8 347.4h.8v.8h-.8zM288.1 350.1h.8v.8h-.8zM294.2 343.2h.8v.8h-.8zM273.2 345.7h.8v.8h-.8zM282.6 343.9h.8v.8h-.8zM272.5 344.8h.8v.8h-.8zM299.2 347.0h.8v.8h-.8zM280.6 345.8h.8v.8h-.8zM288.9 345.1h.8v.8h-.8zM281.5 343.3h.8v.8h-.8zM294.0 348.0h.8v.8h-.8zM289.8 347.1h.8v.8h-.8zM289.9 349.8h.8v.8h-.8zM287.7 344.0h.8v.8h-.8zM271.0 347.5h.8v.8h-.8zM299.3 347.6h.8v.8h-.8zM296.2 346.6h.8v.8h-.8zM265.0 345.1h.8v.8h-.8zM260.7 345.6h.8v.8h-.8zM266.7 346.5h.8v.8h-.8zM282.7 342.9h.8v.8h-.8zM294.8 347.6h.8v.8h-.8zM266.3 346.5h.8v.8h-.8zM294.6 345.8h.8v.8h-.8zM296.4 346.6h.8v.8h-.8zM299.3 346.6h.8v.8h-.8zM282.7 347.2h.8v.8h-.8zM295.4 346.7h.8v.8h-.8zM278.9 344.9h.8v.8h-.8zM279.9 345.3h.8v.8h-.8zM287.6 346.6h.8v.8h-.8zM283.7 346.3h.8v.8h-.8zM287.2 349.0h.8v.8h-.8zM301.0 345.3h.8v.8h-.8zM290.5 345.7h.8v.8h-.8zM283.5 345.9h.8v.8h-.8zM276.4 343.9h.8v.8h-.8zM251.6 346.6h.8v.8h-.8zM300.7 344.7h.8v.8h-.8zM291.6 345.6h.8v.8h-.8zM288.5 344.9h.8v.8h-.8zM281.6 346.1h.8v.8h-.8zM252.7 346.6h.8v.8h-.8zM282.9 342.0h.8v.8h-.8zM293.5 346.2h.8v.8h-.8zM287.5 346.9h.8v.8h-.8zM279.1 344.4h.8v.8h-.8zM278.7 345.5h.8v.8h-.8zM278.1 345.5h.8v.8h-.8zM289.0 347.2h.8v.8h-.8zM275.3 344.5h.8v.8h-.8zM263.6 343.2h.8v.8h-.8zM273.4 346.6h.8v.8h-.8zM292.1 345.7h.8v.8h-.8zM262.7 346.6h.8v.8h-.8zM292.8 346.2h.8v.8h-.8zM277.9 347.3h.8v.8h-.8zM283.8 344.3h.8v.8h-.8zM285.9 344.0h.8v.8h-.8zM297.7 347.1h.8v.8h-.8zM271.0 346.6h.8v.8h-.8zM301.6 342.5h.8v.8h-.8z" fill="#e00000" fill-opacity="0.35"/>
<path d="M286.0 334.4h.8v.8h-.8zM269.5 323.8h.8v.8h-.8zM271.0 324.4h.8v.8h-.8zM259.6 315.3h.8v.8h-.8zM281.4 325.6h.8v.8h-.8zM292.1 327.3h.8v.8h-.8zM301.1 328.9h.8v.8h-.8zM296.3 319.1h.8v.8h-.8z" fill="#e00000" fill-opacity="0.35"/>
<path d="M248.5 364.3h.8v.8h-.8zM267.5 355.1h.8v.8h-.8zM255.5 355.7h.8v.8h-.8zM246.6 359.5h.8v.8h-.8zM246.8 351.6h.8v.8h-.8zM266.8 343.7h.8v.8h-.8zM252.6 345.1h.8v.8h-.8zM244.6 351.5h.8v.8h-.8zM247.0 352.6h.8v.8h-.8zM243.7 351.5h.8v.8h-.8zM240.4 350.4h.8v.8h-.8zM238.8 354.5h.8v.8h-.8zM239.6 354.6h.8v.8h-.8zM246.5 350.7h.8v.8h-.8zM259.1 352.3h.8v.8h-.8zM234.8 353.8h.8v.8h-.8zM226.9 352.9h.8v.8h-.8zM246.6 346.4h.8v.8h-.8zM250.4 350.7h.8v.8h-.8zM265.6 350.1h.8v.8h-.8zM265.1 357.3h.8v.8h-.8zM244.9 348.7h.8v.8h-.8zM260.2 351.3h.8v.8h-.8zM251.0 350.9h.8v.8h-.8zM240.2 350.4h.8v.8h-.8z" fill="#e00000" fill-opacity="0.3"/>
<path d="M227.2 342.0h.8v.8h-.8zM233.1 350.5h.8v.8h-.8zM250.2 345.8h.8v.8h-.8zM236.9 347.2h.8v.8h-.8zM247.9 346.7h.8v.8h-.8zM231.5 344.9h.8v.8h-.8zM245.9 352.6h.8v.8h-.8zM230.1 340.6h.8v.8h-.8zM243.0 345.7h.8v.8h-.8zM237.0 349.1h.8v.8h-.8zM236.3 342.5h.8v.8h-.8zM225.4 346.7h.8v.8h-.8zM224.3 345.0h.8v.8h-.8zM231.7 347.5h.8v.8h-.8zM247.8 345.4h.8v.8h-.8zM228.0 351.0h.8v.8h-.8zM239.0 347.5h.8v.8h-.8zM241.2 349.7h.8v.8h-.8zM244.8 347.7h.8v.8h-.8zM242.6 343.7h.8v.8h-.8zM230.3 345.7h.8v.8h-.8zM236.6 346.0h.8v.8h-.8zM238.5 346.0h.8v.8h-.8zM231.9 341.7h.8v.8h-.8zM243.3 347.5h.8v.8h-.8zM227.9 347.2h.8v.8h-.8zM239.3 346.1h.8v.8h-.8zM230.4 350.1h.8v.8h-.8zM228.1 345.0h.8v.8h-.8zM225.8 344.7h.8v.8h-.8zM238.8 340.6h.8v.8h-.8zM236.1 344.4h.8v.8h-.8zM244.5 348.5h.8v.8h-.8zM245.7 344.2h.8v.8h-.8zM232.9 348.4h.8v.8h-.8zM233.4 342.8h.8v.8h-.8zM229.6 342.5h.8v.8h-.8zM240.7 341.5h.8v.8h-.8zM244.8 341.7h.8v.8h-.8zM236.2 342.1h.8v.8h-.8zM232.9 348.6h.8v.8h-.8zM245.9 349.3h.8v.8h-.8zM235.0 346.2h.8v.8h-.8zM237.9 347.5h.8v.8h-.8zM232.2 348.8h.8v.8h-.8zM238.7 348.9h.8v.8h-.8zM240.1 347.7h.8v.8h-.8zM229.2 344.8h.8v.8h-.8zM224.1 345.2h.8v.8h-.8zM234.2 348.1h.8v.8h-.8zM224.4 354.3h.8v.8h-.8zM234.7 349.2h.8v.8h-.8zM245.1 339.4h.8v.8h-.8zM233.4 349.8h.8v.8h-.8zM227.5 344.7h.8v.8h-.8zM237.8 341.1h.8v.8h-.8zM237.5 344.2h.8v.8h-.8zM229.0 347.8h.8v.8h-.8zM267.3 346.8h.8v.8h-.8zM240.7 345.8h.8v.8h-.8zM229.2 346.6h.8v.8h-.8zM249.4 346.4h.8v.8h-.8zM243.8 345.3h.8v.8h-.8zM258.4 341.6h.8v.8h-.8zM241.0 347.3h.8v.8h-.8zM238.1 343.0h.8v.8h-.8zM225.5 345.3h.8v.8h-.8zM236.6 342.8h.8v.8h-.8zM226.1 347.4h.8v.8h-.8zM245.0 344.5h.8v.8h-.8zM229.4 344.0h.8v.8h-.8zM258.0 347.2h.8v.8h-.8zM235.1 348.5h.8v.8h-.8zM256.4 349.0h.8v.8h-.8zM232.0 345.0h.8v.8h-.8zM224.7 344.9h.8v.8h-.8zM225.9 346.8h.8v.8h-.8zM236.1 342.2h.8v.8h-.8zM241.5 347.2h.8v.8h-.8zM235.1 337.3h.8v.8h-.8zM231.2 344.0h.8v.8h-.8zM232.6 342.7h.8v.8h-.8zM231.7 344.2h.8v.8h-.8zM260.1 347.7h.8v.8h-.8zM233.9 345.8h.8v.8h-.8zM234.6 346.4h.8v.8h-.8zM232.0 345.8h.8v.8h-.8zM244.9 348.1h.8v.8h-.8zM238.4 349.4h.8v.8h-.8zM237.7 343.3h.8v.8h-.8zM235.1 346.9h.8v.8h-.8zM245.4 344.4h.8v.8h-.8zM228.4 347.9h.8v.8h-.8zM246.3 344.7h.8v.8h-.8zM238.7 349.5h.8v.8h-.8zM238.5 345.8h.8v.8h-.8zM241.5 346.2h.8v.8h-.8zM231.4 342.6h.8v.8h-.8zM234.7 345.6h.8v.8h-.8zM245.5 342.7h.8v.8h-.8zM248.6 346.0h.8v.8h-.8zM246.4 343.4h.8v.8h-.8zM238.8 349.1h.8v.8h-.8zM236.7 342.1h.8v.8h-.8zM232.7 347.3h.8v.8h-.8zM237.8 343.4h.8v.8h-.8zM241.8 342.8h.8v.8h-.8zM249.1 343.6h.8v.8h-.8zM235.6 346.5h.8v.8h-.8zM227.1 348.7h.8v.8h-.8zM237.2 347.1h.8v.8h-.8zM233.6 347.8h.8v.8h-.8zM249.0 345.2h.8v.8h-.8zM233.2 347.1h.8v.8h-.8zM249.4 343.8h.8v.8h-.8zM241.3 345.3h.8v.8h-.8zM232.6 348.0h.8v.8h-.8zM228.5 343.1h.8v.8h-.8zM241.7 345.8h.8v.8h-.8zM233.3 345.6h.8v.8h-.8zM240.1 344.9h.8v.8h-.8zM242.6 347.0h.8v.8h-.8zM249.0 349.2h.8v.8h-.8zM243.4 345.4h.8v.8h-.8zM236.7 344.4h.8v.8h-.8zM261.4 345.3h.8v.8h-.8z" fill="#e00000" fill-opacity="0.45"/>
<path d="M238.2 335.0h.8v.8h-.8zM230.6 320.8h.8v.8h-.8zM223.6 323.7h.8v.8h-.8zM244.1 331.1h.8v.8h-.8zM234.0 327.0h.8v.8h-.8zM237.2 320.3h.8v.8h-.8zM235.4 325.7h.8v.8h-.8zM229.6 320.9h.8v.8h-.8zM228.3 321.2h.8v.8h-.8zM237.4 329.0h.8v.8h-.8zM236.3 325.7h.8v.8h-.8zM230.5 339.1h.8v.8h-.8zM236.6 327.2h.8v.8h-.8zM229.7 325.5h.8v.8h-.8zM224.3 318.5h.8v.8h-.8zM232.9 316.9h.8v.8h-.8zM240.5 333.5h.8v.8h-.8zM235.9 328.1h.8v.8h-.8zM234.7 329.4h.8v.8h-.8zM239.7 332.0h.8v.8h-.8zM248.1 327.0h.8v.8h-.8zM240.7 317.1h.8v.8h-.8zM232.7 319.5h.8v.8h-.8zM244.9 340.8h.8v.8h-.8zM238.1 319.0h.8v.8h-.8zM232.9 327.0h.8v.8h-.8zM235.4 333.4h.8v.8h-.8zM241.4 311.0h.8v.8h-.8zM244.7 323.9h.8v.8h-.8zM229.3 335.4h.8v.8h-.8zM231.7 318.6h.8v.8h-.8zM241.1 335.9h.8v.8h-.8zM232.4 324.0h.8v.8h-.8zM246.8 324.1h.8v.8h-.8zM245.5 328.3h.8v.8h-.8zM235.7 325.4h.8v.8h-.8zM236.2 324.1h.8v.8h-.8zM228.4 326.1h.8v.8h-.8zM228.6 328.7h.8v.8h-.8zM234.5 325.3h.8v.8h-.8zM232.2 325.5h.8v.8h-.8zM247.7 326.8h.8v.8h-.8zM229.1 325.1h.8v.8h-.8zM239.1 325.7h.8v.8h-.8zM232.6 325.3h.8v.8h-.8zM235.1 329.2h.8v.8h-.8zM237.4 317.0h.8v.8h-.8zM225.3 311.1h.8v.8h-.8zM240.2 333.5h.8v.8h-.8zM244.2 327.7h.8v.8h-.8zM243.0 326.6h.8v.8h-.8zM232.8 317.6h.8v.8h-.8zM227.6 323.3h.8v.8h-.8zM241.2 336.8h.8v.8h-.8zM230.1 329.1h.8v.8h-.8zM236.0 322.2h.8v.8h-.8zM232.7 325.8h.8v.8h-.8zM232.5 329.7h.8v.8h-.8zM226.4 332.2h.8v.8h-.8zM236.9 322.1h.8v.8h-.8zM228.4 331.5h.8v.8h-.8zM239.9 326.8h.8v.8h-.8zM233.8 332.8h.8v.8h-.8zM236.8 321.2h.8v.8h-.8zM235.1 330.2h.8v.8h-.8zM235.4 328.0h.8v.8h-.8zM232.6 326.1h.8v.8h-.8zM226.3 318.3h.8v.8h-.8zM242.8 323.0h.8v.8h-.8zM235.6 317.9h.8v.8h-.8zM235.0 321.9h.8v.8h-.8zM257.4 320.7h.8v.8h-.8zM226.1 332.5h.8v.8h-.8zM242.8 314.3h.8v.8h-.8zM235.8 332.1h.8v.8h-.8zM224.0 330.9h.8v.8h-.8zM229.6 320.9h.8v.8h-.8zM231.0 324.1h.8v.8h-.8zM230.2 322.4h.8v.8h-.8zM240.6 326.4h.8v.8h-.8zM244.4 325.2h.8v.8h-.8zM236.6 327.4h.8v.8h-.8zM235.1 325.6h.8v.8h-.8zM232.9 336.8h.8v.8h-.8zM228.4 323.6h.8v.8h-.8zM231.0 330.2h.8v.8h-.8zM237.0 332.4h.8v.8h-.8zM232.4 325.1h.8v.8h-.8zM235.1 315.1h.8v.8h-.8zM235.9 327.7h.8v.8h-.8zM246.1 324.5h.8v.8h-.8zM238.5 325.5h.8v.8h-.8zM227.3 321.4h.8v.8h-.8zM230.6 334.6h.8v.8h-.8zM240.2 322.6h.8v.8h-.8zM241.7 326.1h.8v.8h-.8zM228.3 329.4h.8v.8h-.8zM226.5 317.5h.8v.8h-.8zM244.0 316.0h.8v.8h-.8zM238.1 317.8h.8v.8h-.8zM233.5 325.7h.8v.8h-.8zM230.3 313.9h.8v.8h-.8zM232.9 326.6h.8v.8h-.8zM226.7 326.4h.8v.8h-.8zM241.6 322.6h.8v.8h-.8zM235.8 320.0h.8v.8h-.8zM236.8 330.6h.8v.8h-.8zM253.4 332.2h.8v.8h-.8zM237.2 335.2h.8v.8h-.8zM225.9 333.2h.8v.8h-.8zM229.5 323.2h.8v.8h-.8zM242.5 328.2h.8v.8h-.8zM244.3 318.3h.8v.8h-.8zM236.0 323.7h.8v.8h-.8zM231.7 315.6h.8v.8h-.8zM241.2 328.1h.8v.8h-.8zM226.1 318.9h.8v.8h-.8zM227.0 335.1h.8v.8h-.8zM233.0 324.9h.8v.8h-.8zM237.7 327.0h.8v.8h-.8zM235.7 331.3h.8v.8h-.8zM236.5 332.1h.8v.8h-.8zM224.5 327.3h.8v.8h-.8zM231.1 327.5h.8v.8h-.8zM233.6 323.2h.8v.8h-.8zM231.2 332.5h.8v.8h-.8zM229.6 319.6h.8v.8h-.8zM238.6 332.7h.8v.8h-.8zM231.8 327.7h.8v.8h-.8zM227.4 325.8h.8v.8h-.8zM242.6 331.7h.8v.8h-.8zM235.1 325.3h.8v.8h-.8zM237.6 333.2h.8v.8h-.8zM249.8 329.2h.8v.8h-.8zM241.5 320.4h.8v.8h-.8zM243.4 332.1h.8v.8h-.8zM244.7 331.0h.8v.8h-.8zM237.5 335.7h.8v.8h-.8zM228.8 330.8h.8v.8h-.8zM242.5 322.4h.8v.8h-.8zM225.0 329.6h.8v.8h-.8zM235.0 330.6h.8v.8h-.8zM239.1 322.5h.8v.8h-.8zM236.7 333.6h.8v.8h-.8zM231.3 325.4h.8v.8h-.8zM225.3 331.8h.8v.8h-.8zM249.3 319.0h.8v.8h-.8zM240.0 332.3h.8v.8h-.8zM229.7 324.9h.8v.8h-.8zM225.9 322.5h.8v.8h-.8zM235.4 330.9h.8v.8h-.8zM235.0 332.1h.8v.8h-.8zM235.7 320.3h.8v.8h-.8zM245.4 334.0h.8v.8h-.8zM228.6 337.5h.8v.8h-.8zM237.8 327.9h.8v.8h-.8zM249.1 312.5h.8v.8h-.8zM232.2 321.6h.8v.8h-.8zM245.9 330.0h.8v.8h-.8zM224.2 323.3h.8v.8h-.8zM240.8 337.6h.8v.8h-.8zM231.2 316.9h.8v.8h-.8zM232.9 317.8h.8v.8h-.8zM230.0 336.6h.8v.8h-.8zM238.2 331.7h.8v.8h-.8zM238.9 329.2h.8v.8h-.8zM241.8 320.4h.8v.8h-.8zM231.4 332.2h.8v.8h-.8zM228.6 324.6h.8v.8h-.8zM243.7 336.2h.8v.8h-.8zM229.5 322.4h.8v.8h-.8zM238.8 328.8h.8v.8h-.8zM229.0 330.7h.8v.8h-.8zM238.6 327.7h.8v.8h-.8zM257.2 335.2h.8v.8h-.8zM240.7 333.2h.8v.8h-.8zM257.4 333.7h.8v.8h-.8zM228.7 329.1h.8v.8h-.8zM234.9 323.9h.8v.8h-.8zM236.4 328.7h.8v.8h-.8zM233.9 324.4h.8v.8h-.8zM240.8 317.9h.8v.8h-.8zM240.8 327.3h.8v.8h-.8zM236.5 313.3h.8v.8h-.8zM247.5 317.1h.8v.8h-.8z" fill="#e00000" fill-opacity="0.45"/>
</g></g>
<rect x="223.50" y="308.40" width="80.3" height="66.8" fill="none" stroke="#7a7a7a" stroke-width="0.9"/>
<line x1="270.50" y1="308.40" x2="270.50" y2="375.20" stroke="#7a7a7a" stroke-width="0.9"/>
<line x1="223.50" y1="338.50" x2="303.80" y2="338.50" stroke="#7a7a7a" stroke-width="0.9"/>
<text x="263.00" y="303.20" font-size="7.6" text-anchor="middle" fill="#111" stroke="#111" stroke-width="0.1" textLength="68.4" lengthAdjust="spacingAndGlyphs" >IBL-202 + venetoclax</text>
<text x="226.90" y="316.20" font-size="5.9" text-anchor="start" fill="#111" stroke="#111" stroke-width="0.3" font-weight="bold" >19,710</text>
<path d="M224.66 375.20v1.3M223.50 374.48h-1.3M227.13 375.20v1.3M223.50 372.39h-1.3M229.05 375.20v1.3M223.50 370.76h-1.3M230.61 375.20v1.3M223.50 369.43h-1.3M231.94 375.20v1.3M223.50 368.30h-1.3M233.08 375.20v1.3M223.50 367.33h-1.3M234.10 375.20v1.3M223.50 366.47h-1.3M235.00 375.20v1.8M223.50 365.70h-1.8M240.95 375.20v1.3M223.50 360.64h-1.3M244.43 375.20v1.3M223.50 357.68h-1.3M246.90 375.20v1.3M223.50 355.59h-1.3M248.82 375.20v1.3M223.50 353.96h-1.3M250.38 375.20v1.3M223.50 352.63h-1.3M251.71 375.20v1.3M223.50 351.50h-1.3M252.85 375.20v1.3M223.50 350.53h-1.3M253.87 375.20v1.3M223.50 349.67h-1.3M254.77 375.20v1.8M223.50 348.90h-1.8M260.72 375.20v1.3M223.50 343.84h-1.3M264.20 375.20v1.3M223.50 340.88h-1.3M266.67 375.20v1.3M223.50 338.79h-1.3M268.59 375.20v1.3M223.50 337.16h-1.3M270.15 375.20v1.3M223.50 335.83h-1.3M271.48 375.20v1.3M223.50 334.70h-1.3M272.62 375.20v1.3M223.50 333.73h-1.3M273.64 375.20v1.3M223.50 332.87h-1.3M274.54 375.20v1.8M223.50 332.10h-1.8M280.49 375.20v1.3M223.50 327.04h-1.3M283.97 375.20v1.3M223.50 324.08h-1.3M286.44 375.20v1.3M223.50 321.99h-1.3M288.36 375.20v1.3M223.50 320.36h-1.3M289.92 375.20v1.3M223.50 319.03h-1.3M291.25 375.20v1.3M223.50 317.90h-1.3M292.39 375.20v1.3M223.50 316.93h-1.3M293.41 375.20v1.3M223.50 316.07h-1.3M294.31 375.20v1.8M223.50 315.30h-1.8M300.26 375.20v1.3M223.50 310.24h-1.3" stroke="#666" stroke-width="0.7" fill="none"/>
<text x="217.20" y="317.50" font-size="6.2" text-anchor="end" fill="#222" stroke="#222" stroke-width="0.12" textLength="6.6" lengthAdjust="spacingAndGlyphs" >10</text>
<text x="217.40" y="314.70" font-size="4.4" text-anchor="start" fill="#222" stroke="#222" stroke-width="0.05" >5</text>
<text x="217.20" y="334.30" font-size="6.2" text-anchor="end" fill="#222" stroke="#222" stroke-width="0.12" textLength="6.6" lengthAdjust="spacingAndGlyphs" >10</text>
<text x="217.40" y="331.50" font-size="4.4" text-anchor="start" fill="#222" stroke="#222" stroke-width="0.05" >4</text>
<text x="217.20" y="351.10" font-size="6.2" text-anchor="end" fill="#222" stroke="#222" stroke-width="0.12" textLength="6.6" lengthAdjust="spacingAndGlyphs" >10</text>
<text x="217.40" y="348.30" font-size="4.4" text-anchor="start" fill="#222" stroke="#222" stroke-width="0.05" >3</text>
<text x="217.20" y="367.90" font-size="6.2" text-anchor="end" fill="#222" stroke="#222" stroke-width="0.12" textLength="6.6" lengthAdjust="spacingAndGlyphs" >10</text>
<text x="217.40" y="365.10" font-size="4.4" text-anchor="start" fill="#222" stroke="#222" stroke-width="0.05" >2</text>
<text x="237.00" y="385.30" font-size="6.2" text-anchor="end" fill="#222" stroke="#222" stroke-width="0.12" textLength="6.6" lengthAdjust="spacingAndGlyphs" >10</text>
<text x="237.20" y="382.50" font-size="4.4" text-anchor="start" fill="#222" stroke="#222" stroke-width="0.05" >2</text>
<text x="256.77" y="385.30" font-size="6.2" text-anchor="end" fill="#222" stroke="#222" stroke-width="0.12" textLength="6.6" lengthAdjust="spacingAndGlyphs" >10</text>
<text x="256.97" y="382.50" font-size="4.4" text-anchor="start" fill="#222" stroke="#222" stroke-width="0.05" >3</text>
<text x="276.54" y="385.30" font-size="6.2" text-anchor="end" fill="#222" stroke="#222" stroke-width="0.12" textLength="6.6" lengthAdjust="spacingAndGlyphs" >10</text>
<text x="276.74" y="382.50" font-size="4.4" text-anchor="start" fill="#222" stroke="#222" stroke-width="0.05" >4</text>
<text x="296.31" y="385.30" font-size="6.2" text-anchor="end" fill="#222" stroke="#222" stroke-width="0.12" textLength="6.6" lengthAdjust="spacingAndGlyphs" >10</text>
<text x="296.51" y="382.50" font-size="4.4" text-anchor="start" fill="#222" stroke="#222" stroke-width="0.05" >5</text>
<path d="M11.1,364 L11.1,394.3 L50,394.3" stroke="#000" stroke-width="1.4" fill="none"/>
<path d="M11.1,359.6 L8.0,366.2 L14.2,366.2Z" fill="#000"/>
<path d="M53.6,394.3 L47.0,391.2 L47.0,397.4Z" fill="#000"/>
<text x="0" y="0" font-size="8.4" font-weight="bold" text-anchor="middle" fill="#111" transform="translate(13.4,343.9) rotate(-90)" textLength="22.4" lengthAdjust="spacingAndGlyphs">DiIC<tspan font-size="5.5" dy="1.6">1</tspan><tspan dy="-1.6">(5)</tspan></text>
<text x="56.80" y="397.50" font-size="8.7" text-anchor="start" fill="#111" stroke="#111" stroke-width="0.35" textLength="46.5" lengthAdjust="spacingAndGlyphs" >Propidium iodide</text>
<line x1="347.00" y1="276.80" x2="347.00" y2="359.80" stroke="#000" stroke-width="1.3"/>
<line x1="346.40" y1="359.20" x2="513.30" y2="359.20" stroke="#000" stroke-width="1.3"/>
<line x1="344.20" y1="359.20" x2="347.00" y2="359.20" stroke="#000" stroke-width="1.0"/>
<text x="340.80" y="361.70" font-size="7.2" text-anchor="end" fill="#1a1a1a" stroke="#1a1a1a" stroke-width="0.1" >0</text>
<line x1="345.60" y1="351.22" x2="347.00" y2="351.22" stroke="#000" stroke-width="0.9"/>
<line x1="344.20" y1="343.24" x2="347.00" y2="343.24" stroke="#000" stroke-width="1.0"/>
<text x="340.80" y="345.74" font-size="7.2" text-anchor="end" fill="#1a1a1a" stroke="#1a1a1a" stroke-width="0.1" >2</text>
<line x1="345.60" y1="335.26" x2="347.00" y2="335.26" stroke="#000" stroke-width="0.9"/>
<line x1="344.20" y1="327.28" x2="347.00" y2="327.28" stroke="#000" stroke-width="1.0"/>
<text x="340.80" y="329.78" font-size="7.2" text-anchor="end" fill="#1a1a1a" stroke="#1a1a1a" stroke-width="0.1" >4</text>
<line x1="345.60" y1="319.30" x2="347.00" y2="319.30" stroke="#000" stroke-width="0.9"/>
<line x1="344.20" y1="311.32" x2="347.00" y2="311.32" stroke="#000" stroke-width="1.0"/>
<text x="340.80" y="313.82" font-size="7.2" text-anchor="end" fill="#1a1a1a" stroke="#1a1a1a" stroke-width="0.1" >6</text>
<line x1="345.60" y1="303.34" x2="347.00" y2="303.34" stroke="#000" stroke-width="0.9"/>
<line x1="344.20" y1="295.36" x2="347.00" y2="295.36" stroke="#000" stroke-width="1.0"/>
<text x="340.80" y="297.86" font-size="7.2" text-anchor="end" fill="#1a1a1a" stroke="#1a1a1a" stroke-width="0.1" >8</text>
<line x1="345.60" y1="287.38" x2="347.00" y2="287.38" stroke="#000" stroke-width="0.9"/>
<line x1="344.20" y1="279.40" x2="347.00" y2="279.40" stroke="#000" stroke-width="1.0"/>
<text x="340.80" y="281.90" font-size="7.2" text-anchor="end" fill="#1a1a1a" stroke="#1a1a1a" stroke-width="0.1" textLength="7.2" lengthAdjust="spacingAndGlyphs" >10</text>
<text x="0" y="0" font-size="9.2" text-anchor="middle" fill="#111" stroke="#111" stroke-width="0.22" transform="translate(327.5,317.9) rotate(-90)" textLength="81.5" lengthAdjust="spacingAndGlyphs">Fold change in cell migration</text>
<line x1="367.90" y1="359.20" x2="367.90" y2="362.00" stroke="#000" stroke-width="1.0"/>
<line x1="398.70" y1="359.20" x2="398.70" y2="362.00" stroke="#000" stroke-width="1.0"/>
<line x1="429.90" y1="359.20" x2="429.90" y2="362.00" stroke="#000" stroke-width="1.0"/>
<line x1="461.00" y1="359.20" x2="461.00" y2="362.00" stroke="#000" stroke-width="1.0"/>
<line x1="492.10" y1="359.20" x2="492.10" y2="362.00" stroke="#000" stroke-width="1.0"/>
<line x1="358.90" y1="351.30" x2="376.90" y2="351.30" stroke="#3a0a14" stroke-width="0.9"/>
<circle cx="358.90" cy="351.30" r="1.65" fill="#9c0c2c"/>
<circle cx="362.50" cy="351.30" r="1.65" fill="#9c0c2c"/>
<circle cx="366.10" cy="351.30" r="1.65" fill="#9c0c2c"/>
<circle cx="369.70" cy="351.30" r="1.65" fill="#9c0c2c"/>
<circle cx="373.30" cy="351.30" r="1.65" fill="#9c0c2c"/>
<circle cx="376.90" cy="351.30" r="1.65" fill="#9c0c2c"/>
<rect x="397.10" y="289.60" width="2.8" height="2.8" fill="#1f3d7a"/>
<rect x="397.10" y="292.50" width="2.8" height="2.8" fill="#1f3d7a"/>
<rect x="392.00" y="303.90" width="2.8" height="2.8" fill="#1f3d7a"/>
<rect x="397.10" y="306.10" width="2.8" height="2.8" fill="#1f3d7a"/>
<rect x="403.10" y="304.70" width="2.8" height="2.8" fill="#1f3d7a"/>
<rect x="397.10" y="316.70" width="2.8" height="2.8" fill="#1f3d7a"/>
<line x1="388.10" y1="303.60" x2="409.70" y2="303.60" stroke="#2a2a2a" stroke-width="1.3"/>
<path d="M428.50,306.24 L431.70,306.24 L430.10,303.36Z" fill="#4aa832"/>
<path d="M422.40,317.74 L425.60,317.74 L424.00,314.86Z" fill="#4aa832"/>
<path d="M428.50,318.44 L431.70,318.44 L430.10,315.56Z" fill="#4aa832"/>
<path d="M433.90,317.74 L437.10,317.74 L435.50,314.86Z" fill="#4aa832"/>
<path d="M428.50,322.44 L431.70,322.44 L430.10,319.56Z" fill="#4aa832"/>
<path d="M428.50,328.94 L431.70,328.94 L430.10,326.06Z" fill="#4aa832"/>
<line x1="419.70" y1="316.70" x2="440.90" y2="316.70" stroke="#2a2a2a" stroke-width="1.3"/>
<path d="M459.60,309.46 L462.80,309.46 L461.20,312.34Z" fill="#4a1a70"/>
<path d="M459.60,315.66 L462.80,315.66 L461.20,318.54Z" fill="#4a1a70"/>
<path d="M459.60,319.16 L462.80,319.16 L461.20,322.04Z" fill="#4a1a70"/>
<path d="M459.60,325.66 L462.80,325.66 L461.20,328.54Z" fill="#4a1a70"/>
<path d="M459.60,330.36 L462.80,330.36 L461.20,333.24Z" fill="#4a1a70"/>
<path d="M459.60,338.56 L462.80,338.56 L461.20,341.44Z" fill="#4a1a70"/>
<line x1="450.60" y1="325.40" x2="472.00" y2="325.40" stroke="#2a2a2a" stroke-width="1.3"/>
<circle cx="486.20" cy="340.90" r="1.45" fill="#f0900c"/>
<circle cx="497.50" cy="341.60" r="1.45" fill="#f0900c"/>
<circle cx="492.10" cy="342.20" r="1.45" fill="#f0900c"/>
<circle cx="492.10" cy="344.80" r="1.45" fill="#f0900c"/>
<circle cx="489.00" cy="349.50" r="1.45" fill="#f0900c"/>
<circle cx="494.90" cy="348.70" r="1.45" fill="#f0900c"/>
<line x1="481.30" y1="344.40" x2="502.40" y2="344.40" stroke="#2a2a2a" stroke-width="1.3"/>
<path d="M398.00,244.70 L398.00,241.90 L494.30,241.90 L494.30,244.70" stroke="#000" stroke-width="1.1" fill="none"/>
<text x="446.10" y="236.90" font-size="7.2" text-anchor="middle" fill="#1a1a1a" stroke="#1a1a1a" stroke-width="0.12" textLength="44" lengthAdjust="spacingAndGlyphs" >p = 0.000473</text>
<path d="M367.70,266.70 L367.70,263.90 L398.50,263.90 L398.50,266.70" stroke="#000" stroke-width="1.1" fill="none"/>
<text x="383.00" y="259.60" font-size="7.2" text-anchor="middle" fill="#1a1a1a" stroke="#1a1a1a" stroke-width="0.12" textLength="33.5" lengthAdjust="spacingAndGlyphs" >p &lt; 0.0001</text>
<path d="M429.50,266.70 L429.50,263.90 L494.30,263.90 L494.30,266.70" stroke="#000" stroke-width="1.1" fill="none"/>
<text x="461.90" y="259.40" font-size="7.2" text-anchor="middle" fill="#1a1a1a" stroke="#1a1a1a" stroke-width="0.12" textLength="44.3" lengthAdjust="spacingAndGlyphs" >p = 0.000948</text>
<path d="M462.40,290.20 L462.40,287.40 L494.30,287.40 L494.30,290.20" stroke="#000" stroke-width="1.1" fill="none"/>
<text x="478.40" y="282.80" font-size="7.2" text-anchor="middle" fill="#1a1a1a" stroke="#1a1a1a" stroke-width="0.12" textLength="40.3" lengthAdjust="spacingAndGlyphs" >p = 0.00638</text>
<text x="0" y="0" font-size="7.4" text-anchor="end" fill="#111" stroke="#111" stroke-width="0.22" transform="translate(370.80,370.50) rotate(-45)">Medium</text>
<text x="0" y="0" font-size="7.4" text-anchor="end" fill="#111" stroke="#111" stroke-width="0.22" transform="translate(401.80,370.50) rotate(-45)">SDF-1α</text>
<text x="0" y="0" font-size="7.4" text-anchor="end" fill="#111" stroke="#111" stroke-width="0.22" transform="translate(433.10,370.50) rotate(-45)">SDF-1α</text>
<text x="0" y="0" font-size="7.4" text-anchor="end" fill="#111" stroke="#111" stroke-width="0.22" transform="translate(440.10,377.50) rotate(-45)">+IBL-202</text>
<text x="0" y="0" font-size="7.4" text-anchor="end" fill="#111" stroke="#111" stroke-width="0.22" transform="translate(464.20,370.50) rotate(-45)">SDF-1α</text>
<text x="0" y="0" font-size="7.4" text-anchor="end" fill="#111" stroke="#111" stroke-width="0.22" transform="translate(471.20,377.50) rotate(-45)">+venetoclax</text>
<text x="0" y="0" font-size="7.4" text-anchor="end" fill="#111" stroke="#111" stroke-width="0.22" transform="translate(495.10,370.50) rotate(-45)">SDF-1α</text>
<text x="0" y="0" font-size="7.4" text-anchor="end" fill="#111" stroke="#111" stroke-width="0.22" transform="translate(502.10,377.50) rotate(-45)">+IBL-202</text>
<text x="0" y="0" font-size="7.4" text-anchor="end" fill="#111" stroke="#111" stroke-width="0.22" transform="translate(509.10,384.50) rotate(-45)">+venetoclax</text>
</svg></body></html>
